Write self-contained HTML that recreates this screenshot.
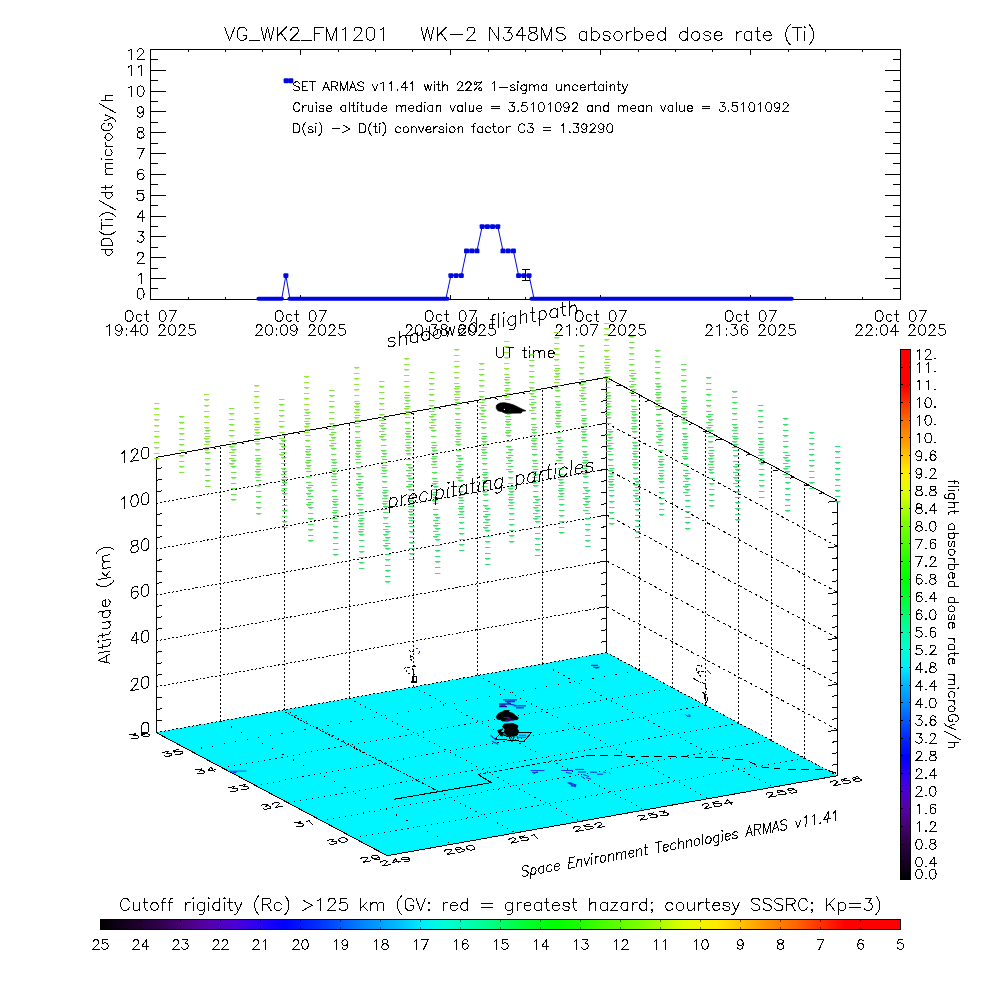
<!DOCTYPE html>
<html><head><meta charset="utf-8"><title>ARMAS absorbed dose rate</title>
<style>
html,body{margin:0;padding:0;background:#fff;}
body{width:1000px;height:1000px;overflow:hidden;font-family:"Liberation Sans",sans-serif;}
svg{display:block;}
</style></head><body>
<svg width="1000" height="1000" viewBox="0 0 1000 1000">
<rect x="0" y="0" width="1000" height="1000" fill="#fff"/>
<g id="topplot" shape-rendering="crispEdges">
<rect x="150.5" y="49.5" width="750.0" height="250.0" fill="none" stroke="#000" stroke-width="1"/>
<line x1="150.5" y1="299.5" x2="166.1" y2="299.5" stroke="#000" stroke-width="1"/>
<line x1="900.5" y1="299.5" x2="884.9" y2="299.5" stroke="#000" stroke-width="1"/>
<line x1="150.5" y1="288.5" x2="158.1" y2="288.5" stroke="#000" stroke-width="1"/>
<line x1="900.5" y1="288.5" x2="892.9" y2="288.5" stroke="#000" stroke-width="1"/>
<line x1="150.5" y1="278.5" x2="166.1" y2="278.5" stroke="#000" stroke-width="1"/>
<line x1="900.5" y1="278.5" x2="884.9" y2="278.5" stroke="#000" stroke-width="1"/>
<line x1="150.5" y1="268.5" x2="158.1" y2="268.5" stroke="#000" stroke-width="1"/>
<line x1="900.5" y1="268.5" x2="892.9" y2="268.5" stroke="#000" stroke-width="1"/>
<line x1="150.5" y1="257.5" x2="166.1" y2="257.5" stroke="#000" stroke-width="1"/>
<line x1="900.5" y1="257.5" x2="884.9" y2="257.5" stroke="#000" stroke-width="1"/>
<line x1="150.5" y1="247.5" x2="158.1" y2="247.5" stroke="#000" stroke-width="1"/>
<line x1="900.5" y1="247.5" x2="892.9" y2="247.5" stroke="#000" stroke-width="1"/>
<line x1="150.5" y1="236.5" x2="166.1" y2="236.5" stroke="#000" stroke-width="1"/>
<line x1="900.5" y1="236.5" x2="884.9" y2="236.5" stroke="#000" stroke-width="1"/>
<line x1="150.5" y1="226.5" x2="158.1" y2="226.5" stroke="#000" stroke-width="1"/>
<line x1="900.5" y1="226.5" x2="892.9" y2="226.5" stroke="#000" stroke-width="1"/>
<line x1="150.5" y1="216.5" x2="166.1" y2="216.5" stroke="#000" stroke-width="1"/>
<line x1="900.5" y1="216.5" x2="884.9" y2="216.5" stroke="#000" stroke-width="1"/>
<line x1="150.5" y1="205.5" x2="158.1" y2="205.5" stroke="#000" stroke-width="1"/>
<line x1="900.5" y1="205.5" x2="892.9" y2="205.5" stroke="#000" stroke-width="1"/>
<line x1="150.5" y1="195.5" x2="166.1" y2="195.5" stroke="#000" stroke-width="1"/>
<line x1="900.5" y1="195.5" x2="884.9" y2="195.5" stroke="#000" stroke-width="1"/>
<line x1="150.5" y1="184.5" x2="158.1" y2="184.5" stroke="#000" stroke-width="1"/>
<line x1="900.5" y1="184.5" x2="892.9" y2="184.5" stroke="#000" stroke-width="1"/>
<line x1="150.5" y1="174.5" x2="166.1" y2="174.5" stroke="#000" stroke-width="1"/>
<line x1="900.5" y1="174.5" x2="884.9" y2="174.5" stroke="#000" stroke-width="1"/>
<line x1="150.5" y1="163.5" x2="158.1" y2="163.5" stroke="#000" stroke-width="1"/>
<line x1="900.5" y1="163.5" x2="892.9" y2="163.5" stroke="#000" stroke-width="1"/>
<line x1="150.5" y1="153.5" x2="166.1" y2="153.5" stroke="#000" stroke-width="1"/>
<line x1="900.5" y1="153.5" x2="884.9" y2="153.5" stroke="#000" stroke-width="1"/>
<line x1="150.5" y1="143.5" x2="158.1" y2="143.5" stroke="#000" stroke-width="1"/>
<line x1="900.5" y1="143.5" x2="892.9" y2="143.5" stroke="#000" stroke-width="1"/>
<line x1="150.5" y1="132.5" x2="166.1" y2="132.5" stroke="#000" stroke-width="1"/>
<line x1="900.5" y1="132.5" x2="884.9" y2="132.5" stroke="#000" stroke-width="1"/>
<line x1="150.5" y1="122.5" x2="158.1" y2="122.5" stroke="#000" stroke-width="1"/>
<line x1="900.5" y1="122.5" x2="892.9" y2="122.5" stroke="#000" stroke-width="1"/>
<line x1="150.5" y1="111.5" x2="166.1" y2="111.5" stroke="#000" stroke-width="1"/>
<line x1="900.5" y1="111.5" x2="884.9" y2="111.5" stroke="#000" stroke-width="1"/>
<line x1="150.5" y1="101.5" x2="158.1" y2="101.5" stroke="#000" stroke-width="1"/>
<line x1="900.5" y1="101.5" x2="892.9" y2="101.5" stroke="#000" stroke-width="1"/>
<line x1="150.5" y1="91.5" x2="166.1" y2="91.5" stroke="#000" stroke-width="1"/>
<line x1="900.5" y1="91.5" x2="884.9" y2="91.5" stroke="#000" stroke-width="1"/>
<line x1="150.5" y1="80.5" x2="158.1" y2="80.5" stroke="#000" stroke-width="1"/>
<line x1="900.5" y1="80.5" x2="892.9" y2="80.5" stroke="#000" stroke-width="1"/>
<line x1="150.5" y1="70.5" x2="166.1" y2="70.5" stroke="#000" stroke-width="1"/>
<line x1="900.5" y1="70.5" x2="884.9" y2="70.5" stroke="#000" stroke-width="1"/>
<line x1="150.5" y1="59.5" x2="158.1" y2="59.5" stroke="#000" stroke-width="1"/>
<line x1="900.5" y1="59.5" x2="892.9" y2="59.5" stroke="#000" stroke-width="1"/>
<line x1="150.5" y1="49.5" x2="166.1" y2="49.5" stroke="#000" stroke-width="1"/>
<line x1="900.5" y1="49.5" x2="884.9" y2="49.5" stroke="#000" stroke-width="1"/>
<line x1="150.5" y1="299.5" x2="150.5" y2="294.5" stroke="#000" stroke-width="1"/>
<line x1="150.5" y1="49.5" x2="150.5" y2="54.5" stroke="#000" stroke-width="1"/>
<line x1="188.5" y1="299.5" x2="188.5" y2="297" stroke="#000" stroke-width="1"/>
<line x1="188.5" y1="49.5" x2="188.5" y2="52" stroke="#000" stroke-width="1"/>
<line x1="225.5" y1="299.5" x2="225.5" y2="297" stroke="#000" stroke-width="1"/>
<line x1="225.5" y1="49.5" x2="225.5" y2="52" stroke="#000" stroke-width="1"/>
<line x1="262.5" y1="299.5" x2="262.5" y2="297" stroke="#000" stroke-width="1"/>
<line x1="262.5" y1="49.5" x2="262.5" y2="52" stroke="#000" stroke-width="1"/>
<line x1="300.5" y1="299.5" x2="300.5" y2="294.5" stroke="#000" stroke-width="1"/>
<line x1="300.5" y1="49.5" x2="300.5" y2="54.5" stroke="#000" stroke-width="1"/>
<line x1="338.5" y1="299.5" x2="338.5" y2="297" stroke="#000" stroke-width="1"/>
<line x1="338.5" y1="49.5" x2="338.5" y2="52" stroke="#000" stroke-width="1"/>
<line x1="375.5" y1="299.5" x2="375.5" y2="297" stroke="#000" stroke-width="1"/>
<line x1="375.5" y1="49.5" x2="375.5" y2="52" stroke="#000" stroke-width="1"/>
<line x1="412.5" y1="299.5" x2="412.5" y2="297" stroke="#000" stroke-width="1"/>
<line x1="412.5" y1="49.5" x2="412.5" y2="52" stroke="#000" stroke-width="1"/>
<line x1="450.5" y1="299.5" x2="450.5" y2="294.5" stroke="#000" stroke-width="1"/>
<line x1="450.5" y1="49.5" x2="450.5" y2="54.5" stroke="#000" stroke-width="1"/>
<line x1="488.5" y1="299.5" x2="488.5" y2="297" stroke="#000" stroke-width="1"/>
<line x1="488.5" y1="49.5" x2="488.5" y2="52" stroke="#000" stroke-width="1"/>
<line x1="525.5" y1="299.5" x2="525.5" y2="297" stroke="#000" stroke-width="1"/>
<line x1="525.5" y1="49.5" x2="525.5" y2="52" stroke="#000" stroke-width="1"/>
<line x1="562.5" y1="299.5" x2="562.5" y2="297" stroke="#000" stroke-width="1"/>
<line x1="562.5" y1="49.5" x2="562.5" y2="52" stroke="#000" stroke-width="1"/>
<line x1="600.5" y1="299.5" x2="600.5" y2="294.5" stroke="#000" stroke-width="1"/>
<line x1="600.5" y1="49.5" x2="600.5" y2="54.5" stroke="#000" stroke-width="1"/>
<line x1="638.5" y1="299.5" x2="638.5" y2="297" stroke="#000" stroke-width="1"/>
<line x1="638.5" y1="49.5" x2="638.5" y2="52" stroke="#000" stroke-width="1"/>
<line x1="675.5" y1="299.5" x2="675.5" y2="297" stroke="#000" stroke-width="1"/>
<line x1="675.5" y1="49.5" x2="675.5" y2="52" stroke="#000" stroke-width="1"/>
<line x1="712.5" y1="299.5" x2="712.5" y2="297" stroke="#000" stroke-width="1"/>
<line x1="712.5" y1="49.5" x2="712.5" y2="52" stroke="#000" stroke-width="1"/>
<line x1="750.5" y1="299.5" x2="750.5" y2="294.5" stroke="#000" stroke-width="1"/>
<line x1="750.5" y1="49.5" x2="750.5" y2="54.5" stroke="#000" stroke-width="1"/>
<line x1="788.5" y1="299.5" x2="788.5" y2="297" stroke="#000" stroke-width="1"/>
<line x1="788.5" y1="49.5" x2="788.5" y2="52" stroke="#000" stroke-width="1"/>
<line x1="825.5" y1="299.5" x2="825.5" y2="297" stroke="#000" stroke-width="1"/>
<line x1="825.5" y1="49.5" x2="825.5" y2="52" stroke="#000" stroke-width="1"/>
<line x1="862.5" y1="299.5" x2="862.5" y2="297" stroke="#000" stroke-width="1"/>
<line x1="862.5" y1="49.5" x2="862.5" y2="52" stroke="#000" stroke-width="1"/>
<line x1="900.5" y1="299.5" x2="900.5" y2="294.5" stroke="#000" stroke-width="1"/>
<line x1="900.5" y1="49.5" x2="900.5" y2="54.5" stroke="#000" stroke-width="1"/>
</g>
<path d="M140 288.5L138.5 289L137.5 290.5L137 293L137 294.5L137.5 297L138.5 298.5L140 299L141 299L142.5 298.5L143.5 297L144 294.5L144 293L143.5 290.5L142.5 289L141 288.5L140 288.5" fill="none" stroke="#000" stroke-width="1.0" stroke-linecap="square" stroke-linejoin="round" shape-rendering="crispEdges"/>
<path d="M138.5 275.37L139.5 274.87L141 273.37L141 283.87" fill="none" stroke="#000" stroke-width="1.0" stroke-linecap="square" stroke-linejoin="round" shape-rendering="crispEdges"/>
<path d="M137.5 255.03L137.5 254.53L138 253.53L138.5 253.03L139.5 252.53L141.5 252.53L142.5 253.03L143 253.53L143.5 254.53L143.5 255.53L143 256.53L142 258.03L137 263.03L144 263.03" fill="none" stroke="#000" stroke-width="1.0" stroke-linecap="square" stroke-linejoin="round" shape-rendering="crispEdges"/>
<path d="M138 231.7L143.5 231.7L140.5 235.7L142 235.7L143 236.2L143.5 236.7L144 238.2L144 239.2L143.5 240.7L142.5 241.7L141 242.2L139.5 242.2L138 241.7L137.5 241.2L137 240.2" fill="none" stroke="#000" stroke-width="1.0" stroke-linecap="square" stroke-linejoin="round" shape-rendering="crispEdges"/>
<path d="M142 210.87L137 217.87L144.5 217.87M142 210.87L142 221.37" fill="none" stroke="#000" stroke-width="1.0" stroke-linecap="square" stroke-linejoin="round" shape-rendering="crispEdges"/>
<path d="M143 190.03L138 190.03L137.5 194.53L138 194.03L139.5 193.53L141 193.53L142.5 194.03L143.5 195.03L144 196.53L144 197.53L143.5 199.03L142.5 200.03L141 200.53L139.5 200.53L138 200.03L137.5 199.53L137 198.53" fill="none" stroke="#000" stroke-width="1.0" stroke-linecap="square" stroke-linejoin="round" shape-rendering="crispEdges"/>
<path d="M143.5 170.7L143 169.7L141.5 169.2L140.5 169.2L139 169.7L138 171.2L137.5 173.7L137.5 176.2L138 178.2L139 179.2L140.5 179.7L141 179.7L142.5 179.2L143.5 178.2L144 176.7L144 176.2L143.5 174.7L142.5 173.7L141 173.2L140.5 173.2L139 173.7L138 174.7L137.5 176.2" fill="none" stroke="#000" stroke-width="1.0" stroke-linecap="square" stroke-linejoin="round" shape-rendering="crispEdges"/>
<path d="M144 148.37L139 158.87M137 148.37L144 148.37" fill="none" stroke="#000" stroke-width="1.0" stroke-linecap="square" stroke-linejoin="round" shape-rendering="crispEdges"/>
<path d="M139.5 127.53L138 128.03L137.5 129.03L137.5 130.03L138 131.03L139 131.53L141 132.03L142.5 132.53L143.5 133.53L144 134.53L144 136.03L143.5 137.03L143 137.53L141.5 138.03L139.5 138.03L138 137.53L137.5 137.03L137 136.03L137 134.53L137.5 133.53L138.5 132.53L140 132.03L142 131.53L143 131.03L143.5 130.03L143.5 129.03L143 128.03L141.5 127.53L139.5 127.53" fill="none" stroke="#000" stroke-width="1.0" stroke-linecap="square" stroke-linejoin="round" shape-rendering="crispEdges"/>
<path d="M143.5 110.2L143 111.7L142 112.7L140.5 113.2L140 113.2L138.5 112.7L137.5 111.7L137 110.2L137 109.7L137.5 108.2L138.5 107.2L140 106.7L140.5 106.7L142 107.2L143 108.2L143.5 110.2L143.5 112.7L143 115.2L142 116.7L140.5 117.2L139.5 117.2L138 116.7L137.5 115.7" fill="none" stroke="#000" stroke-width="1.0" stroke-linecap="square" stroke-linejoin="round" shape-rendering="crispEdges"/>
<path d="M128.5 87.87L129.5 87.37L131 85.87L131 96.37M140 85.87L138.5 86.37L137.5 87.87L137 90.37L137 91.87L137.5 94.37L138.5 95.87L140 96.37L141 96.37L142.5 95.87L143.5 94.37L144 91.87L144 90.37L143.5 87.87L142.5 86.37L141 85.87L140 85.87" fill="none" stroke="#000" stroke-width="1.0" stroke-linecap="square" stroke-linejoin="round" shape-rendering="crispEdges"/>
<path d="M128.5 67.03L129.5 66.53L131 65.03L131 75.53M138.5 67.03L139.5 66.53L141 65.03L141 75.53" fill="none" stroke="#000" stroke-width="1.0" stroke-linecap="square" stroke-linejoin="round" shape-rendering="crispEdges"/>
<path d="M128.5 50.8L129.5 50.3L131 48.8L131 59.3M137.5 51.3L137.5 50.8L138 49.8L138.5 49.3L139.5 48.8L141.5 48.8L142.5 49.3L143 49.8L143.5 50.8L143.5 51.8L143 52.8L142 54.3L137 59.3L144 59.3" fill="none" stroke="#000" stroke-width="1.0" stroke-linecap="square" stroke-linejoin="round" shape-rendering="crispEdges"/>
<path d="M128 310.8L127 311.3L126 312.3L125.5 313.3L125 314.8L125 317.3L125.5 318.8L126 319.8L127 320.8L128 321.3L130 321.3L131 320.8L132 319.8L132.5 318.8L133 317.3L133 314.8L132.5 313.3L132 312.3L131 311.3L130 310.8L128 310.8M142 315.8L141 314.8L140 314.3L138.5 314.3L137.5 314.8L136.5 315.8L136 317.3L136 318.3L136.5 319.8L137.5 320.8L138.5 321.3L140 321.3L141 320.8L142 319.8M146 310.8L146 319.3L146.5 320.8L147.5 321.3L148.5 321.3M144.5 314.3L148 314.3M162 310.8L160.5 311.3L159.5 312.8L159 315.3L159 316.8L159.5 319.3L160.5 320.8L162 321.3L163 321.3L164.5 320.8L165.5 319.3L166 316.8L166 315.3L165.5 312.8L164.5 311.3L163 310.8L162 310.8M176 310.8L171 321.3M169 310.8L176 310.8" fill="none" stroke="#000" stroke-width="1.0" stroke-linecap="square" stroke-linejoin="round" shape-rendering="crispEdges"/>
<path d="M107 326.8L108 326.3L109.5 324.8L109.5 335.3M122 328.3L121.5 329.8L120.5 330.8L119 331.3L118.5 331.3L117 330.8L116 329.8L115.5 328.3L115.5 327.8L116 326.3L117 325.3L118.5 324.8L119 324.8L120.5 325.3L121.5 326.3L122 328.3L122 330.8L121.5 333.3L120.5 334.8L119 335.3L118 335.3L116.5 334.8L116 333.8M126.5 328.3L126 328.8L126.5 329.3L127 328.8L126.5 328.3M126.5 334.3L126 334.8L126.5 335.3L127 334.8L126.5 334.3M135.5 324.8L130.5 331.8L138 331.8M135.5 324.8L135.5 335.3M143.5 324.8L142 325.3L141 326.8L140.5 329.3L140.5 330.8L141 333.3L142 334.8L143.5 335.3L144.5 335.3L146 334.8L147 333.3L147.5 330.8L147.5 329.3L147 326.8L146 325.3L144.5 324.8L143.5 324.8M159 327.3L159 326.8L159.5 325.8L160 325.3L161 324.8L163 324.8L164 325.3L164.5 325.8L165 326.8L165 327.8L164.5 328.8L163.5 330.3L158.5 335.3L165.5 335.3M171.5 324.8L170 325.3L169 326.8L168.5 329.3L168.5 330.8L169 333.3L170 334.8L171.5 335.3L172.5 335.3L174 334.8L175 333.3L175.5 330.8L175.5 329.3L175 326.8L174 325.3L172.5 324.8L171.5 324.8M179 327.3L179 326.8L179.5 325.8L180 325.3L181 324.8L183 324.8L184 325.3L184.5 325.8L185 326.8L185 327.8L184.5 328.8L183.5 330.3L178.5 335.3L185.5 335.3M194.5 324.8L189.5 324.8L189 329.3L189.5 328.8L191 328.3L192.5 328.3L194 328.8L195 329.8L195.5 331.3L195.5 332.3L195 333.8L194 334.8L192.5 335.3L191 335.3L189.5 334.8L189 334.3L188.5 333.3" fill="none" stroke="#000" stroke-width="1.0" stroke-linecap="square" stroke-linejoin="round" shape-rendering="crispEdges"/>
<path d="M278 310.8L277 311.3L276 312.3L275.5 313.3L275 314.8L275 317.3L275.5 318.8L276 319.8L277 320.8L278 321.3L280 321.3L281 320.8L282 319.8L282.5 318.8L283 317.3L283 314.8L282.5 313.3L282 312.3L281 311.3L280 310.8L278 310.8M292 315.8L291 314.8L290 314.3L288.5 314.3L287.5 314.8L286.5 315.8L286 317.3L286 318.3L286.5 319.8L287.5 320.8L288.5 321.3L290 321.3L291 320.8L292 319.8M296 310.8L296 319.3L296.5 320.8L297.5 321.3L298.5 321.3M294.5 314.3L298 314.3M312 310.8L310.5 311.3L309.5 312.8L309 315.3L309 316.8L309.5 319.3L310.5 320.8L312 321.3L313 321.3L314.5 320.8L315.5 319.3L316 316.8L316 315.3L315.5 312.8L314.5 311.3L313 310.8L312 310.8M326 310.8L321 321.3M319 310.8L326 310.8" fill="none" stroke="#000" stroke-width="1.0" stroke-linecap="square" stroke-linejoin="round" shape-rendering="crispEdges"/>
<path d="M256 327.3L256 326.8L256.5 325.8L257 325.3L258 324.8L260 324.8L261 325.3L261.5 325.8L262 326.8L262 327.8L261.5 328.8L260.5 330.3L255.5 335.3L262.5 335.3M268.5 324.8L267 325.3L266 326.8L265.5 329.3L265.5 330.8L266 333.3L267 334.8L268.5 335.3L269.5 335.3L271 334.8L272 333.3L272.5 330.8L272.5 329.3L272 326.8L271 325.3L269.5 324.8L268.5 324.8M276.5 328.3L276 328.8L276.5 329.3L277 328.8L276.5 328.3M276.5 334.3L276 334.8L276.5 335.3L277 334.8L276.5 334.3M283.5 324.8L282 325.3L281 326.8L280.5 329.3L280.5 330.8L281 333.3L282 334.8L283.5 335.3L284.5 335.3L286 334.8L287 333.3L287.5 330.8L287.5 329.3L287 326.8L286 325.3L284.5 324.8L283.5 324.8M297 328.3L296.5 329.8L295.5 330.8L294 331.3L293.5 331.3L292 330.8L291 329.8L290.5 328.3L290.5 327.8L291 326.3L292 325.3L293.5 324.8L294 324.8L295.5 325.3L296.5 326.3L297 328.3L297 330.8L296.5 333.3L295.5 334.8L294 335.3L293 335.3L291.5 334.8L291 333.8M309 327.3L309 326.8L309.5 325.8L310 325.3L311 324.8L313 324.8L314 325.3L314.5 325.8L315 326.8L315 327.8L314.5 328.8L313.5 330.3L308.5 335.3L315.5 335.3M321.5 324.8L320 325.3L319 326.8L318.5 329.3L318.5 330.8L319 333.3L320 334.8L321.5 335.3L322.5 335.3L324 334.8L325 333.3L325.5 330.8L325.5 329.3L325 326.8L324 325.3L322.5 324.8L321.5 324.8M329 327.3L329 326.8L329.5 325.8L330 325.3L331 324.8L333 324.8L334 325.3L334.5 325.8L335 326.8L335 327.8L334.5 328.8L333.5 330.3L328.5 335.3L335.5 335.3M344.5 324.8L339.5 324.8L339 329.3L339.5 328.8L341 328.3L342.5 328.3L344 328.8L345 329.8L345.5 331.3L345.5 332.3L345 333.8L344 334.8L342.5 335.3L341 335.3L339.5 334.8L339 334.3L338.5 333.3" fill="none" stroke="#000" stroke-width="1.0" stroke-linecap="square" stroke-linejoin="round" shape-rendering="crispEdges"/>
<path d="M428 310.8L427 311.3L426 312.3L425.5 313.3L425 314.8L425 317.3L425.5 318.8L426 319.8L427 320.8L428 321.3L430 321.3L431 320.8L432 319.8L432.5 318.8L433 317.3L433 314.8L432.5 313.3L432 312.3L431 311.3L430 310.8L428 310.8M442 315.8L441 314.8L440 314.3L438.5 314.3L437.5 314.8L436.5 315.8L436 317.3L436 318.3L436.5 319.8L437.5 320.8L438.5 321.3L440 321.3L441 320.8L442 319.8M446 310.8L446 319.3L446.5 320.8L447.5 321.3L448.5 321.3M444.5 314.3L448 314.3M462 310.8L460.5 311.3L459.5 312.8L459 315.3L459 316.8L459.5 319.3L460.5 320.8L462 321.3L463 321.3L464.5 320.8L465.5 319.3L466 316.8L466 315.3L465.5 312.8L464.5 311.3L463 310.8L462 310.8M476 310.8L471 321.3M469 310.8L476 310.8" fill="none" stroke="#000" stroke-width="1.0" stroke-linecap="square" stroke-linejoin="round" shape-rendering="crispEdges"/>
<path d="M406 327.3L406 326.8L406.5 325.8L407 325.3L408 324.8L410 324.8L411 325.3L411.5 325.8L412 326.8L412 327.8L411.5 328.8L410.5 330.3L405.5 335.3L412.5 335.3M418.5 324.8L417 325.3L416 326.8L415.5 329.3L415.5 330.8L416 333.3L417 334.8L418.5 335.3L419.5 335.3L421 334.8L422 333.3L422.5 330.8L422.5 329.3L422 326.8L421 325.3L419.5 324.8L418.5 324.8M426.5 328.3L426 328.8L426.5 329.3L427 328.8L426.5 328.3M426.5 334.3L426 334.8L426.5 335.3L427 334.8L426.5 334.3M431.5 324.8L437 324.8L434 328.8L435.5 328.8L436.5 329.3L437 329.8L437.5 331.3L437.5 332.3L437 333.8L436 334.8L434.5 335.3L433 335.3L431.5 334.8L431 334.3L430.5 333.3M443 324.8L441.5 325.3L441 326.3L441 327.3L441.5 328.3L442.5 328.8L444.5 329.3L446 329.8L447 330.8L447.5 331.8L447.5 333.3L447 334.3L446.5 334.8L445 335.3L443 335.3L441.5 334.8L441 334.3L440.5 333.3L440.5 331.8L441 330.8L442 329.8L443.5 329.3L445.5 328.8L446.5 328.3L447 327.3L447 326.3L446.5 325.3L445 324.8L443 324.8M459 327.3L459 326.8L459.5 325.8L460 325.3L461 324.8L463 324.8L464 325.3L464.5 325.8L465 326.8L465 327.8L464.5 328.8L463.5 330.3L458.5 335.3L465.5 335.3M471.5 324.8L470 325.3L469 326.8L468.5 329.3L468.5 330.8L469 333.3L470 334.8L471.5 335.3L472.5 335.3L474 334.8L475 333.3L475.5 330.8L475.5 329.3L475 326.8L474 325.3L472.5 324.8L471.5 324.8M479 327.3L479 326.8L479.5 325.8L480 325.3L481 324.8L483 324.8L484 325.3L484.5 325.8L485 326.8L485 327.8L484.5 328.8L483.5 330.3L478.5 335.3L485.5 335.3M494.5 324.8L489.5 324.8L489 329.3L489.5 328.8L491 328.3L492.5 328.3L494 328.8L495 329.8L495.5 331.3L495.5 332.3L495 333.8L494 334.8L492.5 335.3L491 335.3L489.5 334.8L489 334.3L488.5 333.3" fill="none" stroke="#000" stroke-width="1.0" stroke-linecap="square" stroke-linejoin="round" shape-rendering="crispEdges"/>
<path d="M578 310.8L577 311.3L576 312.3L575.5 313.3L575 314.8L575 317.3L575.5 318.8L576 319.8L577 320.8L578 321.3L580 321.3L581 320.8L582 319.8L582.5 318.8L583 317.3L583 314.8L582.5 313.3L582 312.3L581 311.3L580 310.8L578 310.8M592 315.8L591 314.8L590 314.3L588.5 314.3L587.5 314.8L586.5 315.8L586 317.3L586 318.3L586.5 319.8L587.5 320.8L588.5 321.3L590 321.3L591 320.8L592 319.8M596 310.8L596 319.3L596.5 320.8L597.5 321.3L598.5 321.3M594.5 314.3L598 314.3M612 310.8L610.5 311.3L609.5 312.8L609 315.3L609 316.8L609.5 319.3L610.5 320.8L612 321.3L613 321.3L614.5 320.8L615.5 319.3L616 316.8L616 315.3L615.5 312.8L614.5 311.3L613 310.8L612 310.8M626 310.8L621 321.3M619 310.8L626 310.8" fill="none" stroke="#000" stroke-width="1.0" stroke-linecap="square" stroke-linejoin="round" shape-rendering="crispEdges"/>
<path d="M556 327.3L556 326.8L556.5 325.8L557 325.3L558 324.8L560 324.8L561 325.3L561.5 325.8L562 326.8L562 327.8L561.5 328.8L560.5 330.3L555.5 335.3L562.5 335.3M567 326.8L568 326.3L569.5 324.8L569.5 335.3M576.5 328.3L576 328.8L576.5 329.3L577 328.8L576.5 328.3M576.5 334.3L576 334.8L576.5 335.3L577 334.8L576.5 334.3M583.5 324.8L582 325.3L581 326.8L580.5 329.3L580.5 330.8L581 333.3L582 334.8L583.5 335.3L584.5 335.3L586 334.8L587 333.3L587.5 330.8L587.5 329.3L587 326.8L586 325.3L584.5 324.8L583.5 324.8M597.5 324.8L592.5 335.3M590.5 324.8L597.5 324.8M609 327.3L609 326.8L609.5 325.8L610 325.3L611 324.8L613 324.8L614 325.3L614.5 325.8L615 326.8L615 327.8L614.5 328.8L613.5 330.3L608.5 335.3L615.5 335.3M621.5 324.8L620 325.3L619 326.8L618.5 329.3L618.5 330.8L619 333.3L620 334.8L621.5 335.3L622.5 335.3L624 334.8L625 333.3L625.5 330.8L625.5 329.3L625 326.8L624 325.3L622.5 324.8L621.5 324.8M629 327.3L629 326.8L629.5 325.8L630 325.3L631 324.8L633 324.8L634 325.3L634.5 325.8L635 326.8L635 327.8L634.5 328.8L633.5 330.3L628.5 335.3L635.5 335.3M644.5 324.8L639.5 324.8L639 329.3L639.5 328.8L641 328.3L642.5 328.3L644 328.8L645 329.8L645.5 331.3L645.5 332.3L645 333.8L644 334.8L642.5 335.3L641 335.3L639.5 334.8L639 334.3L638.5 333.3" fill="none" stroke="#000" stroke-width="1.0" stroke-linecap="square" stroke-linejoin="round" shape-rendering="crispEdges"/>
<path d="M728 310.8L727 311.3L726 312.3L725.5 313.3L725 314.8L725 317.3L725.5 318.8L726 319.8L727 320.8L728 321.3L730 321.3L731 320.8L732 319.8L732.5 318.8L733 317.3L733 314.8L732.5 313.3L732 312.3L731 311.3L730 310.8L728 310.8M742 315.8L741 314.8L740 314.3L738.5 314.3L737.5 314.8L736.5 315.8L736 317.3L736 318.3L736.5 319.8L737.5 320.8L738.5 321.3L740 321.3L741 320.8L742 319.8M746 310.8L746 319.3L746.5 320.8L747.5 321.3L748.5 321.3M744.5 314.3L748 314.3M762 310.8L760.5 311.3L759.5 312.8L759 315.3L759 316.8L759.5 319.3L760.5 320.8L762 321.3L763 321.3L764.5 320.8L765.5 319.3L766 316.8L766 315.3L765.5 312.8L764.5 311.3L763 310.8L762 310.8M776 310.8L771 321.3M769 310.8L776 310.8" fill="none" stroke="#000" stroke-width="1.0" stroke-linecap="square" stroke-linejoin="round" shape-rendering="crispEdges"/>
<path d="M706 327.3L706 326.8L706.5 325.8L707 325.3L708 324.8L710 324.8L711 325.3L711.5 325.8L712 326.8L712 327.8L711.5 328.8L710.5 330.3L705.5 335.3L712.5 335.3M717 326.8L718 326.3L719.5 324.8L719.5 335.3M726.5 328.3L726 328.8L726.5 329.3L727 328.8L726.5 328.3M726.5 334.3L726 334.8L726.5 335.3L727 334.8L726.5 334.3M731.5 324.8L737 324.8L734 328.8L735.5 328.8L736.5 329.3L737 329.8L737.5 331.3L737.5 332.3L737 333.8L736 334.8L734.5 335.3L733 335.3L731.5 334.8L731 334.3L730.5 333.3M747 326.3L746.5 325.3L745 324.8L744 324.8L742.5 325.3L741.5 326.8L741 329.3L741 331.8L741.5 333.8L742.5 334.8L744 335.3L744.5 335.3L746 334.8L747 333.8L747.5 332.3L747.5 331.8L747 330.3L746 329.3L744.5 328.8L744 328.8L742.5 329.3L741.5 330.3L741 331.8M759 327.3L759 326.8L759.5 325.8L760 325.3L761 324.8L763 324.8L764 325.3L764.5 325.8L765 326.8L765 327.8L764.5 328.8L763.5 330.3L758.5 335.3L765.5 335.3M771.5 324.8L770 325.3L769 326.8L768.5 329.3L768.5 330.8L769 333.3L770 334.8L771.5 335.3L772.5 335.3L774 334.8L775 333.3L775.5 330.8L775.5 329.3L775 326.8L774 325.3L772.5 324.8L771.5 324.8M779 327.3L779 326.8L779.5 325.8L780 325.3L781 324.8L783 324.8L784 325.3L784.5 325.8L785 326.8L785 327.8L784.5 328.8L783.5 330.3L778.5 335.3L785.5 335.3M794.5 324.8L789.5 324.8L789 329.3L789.5 328.8L791 328.3L792.5 328.3L794 328.8L795 329.8L795.5 331.3L795.5 332.3L795 333.8L794 334.8L792.5 335.3L791 335.3L789.5 334.8L789 334.3L788.5 333.3" fill="none" stroke="#000" stroke-width="1.0" stroke-linecap="square" stroke-linejoin="round" shape-rendering="crispEdges"/>
<path d="M878 310.8L877 311.3L876 312.3L875.5 313.3L875 314.8L875 317.3L875.5 318.8L876 319.8L877 320.8L878 321.3L880 321.3L881 320.8L882 319.8L882.5 318.8L883 317.3L883 314.8L882.5 313.3L882 312.3L881 311.3L880 310.8L878 310.8M892 315.8L891 314.8L890 314.3L888.5 314.3L887.5 314.8L886.5 315.8L886 317.3L886 318.3L886.5 319.8L887.5 320.8L888.5 321.3L890 321.3L891 320.8L892 319.8M896 310.8L896 319.3L896.5 320.8L897.5 321.3L898.5 321.3M894.5 314.3L898 314.3M912 310.8L910.5 311.3L909.5 312.8L909 315.3L909 316.8L909.5 319.3L910.5 320.8L912 321.3L913 321.3L914.5 320.8L915.5 319.3L916 316.8L916 315.3L915.5 312.8L914.5 311.3L913 310.8L912 310.8M926 310.8L921 321.3M919 310.8L926 310.8" fill="none" stroke="#000" stroke-width="1.0" stroke-linecap="square" stroke-linejoin="round" shape-rendering="crispEdges"/>
<path d="M856 327.3L856 326.8L856.5 325.8L857 325.3L858 324.8L860 324.8L861 325.3L861.5 325.8L862 326.8L862 327.8L861.5 328.8L860.5 330.3L855.5 335.3L862.5 335.3M866 327.3L866 326.8L866.5 325.8L867 325.3L868 324.8L870 324.8L871 325.3L871.5 325.8L872 326.8L872 327.8L871.5 328.8L870.5 330.3L865.5 335.3L872.5 335.3M876.5 328.3L876 328.8L876.5 329.3L877 328.8L876.5 328.3M876.5 334.3L876 334.8L876.5 335.3L877 334.8L876.5 334.3M883.5 324.8L882 325.3L881 326.8L880.5 329.3L880.5 330.8L881 333.3L882 334.8L883.5 335.3L884.5 335.3L886 334.8L887 333.3L887.5 330.8L887.5 329.3L887 326.8L886 325.3L884.5 324.8L883.5 324.8M895.5 324.8L890.5 331.8L898 331.8M895.5 324.8L895.5 335.3M909 327.3L909 326.8L909.5 325.8L910 325.3L911 324.8L913 324.8L914 325.3L914.5 325.8L915 326.8L915 327.8L914.5 328.8L913.5 330.3L908.5 335.3L915.5 335.3M921.5 324.8L920 325.3L919 326.8L918.5 329.3L918.5 330.8L919 333.3L920 334.8L921.5 335.3L922.5 335.3L924 334.8L925 333.3L925.5 330.8L925.5 329.3L925 326.8L924 325.3L922.5 324.8L921.5 324.8M929 327.3L929 326.8L929.5 325.8L930 325.3L931 324.8L933 324.8L934 325.3L934.5 325.8L935 326.8L935 327.8L934.5 328.8L933.5 330.3L928.5 335.3L935.5 335.3M944.5 324.8L939.5 324.8L939 329.3L939.5 328.8L941 328.3L942.5 328.3L944 328.8L945 329.8L945.5 331.3L945.5 332.3L945 333.8L944 334.8L942.5 335.3L941 335.3L939.5 334.8L939 334.3L938.5 333.3" fill="none" stroke="#000" stroke-width="1.0" stroke-linecap="square" stroke-linejoin="round" shape-rendering="crispEdges"/>
<path d="M496.5 347L496.5 354.5L497 356L498 357L499.5 357.5L500.5 357.5L502 357L503 356L503.5 354.5L503.5 347M509.5 347L509.5 357.5M506 347L513 347M524 347L524 355.5L524.5 357L525.5 357.5L526.5 357.5M522.5 350.5L526 350.5M529 347L529.5 347.5L530 347L529.5 346.5L529 347M529.5 350.5L529.5 357.5M533.5 350.5L533.5 357.5M533.5 352.5L535 351L536 350.5L537.5 350.5L538.5 351L539 352.5L539 357.5M539 352.5L540.5 351L541.5 350.5L543 350.5L544 351L544.5 352.5L544.5 357.5M548 353.5L554 353.5L554 352.5L553.5 351.5L553 351L552 350.5L550.5 350.5L549.5 351L548.5 352L548 353.5L548 354.5L548.5 356L549.5 357L550.5 357.5L552 357.5L553 357L554 356" fill="none" stroke="#000" stroke-width="1.0" stroke-linecap="square" stroke-linejoin="round" shape-rendering="crispEdges"/>
<path d="M224.54 27.13L229.6 40.4M234.65 27.13L229.6 40.4M246.66 30.29L246.03 29.02L244.76 27.76L243.5 27.13L240.97 27.13L239.71 27.76L238.44 29.02L237.81 30.29L237.18 32.18L237.18 35.34L237.81 37.24L238.44 38.5L239.71 39.77L240.97 40.4L243.5 40.4L244.76 39.77L246.03 38.5L246.66 37.24L246.66 35.34M243.5 35.34L246.66 35.34M249.19 40.4L259.3 40.4M261.2 27.13L264.36 40.4M267.52 27.13L264.36 40.4M267.52 27.13L270.68 40.4M273.84 27.13L270.68 40.4M277.63 27.13L277.63 40.4M286.48 27.13L277.63 35.98M280.79 32.82L286.48 40.4M290.9 30.29L290.9 29.66L291.53 28.39L292.16 27.76L293.43 27.13L295.96 27.13L297.22 27.76L297.85 28.39L298.48 29.66L298.48 30.92L297.85 32.18L296.59 34.08L290.27 40.4L299.12 40.4M301.64 40.4L311.76 40.4M314.92 27.13L314.92 40.4M314.92 27.13L323.13 27.13M314.92 33.45L319.97 33.45M326.29 27.13L326.29 40.4M326.29 27.13L331.35 40.4M336.4 27.13L331.35 40.4M336.4 27.13L336.4 40.4M342.72 29.66L343.99 29.02L345.88 27.13L345.88 40.4M354.1 30.29L354.1 29.66L354.73 28.39L355.36 27.76L356.63 27.13L359.16 27.13L360.42 27.76L361.05 28.39L361.68 29.66L361.68 30.92L361.05 32.18L359.79 34.08L353.47 40.4L362.32 40.4M369.9 27.13L368 27.76L366.74 29.66L366.11 32.82L366.11 34.71L366.74 37.87L368 39.77L369.9 40.4L371.16 40.4L373.06 39.77L374.32 37.87L374.96 34.71L374.96 32.82L374.32 29.66L373.06 27.76L371.16 27.13L369.9 27.13M380.64 29.66L381.91 29.02L383.8 27.13L383.8 40.4M421.09 27.13L424.25 40.4M427.41 27.13L424.25 40.4M427.41 27.13L430.57 40.4M433.73 27.13L430.57 40.4M437.52 27.13L437.52 40.4M446.37 27.13L437.52 35.98M440.68 32.82L446.37 40.4M450.8 34.71L462.17 34.71M467.23 30.29L467.23 29.66L467.86 28.39L468.49 27.76L469.76 27.13L472.28 27.13L473.55 27.76L474.18 28.39L474.81 29.66L474.81 30.92L474.18 32.18L472.92 34.08L466.6 40.4L475.44 40.4M489.98 27.13L489.98 40.4M489.98 27.13L498.83 40.4M498.83 27.13L498.83 40.4M504.52 27.13L511.47 27.13L507.68 32.18L509.57 32.18L510.84 32.82L511.47 33.45L512.1 35.34L512.1 36.61L511.47 38.5L510.2 39.77L508.31 40.4L506.41 40.4L504.52 39.77L503.88 39.14L503.25 37.87M522.21 27.13L515.89 35.98L525.37 35.98M522.21 27.13L522.21 40.4M531.69 27.13L529.8 27.76L529.16 29.02L529.16 30.29L529.8 31.55L531.06 32.18L533.59 32.82L535.48 33.45L536.75 34.71L537.38 35.98L537.38 37.87L536.75 39.14L536.12 39.77L534.22 40.4L531.69 40.4L529.8 39.77L529.16 39.14L528.53 37.87L528.53 35.98L529.16 34.71L530.43 33.45L532.32 32.82L534.85 32.18L536.12 31.55L536.75 30.29L536.75 29.02L536.12 27.76L534.22 27.13L531.69 27.13M541.8 27.13L541.8 40.4M541.8 27.13L546.86 40.4M551.92 27.13L546.86 40.4M551.92 27.13L551.92 40.4M565.19 29.02L563.92 27.76L562.03 27.13L559.5 27.13L557.6 27.76L556.34 29.02L556.34 30.29L556.97 31.55L557.6 32.18L558.87 32.82L562.66 34.08L563.92 34.71L564.56 35.34L565.19 36.61L565.19 38.5L563.92 39.77L562.03 40.4L559.5 40.4L557.6 39.77L556.34 38.5M586.68 31.55L586.68 40.4M586.68 33.45L585.41 32.18L584.15 31.55L582.25 31.55L580.99 32.18L579.72 33.45L579.09 35.34L579.09 36.61L579.72 38.5L580.99 39.77L582.25 40.4L584.15 40.4L585.41 39.77L586.68 38.5M591.73 27.13L591.73 40.4M591.73 33.45L593 32.18L594.26 31.55L596.16 31.55L597.42 32.18L598.68 33.45L599.32 35.34L599.32 36.61L598.68 38.5L597.42 39.77L596.16 40.4L594.26 40.4L593 39.77L591.73 38.5M610.06 33.45L609.43 32.18L607.53 31.55L605.64 31.55L603.74 32.18L603.11 33.45L603.74 34.71L605 35.34L608.16 35.98L609.43 36.61L610.06 37.87L610.06 38.5L609.43 39.77L607.53 40.4L605.64 40.4L603.74 39.77L603.11 38.5M617.01 31.55L615.75 32.18L614.48 33.45L613.85 35.34L613.85 36.61L614.48 38.5L615.75 39.77L617.01 40.4L618.91 40.4L620.17 39.77L621.44 38.5L622.07 36.61L622.07 35.34L621.44 33.45L620.17 32.18L618.91 31.55L617.01 31.55M626.49 31.55L626.49 40.4M626.49 35.34L627.12 33.45L628.39 32.18L629.65 31.55L631.55 31.55M634.71 27.13L634.71 40.4M634.71 33.45L635.97 32.18L637.24 31.55L639.13 31.55L640.4 32.18L641.66 33.45L642.29 35.34L642.29 36.61L641.66 38.5L640.4 39.77L639.13 40.4L637.24 40.4L635.97 39.77L634.71 38.5M646.08 35.34L653.67 35.34L653.67 34.08L653.04 32.82L652.4 32.18L651.14 31.55L649.24 31.55L647.98 32.18L646.72 33.45L646.08 35.34L646.08 36.61L646.72 38.5L647.98 39.77L649.24 40.4L651.14 40.4L652.4 39.77L653.67 38.5M665.04 27.13L665.04 40.4M665.04 33.45L663.78 32.18L662.52 31.55L660.62 31.55L659.36 32.18L658.09 33.45L657.46 35.34L657.46 36.61L658.09 38.5L659.36 39.77L660.62 40.4L662.52 40.4L663.78 39.77L665.04 38.5M687.16 27.13L687.16 40.4M687.16 33.45L685.9 32.18L684.64 31.55L682.74 31.55L681.48 32.18L680.21 33.45L679.58 35.34L679.58 36.61L680.21 38.5L681.48 39.77L682.74 40.4L684.64 40.4L685.9 39.77L687.16 38.5M694.75 31.55L693.48 32.18L692.22 33.45L691.59 35.34L691.59 36.61L692.22 38.5L693.48 39.77L694.75 40.4L696.64 40.4L697.91 39.77L699.17 38.5L699.8 36.61L699.8 35.34L699.17 33.45L697.91 32.18L696.64 31.55L694.75 31.55M710.55 33.45L709.92 32.18L708.02 31.55L706.12 31.55L704.23 32.18L703.6 33.45L704.23 34.71L705.49 35.34L708.65 35.98L709.92 36.61L710.55 37.87L710.55 38.5L709.92 39.77L708.02 40.4L706.12 40.4L704.23 39.77L703.6 38.5M714.34 35.34L721.92 35.34L721.92 34.08L721.29 32.82L720.66 32.18L719.4 31.55L717.5 31.55L716.24 32.18L714.97 33.45L714.34 35.34L714.34 36.61L714.97 38.5L716.24 39.77L717.5 40.4L719.4 40.4L720.66 39.77L721.92 38.5M736.46 31.55L736.46 40.4M736.46 35.34L737.09 33.45L738.36 32.18L739.62 31.55L741.52 31.55M751.63 31.55L751.63 40.4M751.63 33.45L750.36 32.18L749.1 31.55L747.2 31.55L745.94 32.18L744.68 33.45L744.04 35.34L744.04 36.61L744.68 38.5L745.94 39.77L747.2 40.4L749.1 40.4L750.36 39.77L751.63 38.5M757.32 27.13L757.32 37.87L757.95 39.77L759.21 40.4L760.48 40.4M755.42 31.55L759.84 31.55M763.64 35.34L771.22 35.34L771.22 34.08L770.59 32.82L769.96 32.18L768.69 31.55L766.8 31.55L765.53 32.18L764.27 33.45L763.64 35.34L763.64 36.61L764.27 38.5L765.53 39.77L766.8 40.4L768.69 40.4L769.96 39.77L771.22 38.5M790.18 24.6L788.92 25.86L787.65 27.76L786.39 30.29L785.76 33.45L785.76 35.98L786.39 39.14L787.65 41.66L788.92 43.56L790.18 44.82M797.13 27.13L797.13 40.4M792.71 27.13L801.56 27.13M804.08 27.13L804.72 27.76L805.35 27.13L804.72 26.5L804.08 27.13M804.72 31.55L804.72 40.4M809.14 24.6L810.4 25.86L811.67 27.76L812.93 30.29L813.56 33.45L813.56 35.98L812.93 39.14L811.67 41.66L810.4 43.56L809.14 44.82" fill="none" stroke="#000" stroke-width="1.0" stroke-linecap="square" stroke-linejoin="round" shape-rendering="crispEdges"/>
<path d="M101.5 249.25L112 249.25M106.5 249.25L105.5 250.25L105 251.25L105 252.75L105.5 253.75L106.5 254.75L108 255.25L109 255.25L110.5 254.75L111.5 253.75L112 252.75L112 251.25L111.5 250.25L110.5 249.25M101.5 245.25L112 245.25M101.5 245.25L101.5 241.75L102 240.25L103 239.25L104 238.75L105.5 238.25L108 238.25L109.5 238.75L110.5 239.25L111.5 240.25L112 241.75L112 245.25M99.5 231.25L100.5 232.25L102 233.25L104 234.25L106.5 234.75L108.5 234.75L111 234.25L113 233.25L114.5 232.25L115.5 231.25M101.5 225.75L112 225.75M101.5 229.25L101.5 222.25M101.5 220.25L102 219.75L101.5 219.25L101 219.75L101.5 220.25M105 219.75L112 219.75M99.5 216.25L100.5 215.25L102 214.25L104 213.25L106.5 212.75L108.5 212.75L111 213.25L113 214.25L114.5 215.25L115.5 216.25M99.5 200.75L115.5 209.75M101.5 192.25L112 192.25M106.5 192.25L105.5 193.25L105 194.25L105 195.75L105.5 196.75L106.5 197.75L108 198.25L109 198.25L110.5 197.75L111.5 196.75L112 195.75L112 194.25L111.5 193.25L110.5 192.25M101.5 187.75L110 187.75L111.5 187.25L112 186.25L112 185.25M105 189.25L105 185.75M105 174.25L112 174.25M107 174.25L105.5 172.75L105 171.75L105 170.25L105.5 169.25L107 168.75L112 168.75M107 168.75L105.5 167.25L105 166.25L105 164.75L105.5 163.75L107 163.25L112 163.25M101.5 159.75L102 159.25L101.5 158.75L101 159.25L101.5 159.75M105 159.25L112 159.25M106.5 149.75L105.5 150.75L105 151.75L105 153.25L105.5 154.25L106.5 155.25L108 155.75L109 155.75L110.5 155.25L111.5 154.25L112 153.25L112 151.75L111.5 150.75L110.5 149.75M105 146.25L112 146.25M108 146.25L106.5 145.75L105.5 144.75L105 143.75L105 142.25M105 137.75L105.5 138.75L106.5 139.75L108 140.25L109 140.25L110.5 139.75L111.5 138.75L112 137.75L112 136.25L111.5 135.25L110.5 134.25L109 133.75L108 133.75L106.5 134.25L105.5 135.25L105 136.25L105 137.75M104 123.25L103 123.75L102 124.75L101.5 125.75L101.5 127.75L102 128.75L103 129.75L104 130.25L105.5 130.75L108 130.75L109.5 130.25L110.5 129.75L111.5 128.75L112 127.75L112 125.75L111.5 124.75L110.5 123.75L109.5 123.25L108 123.25M108 125.75L108 123.25M105 120.75L112 117.75M105 114.75L112 117.75L114 118.75L115 119.75L115.5 120.75L115.5 121.25M99.5 103.75L115.5 112.75M101.5 100.75L112 100.75M107 100.75L105.5 99.25L105 98.25L105 96.75L105.5 95.75L107 95.25L112 95.25" fill="none" stroke="#000" stroke-width="1.0" stroke-linecap="square" stroke-linejoin="round" shape-rendering="crispEdges"/>
<path d="M299.48 83.19L298.64 82.35L297.37 81.93L295.68 81.93L294.41 82.35L293.57 83.19L293.57 84.04L293.99 84.88L294.41 85.31L295.26 85.73L297.79 86.57L298.64 87L299.06 87.42L299.48 88.26L299.48 89.53L298.64 90.38L297.37 90.8L295.68 90.8L294.41 90.38L293.57 89.53M302.44 81.93L302.44 90.8M302.44 81.93L307.94 81.93M302.44 86.15L305.82 86.15M302.44 90.8L307.94 90.8M312.16 81.93L312.16 90.8M309.2 81.93L315.12 81.93M326.11 81.93L322.73 90.8M326.11 81.93L329.49 90.8M324 87.84L328.22 87.84M331.6 81.93L331.6 90.8M331.6 81.93L335.41 81.93L336.67 82.35L337.1 82.77L337.52 83.62L337.52 84.46L337.1 85.31L336.67 85.73L335.41 86.15L331.6 86.15M334.56 86.15L337.52 90.8M340.48 81.93L340.48 90.8M340.48 81.93L343.86 90.8M347.24 81.93L343.86 90.8M347.24 81.93L347.24 90.8M352.73 81.93L349.35 90.8M352.73 81.93L356.11 90.8M350.62 87.84L354.84 87.84M363.72 83.19L362.87 82.35L361.61 81.93L359.92 81.93L358.65 82.35L357.8 83.19L357.8 84.04L358.23 84.88L358.65 85.31L359.49 85.73L362.03 86.57L362.87 87L363.3 87.42L363.72 88.26L363.72 89.53L362.87 90.38L361.61 90.8L359.92 90.8L358.65 90.38L357.8 89.53M372.59 84.88L375.13 90.8M377.67 84.88L375.13 90.8M381.05 83.62L381.89 83.19L383.16 81.93L383.16 90.8M389.5 83.62L390.34 83.19L391.61 81.93L391.61 90.8M397.53 89.95L397.1 90.38L397.53 90.8L397.95 90.38L397.53 89.95M405.13 81.93L400.91 87.84L407.25 87.84M405.13 81.93L405.13 90.8M410.63 83.62L411.47 83.19L412.74 81.93L412.74 90.8M424.57 84.88L426.26 90.8M427.95 84.88L426.26 90.8M427.95 84.88L429.64 90.8M431.34 84.88L429.64 90.8M433.87 81.93L434.29 82.35L434.72 81.93L434.29 81.5L433.87 81.93M434.29 84.88L434.29 90.8M438.1 81.93L438.1 89.11L438.52 90.38L439.36 90.8L440.21 90.8M436.83 84.88L439.79 84.88M442.75 81.93L442.75 90.8M442.75 86.57L444.01 85.31L444.86 84.88L446.13 84.88L446.97 85.31L447.39 86.57L447.39 90.8M457.54 84.04L457.54 83.62L457.96 82.77L458.38 82.35L459.23 81.93L460.92 81.93L461.76 82.35L462.19 82.77L462.61 83.62L462.61 84.46L462.19 85.31L461.34 86.57L457.11 90.8L463.03 90.8M465.99 84.04L465.99 83.62L466.41 82.77L466.83 82.35L467.68 81.93L469.37 81.93L470.21 82.35L470.64 82.77L471.06 83.62L471.06 84.46L470.64 85.31L469.79 86.57L465.57 90.8L471.48 90.8M481.62 81.93L480.78 82.35L479.51 82.77L478.24 82.77L476.98 82.35L476.13 81.93L475.29 81.93L474.44 82.35L474.02 83.19L474.02 84.04L474.86 84.88L475.71 84.88L476.55 84.46L476.98 83.62L476.98 82.77L476.13 81.93M481.62 81.93L474.02 90.8M480.78 87.84L479.93 87.84L479.09 88.26L478.67 89.11L478.67 89.95L479.51 90.8L480.36 90.8L481.2 90.38L481.62 89.53L481.62 88.69L480.78 87.84M492.19 83.62L493.03 83.19L494.3 81.93L494.3 90.8M499.8 87L507.4 87M515.01 86.15L514.59 85.31L513.32 84.88L512.05 84.88L510.78 85.31L510.36 86.15L510.78 87L511.63 87.42L513.74 87.84L514.59 88.26L515.01 89.11L515.01 89.53L514.59 90.38L513.32 90.8L512.05 90.8L510.78 90.38L510.36 89.53M517.55 81.93L517.97 82.35L518.39 81.93L517.97 81.5L517.55 81.93M517.97 84.88L517.97 90.8M526 84.88L526 91.65L525.58 92.91L525.15 93.34L524.31 93.76L523.04 93.76L522.19 93.34M526 86.15L525.15 85.31L524.31 84.88L523.04 84.88L522.19 85.31L521.35 86.15L520.93 87.42L520.93 88.26L521.35 89.53L522.19 90.38L523.04 90.8L524.31 90.8L525.15 90.38L526 89.53M529.38 84.88L529.38 90.8M529.38 86.57L530.65 85.31L531.49 84.88L532.76 84.88L533.6 85.31L534.03 86.57L534.03 90.8M534.03 86.57L535.29 85.31L536.14 84.88L537.41 84.88L538.25 85.31L538.68 86.57L538.68 90.8M546.71 84.88L546.71 90.8M546.71 86.15L545.86 85.31L545.01 84.88L543.75 84.88L542.9 85.31L542.06 86.15L541.63 87.42L541.63 88.26L542.06 89.53L542.9 90.38L543.75 90.8L545.01 90.8L545.86 90.38L546.71 89.53M556.85 84.88L556.85 89.11L557.27 90.38L558.12 90.8L559.38 90.8L560.23 90.38L561.5 89.11M561.5 84.88L561.5 90.8M564.88 84.88L564.88 90.8M564.88 86.57L566.14 85.31L566.99 84.88L568.26 84.88L569.1 85.31L569.53 86.57L569.53 90.8M577.56 86.15L576.71 85.31L575.86 84.88L574.6 84.88L573.75 85.31L572.91 86.15L572.48 87.42L572.48 88.26L572.91 89.53L573.75 90.38L574.6 90.8L575.86 90.8L576.71 90.38L577.56 89.53M580.09 87.42L585.16 87.42L585.16 86.57L584.74 85.73L584.32 85.31L583.47 84.88L582.2 84.88L581.36 85.31L580.51 86.15L580.09 87.42L580.09 88.26L580.51 89.53L581.36 90.38L582.2 90.8L583.47 90.8L584.32 90.38L585.16 89.53M588.12 84.88L588.12 90.8M588.12 87.42L588.54 86.15L589.39 85.31L590.23 84.88L591.5 84.88M594.04 81.93L594.04 89.11L594.46 90.38L595.3 90.8L596.15 90.8M592.77 84.88L595.73 84.88M603.33 84.88L603.33 90.8M603.33 86.15L602.49 85.31L601.64 84.88L600.38 84.88L599.53 85.31L598.68 86.15L598.26 87.42L598.26 88.26L598.68 89.53L599.53 90.38L600.38 90.8L601.64 90.8L602.49 90.38L603.33 89.53M606.29 81.93L606.71 82.35L607.14 81.93L606.71 81.5L606.29 81.93M606.71 84.88L606.71 90.8M610.1 84.88L610.1 90.8M610.1 86.57L611.36 85.31L612.21 84.88L613.48 84.88L614.32 85.31L614.74 86.57L614.74 90.8M618.55 81.93L618.55 89.11L618.97 90.38L619.82 90.8L620.66 90.8M617.28 84.88L620.24 84.88M622.35 84.88L624.89 90.8M627.42 84.88L624.89 90.8L624.04 92.49L623.2 93.34L622.35 93.76L621.93 93.76" fill="none" stroke="#000" stroke-width="1.0" stroke-linecap="square" stroke-linejoin="round" shape-rendering="crispEdges"/>
<path d="M299.9 104.75L299.47 103.9L298.63 103.06L297.79 102.64L296.1 102.64L295.25 103.06L294.41 103.9L293.99 104.75L293.57 106.01L293.57 108.12L293.99 109.39L294.41 110.23L295.25 111.08L296.1 111.5L297.79 111.5L298.63 111.08L299.47 110.23L299.9 109.39M302.85 105.59L302.85 111.5M302.85 108.12L303.27 106.86L304.12 106.01L304.96 105.59L306.23 105.59M308.34 105.59L308.34 109.81L308.76 111.08L309.6 111.5L310.87 111.5L311.71 111.08L312.98 109.81M312.98 105.59L312.98 111.5M315.93 102.64L316.35 103.06L316.78 102.64L316.35 102.22L315.93 102.64M316.35 105.59L316.35 111.5M323.95 106.86L323.53 106.01L322.26 105.59L321 105.59L319.73 106.01L319.31 106.86L319.73 107.7L320.57 108.12L322.68 108.55L323.53 108.97L323.95 109.81L323.95 110.23L323.53 111.08L322.26 111.5L321 111.5L319.73 111.08L319.31 110.23M326.48 108.12L331.55 108.12L331.55 107.28L331.12 106.44L330.7 106.01L329.86 105.59L328.59 105.59L327.75 106.01L326.9 106.86L326.48 108.12L326.48 108.97L326.9 110.23L327.75 111.08L328.59 111.5L329.86 111.5L330.7 111.08L331.55 110.23M345.89 105.59L345.89 111.5M345.89 106.86L345.05 106.01L344.21 105.59L342.94 105.59L342.1 106.01L341.25 106.86L340.83 108.12L340.83 108.97L341.25 110.23L342.1 111.08L342.94 111.5L344.21 111.5L345.05 111.08L345.89 110.23M349.27 102.64L349.27 111.5M353.07 102.64L353.07 109.81L353.49 111.08L354.33 111.5L355.18 111.5M351.8 105.59L354.76 105.59M357.29 102.64L357.71 103.06L358.13 102.64L357.71 102.22L357.29 102.64M357.71 105.59L357.71 111.5M361.51 102.64L361.51 109.81L361.93 111.08L362.77 111.5L363.62 111.5M360.24 105.59L363.2 105.59M366.15 105.59L366.15 109.81L366.57 111.08L367.42 111.5L368.68 111.5L369.53 111.08L370.79 109.81M370.79 105.59L370.79 111.5M378.81 102.64L378.81 111.5M378.81 106.86L377.97 106.01L377.12 105.59L375.86 105.59L375.01 106.01L374.17 106.86L373.75 108.12L373.75 108.97L374.17 110.23L375.01 111.08L375.86 111.5L377.12 111.5L377.97 111.08L378.81 110.23M381.76 108.12L386.83 108.12L386.83 107.28L386.41 106.44L385.98 106.01L385.14 105.59L383.87 105.59L383.03 106.01L382.19 106.86L381.76 108.12L381.76 108.97L382.19 110.23L383.03 111.08L383.87 111.5L385.14 111.5L385.98 111.08L386.83 110.23M396.53 105.59L396.53 111.5M396.53 107.28L397.8 106.01L398.64 105.59L399.91 105.59L400.75 106.01L401.18 107.28L401.18 111.5M401.18 107.28L402.44 106.01L403.29 105.59L404.55 105.59L405.4 106.01L405.82 107.28L405.82 111.5M408.77 108.12L413.84 108.12L413.84 107.28L413.41 106.44L412.99 106.01L412.15 105.59L410.88 105.59L410.04 106.01L409.19 106.86L408.77 108.12L408.77 108.97L409.19 110.23L410.04 111.08L410.88 111.5L412.15 111.5L412.99 111.08L413.84 110.23M421.43 102.64L421.43 111.5M421.43 106.86L420.59 106.01L419.74 105.59L418.48 105.59L417.63 106.01L416.79 106.86L416.37 108.12L416.37 108.97L416.79 110.23L417.63 111.08L418.48 111.5L419.74 111.5L420.59 111.08L421.43 110.23M424.39 102.64L424.81 103.06L425.23 102.64L424.81 102.22L424.39 102.64M424.81 105.59L424.81 111.5M432.83 105.59L432.83 111.5M432.83 106.86L431.98 106.01L431.14 105.59L429.87 105.59L429.03 106.01L428.18 106.86L427.76 108.12L427.76 108.97L428.18 110.23L429.03 111.08L429.87 111.5L431.14 111.5L431.98 111.08L432.83 110.23M436.2 105.59L436.2 111.5M436.2 107.28L437.47 106.01L438.31 105.59L439.58 105.59L440.42 106.01L440.84 107.28L440.84 111.5M450.13 105.59L452.66 111.5M455.19 105.59L452.66 111.5M462.37 105.59L462.37 111.5M462.37 106.86L461.52 106.01L460.68 105.59L459.41 105.59L458.57 106.01L457.72 106.86L457.3 108.12L457.3 108.97L457.72 110.23L458.57 111.08L459.41 111.5L460.68 111.5L461.52 111.08L462.37 110.23M465.74 102.64L465.74 111.5M469.12 105.59L469.12 109.81L469.54 111.08L470.38 111.5L471.65 111.5L472.49 111.08L473.76 109.81M473.76 105.59L473.76 111.5M476.71 108.12L481.78 108.12L481.78 107.28L481.36 106.44L480.93 106.01L480.09 105.59L478.82 105.59L477.98 106.01L477.14 106.86L476.71 108.12L476.71 108.97L477.14 110.23L477.98 111.08L478.82 111.5L480.09 111.5L480.93 111.08L481.78 110.23M491.48 106.44L499.08 106.44M491.48 108.97L499.08 108.97M509.63 102.64L514.27 102.64L511.74 106.01L513.01 106.01L513.85 106.44L514.27 106.86L514.69 108.12L514.69 108.97L514.27 110.23L513.43 111.08L512.16 111.5L510.9 111.5L509.63 111.08L509.21 110.66L508.79 109.81M518.07 110.66L517.65 111.08L518.07 111.5L518.49 111.08L518.07 110.66M526.51 102.64L522.29 102.64L521.87 106.44L522.29 106.01L523.56 105.59L524.82 105.59L526.09 106.01L526.93 106.86L527.35 108.12L527.35 108.97L526.93 110.23L526.09 111.08L524.82 111.5L523.56 111.5L522.29 111.08L521.87 110.66L521.45 109.81M531.15 104.33L532 103.9L533.26 102.64L533.26 111.5M540.86 102.64L539.59 103.06L538.75 104.33L538.33 106.44L538.33 107.7L538.75 109.81L539.59 111.08L540.86 111.5L541.7 111.5L542.97 111.08L543.81 109.81L544.23 107.7L544.23 106.44L543.81 104.33L542.97 103.06L541.7 102.64L540.86 102.64M548.03 104.33L548.88 103.9L550.14 102.64L550.14 111.5M557.74 102.64L556.47 103.06L555.63 104.33L555.21 106.44L555.21 107.7L555.63 109.81L556.47 111.08L557.74 111.5L558.58 111.5L559.85 111.08L560.69 109.81L561.11 107.7L561.11 106.44L560.69 104.33L559.85 103.06L558.58 102.64L557.74 102.64M569.13 105.59L568.71 106.86L567.87 107.7L566.6 108.12L566.18 108.12L564.91 107.7L564.07 106.86L563.65 105.59L563.65 105.17L564.07 103.9L564.91 103.06L566.18 102.64L566.6 102.64L567.87 103.06L568.71 103.9L569.13 105.59L569.13 107.7L568.71 109.81L567.87 111.08L566.6 111.5L565.76 111.5L564.49 111.08L564.07 110.23M572.51 104.75L572.51 104.33L572.93 103.48L573.35 103.06L574.2 102.64L575.88 102.64L576.73 103.06L577.15 103.48L577.57 104.33L577.57 105.17L577.15 106.01L576.31 107.28L572.09 111.5L577.99 111.5M592.34 105.59L592.34 111.5M592.34 106.86L591.5 106.01L590.65 105.59L589.39 105.59L588.54 106.01L587.7 106.86L587.28 108.12L587.28 108.97L587.7 110.23L588.54 111.08L589.39 111.5L590.65 111.5L591.5 111.08L592.34 110.23M595.72 105.59L595.72 111.5M595.72 107.28L596.98 106.01L597.83 105.59L599.09 105.59L599.94 106.01L600.36 107.28L600.36 111.5M608.38 102.64L608.38 111.5M608.38 106.86L607.53 106.01L606.69 105.59L605.42 105.59L604.58 106.01L603.74 106.86L603.31 108.12L603.31 108.97L603.74 110.23L604.58 111.08L605.42 111.5L606.69 111.5L607.53 111.08L608.38 110.23M618.51 105.59L618.51 111.5M618.51 107.28L619.77 106.01L620.62 105.59L621.88 105.59L622.73 106.01L623.15 107.28L623.15 111.5M623.15 107.28L624.41 106.01L625.26 105.59L626.52 105.59L627.37 106.01L627.79 107.28L627.79 111.5M630.74 108.12L635.81 108.12L635.81 107.28L635.39 106.44L634.96 106.01L634.12 105.59L632.85 105.59L632.01 106.01L631.17 106.86L630.74 108.12L630.74 108.97L631.17 110.23L632.01 111.08L632.85 111.5L634.12 111.5L634.96 111.08L635.81 110.23M643.4 105.59L643.4 111.5M643.4 106.86L642.56 106.01L641.72 105.59L640.45 105.59L639.61 106.01L638.76 106.86L638.34 108.12L638.34 108.97L638.76 110.23L639.61 111.08L640.45 111.5L641.72 111.5L642.56 111.08L643.4 110.23M646.78 105.59L646.78 111.5M646.78 107.28L648.05 106.01L648.89 105.59L650.16 105.59L651 106.01L651.42 107.28L651.42 111.5M660.71 105.59L663.24 111.5M665.77 105.59L663.24 111.5M672.94 105.59L672.94 111.5M672.94 106.86L672.1 106.01L671.26 105.59L669.99 105.59L669.15 106.01L668.3 106.86L667.88 108.12L667.88 108.97L668.3 110.23L669.15 111.08L669.99 111.5L671.26 111.5L672.1 111.08L672.94 110.23M676.32 102.64L676.32 111.5M679.7 105.59L679.7 109.81L680.12 111.08L680.96 111.5L682.23 111.5L683.07 111.08L684.34 109.81M684.34 105.59L684.34 111.5M687.29 108.12L692.36 108.12L692.36 107.28L691.93 106.44L691.51 106.01L690.67 105.59L689.4 105.59L688.56 106.01L687.71 106.86L687.29 108.12L687.29 108.97L687.71 110.23L688.56 111.08L689.4 111.5L690.67 111.5L691.51 111.08L692.36 110.23M702.06 106.44L709.66 106.44M702.06 108.97L709.66 108.97M720.21 102.64L724.85 102.64L722.32 106.01L723.58 106.01L724.43 106.44L724.85 106.86L725.27 108.12L725.27 108.97L724.85 110.23L724.01 111.08L722.74 111.5L721.47 111.5L720.21 111.08L719.79 110.66L719.36 109.81M728.65 110.66L728.23 111.08L728.65 111.5L729.07 111.08L728.65 110.66M737.09 102.64L732.87 102.64L732.45 106.44L732.87 106.01L734.13 105.59L735.4 105.59L736.67 106.01L737.51 106.86L737.93 108.12L737.93 108.97L737.51 110.23L736.67 111.08L735.4 111.5L734.13 111.5L732.87 111.08L732.45 110.66L732.02 109.81M741.73 104.33L742.57 103.9L743.84 102.64L743.84 111.5M751.44 102.64L750.17 103.06L749.33 104.33L748.9 106.44L748.9 107.7L749.33 109.81L750.17 111.08L751.44 111.5L752.28 111.5L753.55 111.08L754.39 109.81L754.81 107.7L754.81 106.44L754.39 104.33L753.55 103.06L752.28 102.64L751.44 102.64M758.61 104.33L759.45 103.9L760.72 102.64L760.72 111.5M768.32 102.64L767.05 103.06L766.21 104.33L765.78 106.44L765.78 107.7L766.21 109.81L767.05 111.08L768.32 111.5L769.16 111.5L770.43 111.08L771.27 109.81L771.69 107.7L771.69 106.44L771.27 104.33L770.43 103.06L769.16 102.64L768.32 102.64M779.71 105.59L779.29 106.86L778.44 107.7L777.18 108.12L776.76 108.12L775.49 107.7L774.65 106.86L774.22 105.59L774.22 105.17L774.65 103.9L775.49 103.06L776.76 102.64L777.18 102.64L778.44 103.06L779.29 103.9L779.71 105.59L779.71 107.7L779.29 109.81L778.44 111.08L777.18 111.5L776.33 111.5L775.07 111.08L774.65 110.23M783.09 104.75L783.09 104.33L783.51 103.48L783.93 103.06L784.77 102.64L786.46 102.64L787.31 103.06L787.73 103.48L788.15 104.33L788.15 105.17L787.73 106.01L786.88 107.28L782.66 111.5L788.57 111.5" fill="none" stroke="#000" stroke-width="1.0" stroke-linecap="square" stroke-linejoin="round" shape-rendering="crispEdges"/>
<path d="M293.99 123.82L293.99 132.7M293.99 123.82L296.95 123.82L298.22 124.24L299.06 125.09L299.49 125.94L299.91 127.2L299.91 129.32L299.49 130.59L299.06 131.43L298.22 132.28L296.95 132.7L293.99 132.7M305.83 122.13L304.98 122.98L304.14 124.24L303.29 125.94L302.87 128.05L302.87 129.74L303.29 131.85L304.14 133.55L304.98 134.81L305.83 135.66M313.02 128.05L312.59 127.2L311.33 126.78L310.06 126.78L308.79 127.2L308.37 128.05L308.79 128.89L309.63 129.32L311.75 129.74L312.59 130.16L313.02 131.01L313.02 131.43L312.59 132.28L311.33 132.7L310.06 132.7L308.79 132.28L308.37 131.43M315.55 123.82L315.98 124.24L316.4 123.82L315.98 123.4L315.55 123.82M315.98 126.78L315.98 132.7M318.94 122.13L319.78 122.98L320.63 124.24L321.47 125.94L321.9 128.05L321.9 129.74L321.47 131.85L320.63 133.55L319.78 134.81L318.94 135.66M332.04 128.89L339.65 128.89M343.04 125.09L349.8 128.89L343.04 132.7M359.95 123.82L359.95 132.7M359.95 123.82L362.91 123.82L364.18 124.24L365.02 125.09L365.44 125.94L365.87 127.2L365.87 129.32L365.44 130.59L365.02 131.43L364.18 132.28L362.91 132.7L359.95 132.7M371.79 122.13L370.94 122.98L370.1 124.24L369.25 125.94L368.83 128.05L368.83 129.74L369.25 131.85L370.1 133.55L370.94 134.81L371.79 135.66M375.17 123.82L375.17 131.01L375.59 132.28L376.44 132.7L377.28 132.7M373.9 126.78L376.86 126.78M379.4 123.82L379.82 124.24L380.24 123.82L379.82 123.4L379.4 123.82M379.82 126.78L379.82 132.7M382.78 122.13L383.62 122.98L384.47 124.24L385.32 125.94L385.74 128.05L385.74 129.74L385.32 131.85L384.47 133.55L383.62 134.81L382.78 135.66M400.54 128.05L399.69 127.2L398.85 126.78L397.58 126.78L396.73 127.2L395.89 128.05L395.46 129.32L395.46 130.16L395.89 131.43L396.73 132.28L397.58 132.7L398.85 132.7L399.69 132.28L400.54 131.43M405.19 126.78L404.34 127.2L403.5 128.05L403.07 129.32L403.07 130.16L403.5 131.43L404.34 132.28L405.19 132.7L406.46 132.7L407.3 132.28L408.15 131.43L408.57 130.16L408.57 129.32L408.15 128.05L407.3 127.2L406.46 126.78L405.19 126.78M411.53 126.78L411.53 132.7M411.53 128.47L412.8 127.2L413.64 126.78L414.91 126.78L415.76 127.2L416.18 128.47L416.18 132.7M418.72 126.78L421.25 132.7M423.79 126.78L421.25 132.7M425.9 129.32L430.98 129.32L430.98 128.47L430.56 127.63L430.13 127.2L429.29 126.78L428.02 126.78L427.17 127.2L426.33 128.05L425.9 129.32L425.9 130.16L426.33 131.43L427.17 132.28L428.02 132.7L429.29 132.7L430.13 132.28L430.98 131.43M433.94 126.78L433.94 132.7M433.94 129.32L434.36 128.05L435.21 127.2L436.05 126.78L437.32 126.78M443.66 128.05L443.24 127.2L441.97 126.78L440.7 126.78L439.43 127.2L439.01 128.05L439.43 128.89L440.28 129.32L442.39 129.74L443.24 130.16L443.66 131.01L443.66 131.43L443.24 132.28L441.97 132.7L440.7 132.7L439.43 132.28L439.01 131.43M446.2 123.82L446.62 124.24L447.04 123.82L446.62 123.4L446.2 123.82M446.62 126.78L446.62 132.7M451.7 126.78L450.85 127.2L450 128.05L449.58 129.32L449.58 130.16L450 131.43L450.85 132.28L451.7 132.7L452.96 132.7L453.81 132.28L454.66 131.43L455.08 130.16L455.08 129.32L454.66 128.05L453.81 127.2L452.96 126.78L451.7 126.78M458.04 126.78L458.04 132.7M458.04 128.47L459.31 127.2L460.15 126.78L461.42 126.78L462.27 127.2L462.69 128.47L462.69 132.7M475.37 123.82L474.53 123.82L473.68 124.24L473.26 125.51L473.26 132.7M471.99 126.78L474.95 126.78M482.56 126.78L482.56 132.7M482.56 128.05L481.71 127.2L480.87 126.78L479.6 126.78L478.75 127.2L477.91 128.05L477.49 129.32L477.49 130.16L477.91 131.43L478.75 132.28L479.6 132.7L480.87 132.7L481.71 132.28L482.56 131.43M490.59 128.05L489.75 127.2L488.9 126.78L487.63 126.78L486.79 127.2L485.94 128.05L485.52 129.32L485.52 130.16L485.94 131.43L486.79 132.28L487.63 132.7L488.9 132.7L489.75 132.28L490.59 131.43M493.98 123.82L493.98 131.01L494.4 132.28L495.24 132.7L496.09 132.7M492.71 126.78L495.67 126.78M500.32 126.78L499.47 127.2L498.63 128.05L498.2 129.32L498.2 130.16L498.63 131.43L499.47 132.28L500.32 132.7L501.59 132.7L502.43 132.28L503.28 131.43L503.7 130.16L503.7 129.32L503.28 128.05L502.43 127.2L501.59 126.78L500.32 126.78M506.66 126.78L506.66 132.7M506.66 129.32L507.08 128.05L507.93 127.2L508.77 126.78L510.04 126.78M524.84 125.94L524.42 125.09L523.57 124.24L522.73 123.82L521.03 123.82L520.19 124.24L519.34 125.09L518.92 125.94L518.5 127.2L518.5 129.32L518.92 130.59L519.34 131.43L520.19 132.28L521.03 132.7L522.73 132.7L523.57 132.28L524.42 131.43L524.84 130.59M528.22 123.82L532.87 123.82L530.34 127.2L531.6 127.2L532.45 127.63L532.87 128.05L533.3 129.32L533.3 130.16L532.87 131.43L532.03 132.28L530.76 132.7L529.49 132.7L528.22 132.28L527.8 131.85L527.38 131.01M543.02 127.63L550.63 127.63M543.02 130.16L550.63 130.16M561.62 125.51L562.47 125.09L563.74 123.82L563.74 132.7M569.66 131.85L569.23 132.28L569.66 132.7L570.08 132.28L569.66 131.85M573.88 123.82L578.54 123.82L576 127.2L577.27 127.2L578.11 127.63L578.54 128.05L578.96 129.32L578.96 130.16L578.54 131.43L577.69 132.28L576.42 132.7L575.15 132.7L573.88 132.28L573.46 131.85L573.04 131.01M586.99 126.78L586.57 128.05L585.72 128.89L584.45 129.32L584.03 129.32L582.76 128.89L581.92 128.05L581.5 126.78L581.5 126.36L581.92 125.09L582.76 124.24L584.03 123.82L584.45 123.82L585.72 124.24L586.57 125.09L586.99 126.78L586.99 128.89L586.57 131.01L585.72 132.28L584.45 132.7L583.61 132.7L582.34 132.28L581.92 131.43M590.37 125.94L590.37 125.51L590.8 124.67L591.22 124.24L592.07 123.82L593.76 123.82L594.6 124.24L595.02 124.67L595.45 125.51L595.45 126.36L595.02 127.2L594.18 128.47L589.95 132.7L595.87 132.7M603.9 126.78L603.48 128.05L602.64 128.89L601.37 129.32L600.94 129.32L599.68 128.89L598.83 128.05L598.41 126.78L598.41 126.36L598.83 125.09L599.68 124.24L600.94 123.82L601.37 123.82L602.64 124.24L603.48 125.09L603.9 126.78L603.9 128.89L603.48 131.01L602.64 132.28L601.37 132.7L600.52 132.7L599.25 132.28L598.83 131.43M609.4 123.82L608.13 124.24L607.29 125.51L606.86 127.63L606.86 128.89L607.29 131.01L608.13 132.28L609.4 132.7L610.25 132.7L611.51 132.28L612.36 131.01L612.78 128.89L612.78 127.63L612.36 125.51L611.51 124.24L610.25 123.82L609.4 123.82" fill="none" stroke="#000" stroke-width="1.0" stroke-linecap="square" stroke-linejoin="round" shape-rendering="crispEdges"/>
<path d="M258.2 299.6L263.41 299.6L268.62 299.6L273.82 299.6L281.6 299.6L285.9 275.43L290 299.6L294.66 299.6L299.87 299.6L305.07 299.6L310.28 299.6L315.49 299.6L320.7 299.6L325.91 299.6L331.12 299.6L336.32 299.6L341.53 299.6L346.74 299.6L351.95 299.6L357.16 299.6L362.37 299.6L367.57 299.6L372.78 299.6L377.99 299.6L383.2 299.6L388.41 299.6L393.62 299.6L398.82 299.6L404.03 299.6L409.24 299.6L414.45 299.6L419.66 299.6L424.87 299.6L430.07 299.6L435.28 299.6L440.49 299.6L445.7 299.6L450.91 275.43L456.12 275.43L461.32 275.43L466.53 250.85L471.74 250.85L476.95 250.85L482.16 226.47L487.37 226.47L492.57 226.47L497.78 226.47L502.99 250.85L508.2 250.85L513.41 250.85L518.62 275.43L523.82 275.43L529.03 275.43L534.24 299.6L539.45 299.6L544.66 299.6L549.86 299.6L555.07 299.6L560.28 299.6L565.49 299.6L570.7 299.6L575.91 299.6L581.11 299.6L586.32 299.6L591.53 299.6L596.74 299.6L601.95 299.6L607.16 299.6L612.36 299.6L617.57 299.6L622.78 299.6L627.99 299.6L633.2 299.6L638.41 299.6L643.61 299.6L648.82 299.6L654.03 299.6L659.24 299.6L664.45 299.6L669.66 299.6L674.86 299.6L680.07 299.6L685.28 299.6L690.49 299.6L695.7 299.6L700.91 299.6L706.11 299.6L711.32 299.6L716.53 299.6L721.74 299.6L726.95 299.6L732.16 299.6L737.36 299.6L742.57 299.6L747.78 299.6L752.99 299.6L758.2 299.6L763.41 299.6L768.61 299.6L773.82 299.6L779.03 299.6L784.24 299.6L789.45 299.6" fill="none" stroke="#0008e0" stroke-width="1"/>
<g fill="#0008e0">
<rect x="283.4" y="273.13" width="5" height="4.8" rx="1.2"/>
<rect x="448.41" y="273.13" width="5" height="4.8" rx="1.2"/>
<rect x="453.62" y="273.13" width="5" height="4.8" rx="1.2"/>
<rect x="458.82" y="273.13" width="5" height="4.8" rx="1.2"/>
<rect x="464.03" y="248.55" width="5" height="4.8" rx="1.2"/>
<rect x="469.24" y="248.55" width="5" height="4.8" rx="1.2"/>
<rect x="474.45" y="248.55" width="5" height="4.8" rx="1.2"/>
<rect x="479.66" y="224.17" width="5" height="4.8" rx="1.2"/>
<rect x="484.87" y="224.17" width="5" height="4.8" rx="1.2"/>
<rect x="490.07" y="224.17" width="5" height="4.8" rx="1.2"/>
<rect x="495.28" y="224.17" width="5" height="4.8" rx="1.2"/>
<rect x="500.49" y="248.55" width="5" height="4.8" rx="1.2"/>
<rect x="505.7" y="248.55" width="5" height="4.8" rx="1.2"/>
<rect x="510.91" y="248.55" width="5" height="4.8" rx="1.2"/>
<rect x="516.12" y="273.13" width="5" height="4.8" rx="1.2"/>
<rect x="521.32" y="273.13" width="5" height="4.8" rx="1.2"/>
<rect x="526.53" y="273.13" width="5" height="4.8" rx="1.2"/>
<rect x="283.6" y="78.2" width="5.2" height="5" rx="1.3"/><rect x="288.2" y="78.2" width="5.2" height="5" rx="1.3"/>
</g>
<path d="M258.4 298.8H282M289.4 298.8H447.6M531.4 298.8H791.8" stroke="#0008e0" stroke-width="4" stroke-linecap="round" fill="none"/>
<path d="M525.5 269.5V280.5M521.5 269.5H529.5M521.5 280.5H529.5" stroke="#000" stroke-width="1" fill="none" shape-rendering="crispEdges"/>
<polygon points="156.2,732.6 606.5,652.6 837.5,775.7 387.2,855.7" fill="#00f6ff"/>
<g fill="none" stroke="#000" stroke-width="1" shape-rendering="crispEdges">
<line x1="220.53" y1="721.17" x2="220.53" y2="445.97" stroke="#000" stroke-width="1" stroke-dasharray="2 2"/>
<line x1="639.5" y1="670.19" x2="639.5" y2="394.99" stroke="#000" stroke-width="1" stroke-dasharray="2 2"/>
<line x1="284.86" y1="709.74" x2="284.86" y2="434.54" stroke="#000" stroke-width="1" stroke-dasharray="2 2"/>
<line x1="672.5" y1="687.77" x2="672.5" y2="412.57" stroke="#000" stroke-width="1" stroke-dasharray="2 2"/>
<line x1="349.19" y1="698.31" x2="349.19" y2="423.11" stroke="#000" stroke-width="1" stroke-dasharray="2 2"/>
<line x1="705.5" y1="705.36" x2="705.5" y2="430.16" stroke="#000" stroke-width="1" stroke-dasharray="2 2"/>
<line x1="413.51" y1="686.89" x2="413.51" y2="411.69" stroke="#000" stroke-width="1" stroke-dasharray="2 2"/>
<line x1="738.5" y1="722.94" x2="738.5" y2="447.74" stroke="#000" stroke-width="1" stroke-dasharray="2 2"/>
<line x1="477.84" y1="675.46" x2="477.84" y2="400.26" stroke="#000" stroke-width="1" stroke-dasharray="2 2"/>
<line x1="771.5" y1="740.53" x2="771.5" y2="465.33" stroke="#000" stroke-width="1" stroke-dasharray="2 2"/>
<line x1="542.17" y1="664.03" x2="542.17" y2="388.83" stroke="#000" stroke-width="1" stroke-dasharray="2 2"/>
<line x1="804.5" y1="758.11" x2="804.5" y2="482.91" stroke="#000" stroke-width="1" stroke-dasharray="2 2"/>
<line x1="156.2" y1="686.73" x2="606.5" y2="606.73" stroke="#000" stroke-width="1" stroke-dasharray="2 2"/>
<line x1="606.5" y1="606.73" x2="837.5" y2="729.83" stroke="#000" stroke-width="1" stroke-dasharray="3 3"/>
<line x1="156.2" y1="640.87" x2="606.5" y2="560.87" stroke="#000" stroke-width="1" stroke-dasharray="2 2"/>
<line x1="606.5" y1="560.87" x2="837.5" y2="683.97" stroke="#000" stroke-width="1" stroke-dasharray="3 3"/>
<line x1="156.2" y1="595" x2="606.5" y2="515" stroke="#000" stroke-width="1" stroke-dasharray="2 2"/>
<line x1="606.5" y1="515" x2="837.5" y2="638.1" stroke="#000" stroke-width="1" stroke-dasharray="3 3"/>
<line x1="156.2" y1="549.13" x2="606.5" y2="469.13" stroke="#000" stroke-width="1" stroke-dasharray="2 2"/>
<line x1="606.5" y1="469.13" x2="837.5" y2="592.23" stroke="#000" stroke-width="1" stroke-dasharray="3 3"/>
<line x1="156.2" y1="503.27" x2="606.5" y2="423.27" stroke="#000" stroke-width="1" stroke-dasharray="2 2"/>
<line x1="606.5" y1="423.27" x2="837.5" y2="546.37" stroke="#000" stroke-width="1" stroke-dasharray="3 3"/>
<line x1="156.2" y1="732.6" x2="606.5" y2="652.6" stroke="#000" stroke-width="1" stroke-dasharray="2 2"/>
<line x1="606.5" y1="652.6" x2="837.5" y2="775.7" stroke="#000" stroke-width="1" stroke-dasharray="2 2"/>
<line x1="220.53" y1="721.17" x2="451.53" y2="844.27" stroke="#000" stroke-width="1" stroke-dasharray="1.2 10.5"/>
<line x1="189.2" y1="750.19" x2="639.5" y2="670.19" stroke="#000" stroke-width="1" stroke-dasharray="1.2 10.5"/>
<line x1="284.86" y1="709.74" x2="515.86" y2="832.84" stroke="#000" stroke-width="1" stroke-dasharray="1.2 4.8"/>
<line x1="222.2" y1="767.77" x2="672.5" y2="687.77" stroke="#000" stroke-width="1" stroke-dasharray="1.2 4.8"/>
<line x1="349.19" y1="698.31" x2="580.19" y2="821.41" stroke="#000" stroke-width="1" stroke-dasharray="1.2 4.8"/>
<line x1="255.2" y1="785.36" x2="705.5" y2="705.36" stroke="#000" stroke-width="1" stroke-dasharray="1.2 4.8"/>
<line x1="413.51" y1="686.89" x2="644.51" y2="809.99" stroke="#000" stroke-width="1" stroke-dasharray="1.2 4.8"/>
<line x1="288.2" y1="802.94" x2="738.5" y2="722.94" stroke="#000" stroke-width="1" stroke-dasharray="1.2 4.8"/>
<line x1="477.84" y1="675.46" x2="708.84" y2="798.56" stroke="#000" stroke-width="1" stroke-dasharray="1.2 4.8"/>
<line x1="321.2" y1="820.53" x2="771.5" y2="740.53" stroke="#000" stroke-width="1" stroke-dasharray="1.2 4.8"/>
<line x1="542.17" y1="664.03" x2="773.17" y2="787.13" stroke="#000" stroke-width="1" stroke-dasharray="1.2 4.8"/>
<line x1="354.2" y1="838.11" x2="804.5" y2="758.11" stroke="#000" stroke-width="1" stroke-dasharray="1.2 4.8"/>
<line x1="156.2" y1="732.6" x2="156.2" y2="457.4" stroke="#000" stroke-width="1"/>
<line x1="156.2" y1="457.4" x2="606.5" y2="377.4" stroke="#000" stroke-width="1"/>
<line x1="606.5" y1="377.4" x2="837.5" y2="500.5" stroke="#000" stroke-width="1"/>
<line x1="837.5" y1="500.5" x2="837.5" y2="775.7" stroke="#000" stroke-width="1"/>
<line x1="606.5" y1="377.4" x2="606.5" y2="652.6" stroke="#000" stroke-width="1"/>
<line x1="156.2" y1="732.6" x2="387.2" y2="855.7" stroke="#000" stroke-width="1"/>
<line x1="387.2" y1="855.7" x2="837.5" y2="775.7" stroke="#000" stroke-width="1"/>
<line x1="156.2" y1="721.13" x2="162.2" y2="720.07" stroke="#000" stroke-width="1"/>
<line x1="606.5" y1="641.13" x2="601.1" y2="642.09" stroke="#000" stroke-width="1"/>
<line x1="837.5" y1="764.23" x2="832.1" y2="765.19" stroke="#000" stroke-width="1"/>
<line x1="156.2" y1="709.67" x2="162.2" y2="708.6" stroke="#000" stroke-width="1"/>
<line x1="606.5" y1="629.67" x2="601.1" y2="630.63" stroke="#000" stroke-width="1"/>
<line x1="837.5" y1="752.77" x2="832.1" y2="753.73" stroke="#000" stroke-width="1"/>
<line x1="156.2" y1="698.2" x2="162.2" y2="697.13" stroke="#000" stroke-width="1"/>
<line x1="606.5" y1="618.2" x2="601.1" y2="619.16" stroke="#000" stroke-width="1"/>
<line x1="837.5" y1="741.3" x2="832.1" y2="742.26" stroke="#000" stroke-width="1"/>
<line x1="606.5" y1="606.73" x2="597.1" y2="608.4" stroke="#000" stroke-width="1"/>
<line x1="837.5" y1="729.83" x2="828.1" y2="731.5" stroke="#000" stroke-width="1"/>
<line x1="156.2" y1="675.27" x2="162.2" y2="674.2" stroke="#000" stroke-width="1"/>
<line x1="606.5" y1="595.27" x2="601.1" y2="596.23" stroke="#000" stroke-width="1"/>
<line x1="837.5" y1="718.37" x2="832.1" y2="719.33" stroke="#000" stroke-width="1"/>
<line x1="156.2" y1="663.8" x2="162.2" y2="662.73" stroke="#000" stroke-width="1"/>
<line x1="606.5" y1="583.8" x2="601.1" y2="584.76" stroke="#000" stroke-width="1"/>
<line x1="837.5" y1="706.9" x2="832.1" y2="707.86" stroke="#000" stroke-width="1"/>
<line x1="156.2" y1="652.33" x2="162.2" y2="651.27" stroke="#000" stroke-width="1"/>
<line x1="606.5" y1="572.33" x2="601.1" y2="573.29" stroke="#000" stroke-width="1"/>
<line x1="837.5" y1="695.43" x2="832.1" y2="696.39" stroke="#000" stroke-width="1"/>
<line x1="606.5" y1="560.87" x2="597.1" y2="562.54" stroke="#000" stroke-width="1"/>
<line x1="837.5" y1="683.97" x2="828.1" y2="685.64" stroke="#000" stroke-width="1"/>
<line x1="156.2" y1="629.4" x2="162.2" y2="628.33" stroke="#000" stroke-width="1"/>
<line x1="606.5" y1="549.4" x2="601.1" y2="550.36" stroke="#000" stroke-width="1"/>
<line x1="837.5" y1="672.5" x2="832.1" y2="673.46" stroke="#000" stroke-width="1"/>
<line x1="156.2" y1="617.93" x2="162.2" y2="616.87" stroke="#000" stroke-width="1"/>
<line x1="606.5" y1="537.93" x2="601.1" y2="538.89" stroke="#000" stroke-width="1"/>
<line x1="837.5" y1="661.03" x2="832.1" y2="661.99" stroke="#000" stroke-width="1"/>
<line x1="156.2" y1="606.47" x2="162.2" y2="605.4" stroke="#000" stroke-width="1"/>
<line x1="606.5" y1="526.47" x2="601.1" y2="527.43" stroke="#000" stroke-width="1"/>
<line x1="837.5" y1="649.57" x2="832.1" y2="650.53" stroke="#000" stroke-width="1"/>
<line x1="606.5" y1="515" x2="597.1" y2="516.67" stroke="#000" stroke-width="1"/>
<line x1="837.5" y1="638.1" x2="828.1" y2="639.77" stroke="#000" stroke-width="1"/>
<line x1="156.2" y1="583.53" x2="162.2" y2="582.47" stroke="#000" stroke-width="1"/>
<line x1="606.5" y1="503.53" x2="601.1" y2="504.49" stroke="#000" stroke-width="1"/>
<line x1="837.5" y1="626.63" x2="832.1" y2="627.59" stroke="#000" stroke-width="1"/>
<line x1="156.2" y1="572.07" x2="162.2" y2="571" stroke="#000" stroke-width="1"/>
<line x1="606.5" y1="492.07" x2="601.1" y2="493.03" stroke="#000" stroke-width="1"/>
<line x1="837.5" y1="615.17" x2="832.1" y2="616.13" stroke="#000" stroke-width="1"/>
<line x1="156.2" y1="560.6" x2="162.2" y2="559.53" stroke="#000" stroke-width="1"/>
<line x1="606.5" y1="480.6" x2="601.1" y2="481.56" stroke="#000" stroke-width="1"/>
<line x1="837.5" y1="603.7" x2="832.1" y2="604.66" stroke="#000" stroke-width="1"/>
<line x1="606.5" y1="469.13" x2="597.1" y2="470.8" stroke="#000" stroke-width="1"/>
<line x1="837.5" y1="592.23" x2="828.1" y2="593.9" stroke="#000" stroke-width="1"/>
<line x1="156.2" y1="537.67" x2="162.2" y2="536.6" stroke="#000" stroke-width="1"/>
<line x1="606.5" y1="457.67" x2="601.1" y2="458.63" stroke="#000" stroke-width="1"/>
<line x1="837.5" y1="580.77" x2="832.1" y2="581.73" stroke="#000" stroke-width="1"/>
<line x1="156.2" y1="526.2" x2="162.2" y2="525.13" stroke="#000" stroke-width="1"/>
<line x1="606.5" y1="446.2" x2="601.1" y2="447.16" stroke="#000" stroke-width="1"/>
<line x1="837.5" y1="569.3" x2="832.1" y2="570.26" stroke="#000" stroke-width="1"/>
<line x1="156.2" y1="514.73" x2="162.2" y2="513.67" stroke="#000" stroke-width="1"/>
<line x1="606.5" y1="434.73" x2="601.1" y2="435.69" stroke="#000" stroke-width="1"/>
<line x1="837.5" y1="557.83" x2="832.1" y2="558.79" stroke="#000" stroke-width="1"/>
<line x1="606.5" y1="423.27" x2="597.1" y2="424.94" stroke="#000" stroke-width="1"/>
<line x1="837.5" y1="546.37" x2="828.1" y2="548.04" stroke="#000" stroke-width="1"/>
<line x1="156.2" y1="491.8" x2="162.2" y2="490.73" stroke="#000" stroke-width="1"/>
<line x1="606.5" y1="411.8" x2="601.1" y2="412.76" stroke="#000" stroke-width="1"/>
<line x1="837.5" y1="534.9" x2="832.1" y2="535.86" stroke="#000" stroke-width="1"/>
<line x1="156.2" y1="480.33" x2="162.2" y2="479.27" stroke="#000" stroke-width="1"/>
<line x1="606.5" y1="400.33" x2="601.1" y2="401.29" stroke="#000" stroke-width="1"/>
<line x1="837.5" y1="523.43" x2="832.1" y2="524.39" stroke="#000" stroke-width="1"/>
<line x1="156.2" y1="468.87" x2="162.2" y2="467.8" stroke="#000" stroke-width="1"/>
<line x1="606.5" y1="388.87" x2="601.1" y2="389.83" stroke="#000" stroke-width="1"/>
<line x1="837.5" y1="511.97" x2="832.1" y2="512.93" stroke="#000" stroke-width="1"/>
<line x1="837.5" y1="500.5" x2="828.1" y2="502.17" stroke="#000" stroke-width="1"/>
<line x1="184.34" y1="452.4" x2="187.43" y2="454.05" stroke="#000" stroke-width="1"/>
<line x1="620.94" y1="385.09" x2="616.44" y2="385.89" stroke="#000" stroke-width="1"/>
<line x1="212.49" y1="447.4" x2="215.58" y2="449.05" stroke="#000" stroke-width="1"/>
<line x1="635.38" y1="392.79" x2="630.88" y2="393.59" stroke="#000" stroke-width="1"/>
<line x1="240.63" y1="442.4" x2="243.72" y2="444.05" stroke="#000" stroke-width="1"/>
<line x1="649.81" y1="400.48" x2="645.31" y2="401.28" stroke="#000" stroke-width="1"/>
<line x1="268.77" y1="437.4" x2="273.19" y2="439.75" stroke="#000" stroke-width="1"/>
<line x1="664.25" y1="408.18" x2="657.25" y2="409.42" stroke="#000" stroke-width="1"/>
<line x1="296.92" y1="432.4" x2="300.01" y2="434.05" stroke="#000" stroke-width="1"/>
<line x1="678.69" y1="415.87" x2="674.19" y2="416.67" stroke="#000" stroke-width="1"/>
<line x1="325.06" y1="427.4" x2="328.15" y2="429.05" stroke="#000" stroke-width="1"/>
<line x1="693.12" y1="423.56" x2="688.62" y2="424.36" stroke="#000" stroke-width="1"/>
<line x1="353.21" y1="422.4" x2="356.3" y2="424.05" stroke="#000" stroke-width="1"/>
<line x1="707.56" y1="431.26" x2="703.06" y2="432.06" stroke="#000" stroke-width="1"/>
<line x1="381.35" y1="417.4" x2="385.76" y2="419.75" stroke="#000" stroke-width="1"/>
<line x1="722" y1="438.95" x2="715" y2="440.19" stroke="#000" stroke-width="1"/>
<line x1="409.49" y1="412.4" x2="412.58" y2="414.05" stroke="#000" stroke-width="1"/>
<line x1="736.44" y1="446.64" x2="731.94" y2="447.44" stroke="#000" stroke-width="1"/>
<line x1="437.64" y1="407.4" x2="440.73" y2="409.05" stroke="#000" stroke-width="1"/>
<line x1="750.88" y1="454.34" x2="746.38" y2="455.14" stroke="#000" stroke-width="1"/>
<line x1="465.78" y1="402.4" x2="468.87" y2="404.05" stroke="#000" stroke-width="1"/>
<line x1="765.31" y1="462.03" x2="760.81" y2="462.83" stroke="#000" stroke-width="1"/>
<line x1="493.93" y1="397.4" x2="498.34" y2="399.75" stroke="#000" stroke-width="1"/>
<line x1="779.75" y1="469.73" x2="772.75" y2="470.97" stroke="#000" stroke-width="1"/>
<line x1="522.07" y1="392.4" x2="525.16" y2="394.05" stroke="#000" stroke-width="1"/>
<line x1="794.19" y1="477.42" x2="789.69" y2="478.22" stroke="#000" stroke-width="1"/>
<line x1="550.21" y1="387.4" x2="553.3" y2="389.05" stroke="#000" stroke-width="1"/>
<line x1="808.62" y1="485.11" x2="804.12" y2="485.91" stroke="#000" stroke-width="1"/>
<line x1="578.36" y1="382.4" x2="581.45" y2="384.05" stroke="#000" stroke-width="1"/>
<line x1="823.06" y1="492.81" x2="818.56" y2="493.61" stroke="#000" stroke-width="1"/>
</g>
<path d="M154 403h5.4v1h-5.4zM154 408h5.4v1h-5.4zM154 414h5.4v1h-5.4zM154 419h5.4v1h-5.4zM154 425h5.4v1h-5.4zM154 431h5.4v1h-5.4zM154 436h5.4v1h-5.4zM154 442h5.4v1h-5.4zM154 447h5.4v1h-5.4zM154 453h5.4v1h-5.4zM154 458h5.4v1h-5.4z" fill="rgb(138,227,28)" fill-opacity="0.88"/>
<path d="M155 409h3.4v1h-3.4zM155 420h3.4v1h-3.4zM155 426h3.4v1h-3.4zM155 437h3.4v1h-3.4zM155 448h3.4v1h-3.4zM155 459h3.4v1h-3.4z" fill="rgb(138,227,28)" fill-opacity="0.6"/>
<path d="M179 416h5.4v1h-5.4zM179 422h5.4v1h-5.4zM179 428h5.4v1h-5.4zM179 433h5.4v1h-5.4zM179 439h5.4v1h-5.4zM179 444h5.4v1h-5.4zM179 450h5.4v1h-5.4zM179 455h5.4v1h-5.4zM179 461h5.4v1h-5.4zM179 466h5.4v1h-5.4zM179 472h5.4v1h-5.4z" fill="rgb(112,225,36)" fill-opacity="0.88"/>
<path d="M180 417h3.4v1h-3.4zM180 423h3.4v1h-3.4zM180 434h3.4v1h-3.4zM180 445h3.4v1h-3.4zM180 456h3.4v1h-3.4zM180 467h3.4v1h-3.4z" fill="rgb(112,225,36)" fill-opacity="0.6"/>
<path d="M205 430h5.4v1h-5.4zM205 436h5.4v1h-5.4zM205 441h5.4v1h-5.4zM205 447h5.4v1h-5.4zM205 452h5.4v1h-5.4zM205 458h5.4v1h-5.4zM205 463h5.4v1h-5.4zM205 469h5.4v1h-5.4zM205 475h5.4v1h-5.4zM205 480h5.4v1h-5.4zM205 486h5.4v1h-5.4z" fill="rgb(94,224,44)" fill-opacity="0.88"/>
<path d="M206 431h3.4v1h-3.4zM206 442h3.4v1h-3.4zM206 453h3.4v1h-3.4zM206 464h3.4v1h-3.4zM206 470h3.4v1h-3.4zM206 481h3.4v1h-3.4z" fill="rgb(94,224,44)" fill-opacity="0.6"/>
<path d="M231 444h5.4v1h-5.4zM231 449h5.4v1h-5.4zM231 455h5.4v1h-5.4zM231 460h5.4v1h-5.4zM231 466h5.4v1h-5.4zM231 472h5.4v1h-5.4zM231 477h5.4v1h-5.4zM231 483h5.4v1h-5.4zM231 488h5.4v1h-5.4zM231 494h5.4v1h-5.4zM231 499h5.4v1h-5.4z" fill="rgb(80,223,52)" fill-opacity="0.88"/>
<path d="M232 450h3.4v1h-3.4zM232 461h3.4v1h-3.4zM232 467h3.4v1h-3.4zM232 478h3.4v1h-3.4zM232 489h3.4v1h-3.4zM232 500h3.4v1h-3.4z" fill="rgb(80,223,52)" fill-opacity="0.6"/>
<path d="M256 458h5.4v1h-5.4zM256 463h5.4v1h-5.4zM256 469h5.4v1h-5.4zM256 474h5.4v1h-5.4zM256 480h5.4v1h-5.4zM256 485h5.4v1h-5.4zM256 491h5.4v1h-5.4zM256 496h5.4v1h-5.4zM256 502h5.4v1h-5.4zM256 507h5.4v1h-5.4zM256 513h5.4v1h-5.4z" fill="rgb(68,221,60)" fill-opacity="0.88"/>
<path d="M257 464h3.4v1h-3.4zM257 475h3.4v1h-3.4zM257 486h3.4v1h-3.4zM257 497h3.4v1h-3.4zM257 508h3.4v1h-3.4zM257 514h3.4v1h-3.4z" fill="rgb(68,221,60)" fill-opacity="0.6"/>
<path d="M282 471h5.4v1h-5.4zM282 477h5.4v1h-5.4zM282 482h5.4v1h-5.4zM282 488h5.4v1h-5.4zM282 493h5.4v1h-5.4zM282 499h5.4v1h-5.4zM282 505h5.4v1h-5.4zM282 510h5.4v1h-5.4zM282 516h5.4v1h-5.4zM282 521h5.4v1h-5.4zM282 527h5.4v1h-5.4z" fill="rgb(58,220,68)" fill-opacity="0.88"/>
<path d="M283 472h3.4v1h-3.4zM283 483h3.4v1h-3.4zM283 494h3.4v1h-3.4zM283 511h3.4v1h-3.4zM283 522h3.4v1h-3.4z" fill="rgb(58,220,68)" fill-opacity="0.6"/>
<path d="M308 485h5.4v1h-5.4zM308 490h5.4v1h-5.4zM308 496h5.4v1h-5.4zM308 502h5.4v1h-5.4zM308 507h5.4v1h-5.4zM308 513h5.4v1h-5.4zM308 518h5.4v1h-5.4zM308 524h5.4v1h-5.4zM308 529h5.4v1h-5.4zM308 535h5.4v1h-5.4zM308 540h5.4v1h-5.4z" fill="rgb(50,219,76)" fill-opacity="0.88"/>
<path d="M309 491h3.4v1h-3.4zM309 508h3.4v1h-3.4zM309 519h3.4v1h-3.4zM309 530h3.4v1h-3.4zM309 541h3.4v1h-3.4z" fill="rgb(50,219,76)" fill-opacity="0.6"/>
<path d="M333 499h5.4v1h-5.4zM333 504h5.4v1h-5.4zM333 510h5.4v1h-5.4zM333 515h5.4v1h-5.4zM333 521h5.4v1h-5.4zM333 526h5.4v1h-5.4zM333 532h5.4v1h-5.4zM333 537h5.4v1h-5.4zM333 543h5.4v1h-5.4zM333 549h5.4v1h-5.4zM333 554h5.4v1h-5.4z" fill="rgb(43,217,84)" fill-opacity="0.88"/>
<path d="M334 505h3.4v1h-3.4zM334 516h3.4v1h-3.4zM334 527h3.4v1h-3.4zM334 538h3.4v1h-3.4zM334 555h3.4v1h-3.4z" fill="rgb(43,217,84)" fill-opacity="0.6"/>
<path d="M359 512h5.4v1h-5.4zM359 518h5.4v1h-5.4zM359 523h5.4v1h-5.4zM359 529h5.4v1h-5.4zM359 534h5.4v1h-5.4zM359 540h5.4v1h-5.4zM359 546h5.4v1h-5.4zM359 551h5.4v1h-5.4zM359 557h5.4v1h-5.4zM359 562h5.4v1h-5.4zM359 568h5.4v1h-5.4z" fill="rgb(37,216,92)" fill-opacity="0.88"/>
<path d="M360 513h3.4v1h-3.4zM360 524h3.4v1h-3.4zM360 535h3.4v1h-3.4zM360 552h3.4v1h-3.4zM360 563h3.4v1h-3.4z" fill="rgb(37,216,92)" fill-opacity="0.6"/>
<path d="M385 526h5.4v1h-5.4zM385 531h5.4v1h-5.4zM385 537h5.4v1h-5.4zM385 543h5.4v1h-5.4zM385 548h5.4v1h-5.4zM385 554h5.4v1h-5.4zM385 559h5.4v1h-5.4zM385 565h5.4v1h-5.4zM385 570h5.4v1h-5.4zM385 576h5.4v1h-5.4zM385 581h5.4v1h-5.4z" fill="rgb(30,215,102)" fill-opacity="0.88"/>
<path d="M386 532h3.4v1h-3.4zM386 538h3.4v1h-3.4zM386 549h3.4v1h-3.4zM386 560h3.4v1h-3.4zM386 571h3.4v1h-3.4zM386 582h3.4v1h-3.4z" fill="rgb(30,215,102)" fill-opacity="0.6"/>
<path d="M204 394h5.4v1h-5.4zM204 399h5.4v1h-5.4zM204 405h5.4v1h-5.4zM204 411h5.4v1h-5.4zM204 416h5.4v1h-5.4zM204 422h5.4v1h-5.4zM204 427h5.4v1h-5.4zM204 433h5.4v1h-5.4zM204 438h5.4v1h-5.4zM204 444h5.4v1h-5.4zM204 449h5.4v1h-5.4z" fill="rgb(137,227,28)" fill-opacity="0.88"/>
<path d="M205 400h3.4v1h-3.4zM205 406h3.4v1h-3.4zM205 417h3.4v1h-3.4zM205 428h3.4v1h-3.4zM205 439h3.4v1h-3.4zM205 450h3.4v1h-3.4z" fill="rgb(137,227,28)" fill-opacity="0.6"/>
<path d="M229 408h5.4v1h-5.4zM229 413h5.4v1h-5.4zM229 419h5.4v1h-5.4zM229 424h5.4v1h-5.4zM229 430h5.4v1h-5.4zM229 435h5.4v1h-5.4zM229 441h5.4v1h-5.4zM229 446h5.4v1h-5.4zM229 452h5.4v1h-5.4zM229 458h5.4v1h-5.4zM229 463h5.4v1h-5.4z" fill="rgb(111,225,36)" fill-opacity="0.88"/>
<path d="M230 414h3.4v1h-3.4zM230 425h3.4v1h-3.4zM230 436h3.4v1h-3.4zM230 447h3.4v1h-3.4zM230 464h3.4v1h-3.4z" fill="rgb(111,225,36)" fill-opacity="0.6"/>
<path d="M255 421h5.4v1h-5.4zM255 427h5.4v1h-5.4zM255 432h5.4v1h-5.4zM255 438h5.4v1h-5.4zM255 443h5.4v1h-5.4zM255 449h5.4v1h-5.4zM255 455h5.4v1h-5.4zM255 460h5.4v1h-5.4zM255 466h5.4v1h-5.4zM255 471h5.4v1h-5.4zM255 477h5.4v1h-5.4z" fill="rgb(93,224,44)" fill-opacity="0.88"/>
<path d="M256 422h3.4v1h-3.4zM256 433h3.4v1h-3.4zM256 444h3.4v1h-3.4zM256 450h3.4v1h-3.4zM256 461h3.4v1h-3.4zM256 472h3.4v1h-3.4z" fill="rgb(93,224,44)" fill-opacity="0.6"/>
<path d="M281 435h5.4v1h-5.4zM281 440h5.4v1h-5.4zM281 446h5.4v1h-5.4zM281 452h5.4v1h-5.4zM281 457h5.4v1h-5.4zM281 463h5.4v1h-5.4zM281 468h5.4v1h-5.4zM281 474h5.4v1h-5.4zM281 479h5.4v1h-5.4zM281 485h5.4v1h-5.4zM281 490h5.4v1h-5.4z" fill="rgb(79,223,52)" fill-opacity="0.88"/>
<path d="M282 441h3.4v1h-3.4zM282 447h3.4v1h-3.4zM282 458h3.4v1h-3.4zM282 469h3.4v1h-3.4zM282 480h3.4v1h-3.4zM282 491h3.4v1h-3.4z" fill="rgb(79,223,52)" fill-opacity="0.6"/>
<path d="M306 449h5.4v1h-5.4zM306 454h5.4v1h-5.4zM306 460h5.4v1h-5.4zM306 465h5.4v1h-5.4zM306 471h5.4v1h-5.4zM306 476h5.4v1h-5.4zM306 482h5.4v1h-5.4zM306 487h5.4v1h-5.4zM306 493h5.4v1h-5.4zM306 499h5.4v1h-5.4zM306 504h5.4v1h-5.4z" fill="rgb(67,221,60)" fill-opacity="0.88"/>
<path d="M307 455h3.4v1h-3.4zM307 466h3.4v1h-3.4zM307 477h3.4v1h-3.4zM307 488h3.4v1h-3.4zM307 494h3.4v1h-3.4zM307 505h3.4v1h-3.4z" fill="rgb(67,221,60)" fill-opacity="0.6"/>
<path d="M332 462h5.4v1h-5.4zM332 468h5.4v1h-5.4zM332 473h5.4v1h-5.4zM332 479h5.4v1h-5.4zM332 485h5.4v1h-5.4zM332 490h5.4v1h-5.4zM332 496h5.4v1h-5.4zM332 501h5.4v1h-5.4zM332 507h5.4v1h-5.4zM332 512h5.4v1h-5.4zM332 518h5.4v1h-5.4z" fill="rgb(57,220,68)" fill-opacity="0.88"/>
<path d="M333 463h3.4v1h-3.4zM333 474h3.4v1h-3.4zM333 491h3.4v1h-3.4zM333 502h3.4v1h-3.4zM333 513h3.4v1h-3.4z" fill="rgb(57,220,68)" fill-opacity="0.6"/>
<path d="M358 476h5.4v1h-5.4zM358 482h5.4v1h-5.4zM358 487h5.4v1h-5.4zM358 493h5.4v1h-5.4zM358 498h5.4v1h-5.4zM358 504h5.4v1h-5.4zM358 509h5.4v1h-5.4zM358 515h5.4v1h-5.4zM358 520h5.4v1h-5.4zM358 526h5.4v1h-5.4zM358 531h5.4v1h-5.4z" fill="rgb(49,219,76)" fill-opacity="0.88"/>
<path d="M359 488h3.4v1h-3.4zM359 499h3.4v1h-3.4zM359 510h3.4v1h-3.4zM359 521h3.4v1h-3.4zM359 532h3.4v1h-3.4z" fill="rgb(49,219,76)" fill-opacity="0.6"/>
<path d="M383 490h5.4v1h-5.4zM383 495h5.4v1h-5.4zM383 501h5.4v1h-5.4zM383 506h5.4v1h-5.4zM383 512h5.4v1h-5.4zM383 517h5.4v1h-5.4zM383 523h5.4v1h-5.4zM383 529h5.4v1h-5.4zM383 534h5.4v1h-5.4zM383 540h5.4v1h-5.4zM383 545h5.4v1h-5.4z" fill="rgb(42,217,84)" fill-opacity="0.88"/>
<path d="M384 496h3.4v1h-3.4zM384 507h3.4v1h-3.4zM384 518h3.4v1h-3.4zM384 535h3.4v1h-3.4zM384 546h3.4v1h-3.4z" fill="rgb(42,217,84)" fill-opacity="0.6"/>
<path d="M409 503h5.4v1h-5.4zM409 509h5.4v1h-5.4zM409 514h5.4v1h-5.4zM409 520h5.4v1h-5.4zM409 526h5.4v1h-5.4zM409 531h5.4v1h-5.4zM409 537h5.4v1h-5.4zM409 542h5.4v1h-5.4zM409 548h5.4v1h-5.4zM409 553h5.4v1h-5.4zM409 559h5.4v1h-5.4z" fill="rgb(36,216,92)" fill-opacity="0.88"/>
<path d="M410 504h3.4v1h-3.4zM410 515h3.4v1h-3.4zM410 532h3.4v1h-3.4zM410 543h3.4v1h-3.4zM410 554h3.4v1h-3.4z" fill="rgb(36,216,92)" fill-opacity="0.6"/>
<path d="M435 517h5.4v1h-5.4zM435 523h5.4v1h-5.4zM435 528h5.4v1h-5.4zM435 534h5.4v1h-5.4zM435 539h5.4v1h-5.4zM435 545h5.4v1h-5.4zM435 550h5.4v1h-5.4zM435 556h5.4v1h-5.4zM435 561h5.4v1h-5.4zM435 567h5.4v1h-5.4zM435 573h5.4v1h-5.4z" fill="rgb(29,215,102)" fill-opacity="0.88"/>
<path d="M436 518h3.4v1h-3.4zM436 529h3.4v1h-3.4zM436 540h3.4v1h-3.4zM436 551h3.4v1h-3.4zM436 562h3.4v1h-3.4z" fill="rgb(29,215,102)" fill-opacity="0.6"/>
<path d="M254 385h5.4v1h-5.4zM254 391h5.4v1h-5.4zM254 396h5.4v1h-5.4zM254 402h5.4v1h-5.4zM254 407h5.4v1h-5.4zM254 413h5.4v1h-5.4zM254 418h5.4v1h-5.4zM254 424h5.4v1h-5.4zM254 429h5.4v1h-5.4zM254 435h5.4v1h-5.4zM254 441h5.4v1h-5.4z" fill="rgb(136,227,29)" fill-opacity="0.88"/>
<path d="M255 386h3.4v1h-3.4zM255 397h3.4v1h-3.4zM255 408h3.4v1h-3.4zM255 419h3.4v1h-3.4zM255 430h3.4v1h-3.4z" fill="rgb(136,227,29)" fill-opacity="0.6"/>
<path d="M279 399h5.4v1h-5.4zM279 404h5.4v1h-5.4zM279 410h5.4v1h-5.4zM279 415h5.4v1h-5.4zM279 421h5.4v1h-5.4zM279 426h5.4v1h-5.4zM279 432h5.4v1h-5.4zM279 438h5.4v1h-5.4zM279 443h5.4v1h-5.4zM279 449h5.4v1h-5.4zM279 454h5.4v1h-5.4z" fill="rgb(110,225,37)" fill-opacity="0.88"/>
<path d="M280 405h3.4v1h-3.4zM280 416h3.4v1h-3.4zM280 427h3.4v1h-3.4zM280 444h3.4v1h-3.4zM280 455h3.4v1h-3.4z" fill="rgb(110,225,37)" fill-opacity="0.6"/>
<path d="M305 412h5.4v1h-5.4zM305 418h5.4v1h-5.4zM305 423h5.4v1h-5.4zM305 429h5.4v1h-5.4zM305 435h5.4v1h-5.4zM305 440h5.4v1h-5.4zM305 446h5.4v1h-5.4zM305 451h5.4v1h-5.4zM305 457h5.4v1h-5.4zM305 462h5.4v1h-5.4zM305 468h5.4v1h-5.4z" fill="rgb(92,224,45)" fill-opacity="0.88"/>
<path d="M306 413h3.4v1h-3.4zM306 424h3.4v1h-3.4zM306 430h3.4v1h-3.4zM306 441h3.4v1h-3.4zM306 452h3.4v1h-3.4zM306 463h3.4v1h-3.4z" fill="rgb(92,224,45)" fill-opacity="0.6"/>
<path d="M331 426h5.4v1h-5.4zM331 432h5.4v1h-5.4zM331 437h5.4v1h-5.4zM331 443h5.4v1h-5.4zM331 448h5.4v1h-5.4zM331 454h5.4v1h-5.4zM331 459h5.4v1h-5.4zM331 465h5.4v1h-5.4zM331 470h5.4v1h-5.4zM331 476h5.4v1h-5.4zM331 482h5.4v1h-5.4z" fill="rgb(78,223,53)" fill-opacity="0.88"/>
<path d="M332 427h3.4v1h-3.4zM332 438h3.4v1h-3.4zM332 449h3.4v1h-3.4zM332 460h3.4v1h-3.4zM332 471h3.4v1h-3.4z" fill="rgb(78,223,53)" fill-opacity="0.6"/>
<path d="M356 440h5.4v1h-5.4zM356 445h5.4v1h-5.4zM356 451h5.4v1h-5.4zM356 456h5.4v1h-5.4zM356 462h5.4v1h-5.4zM356 467h5.4v1h-5.4zM356 473h5.4v1h-5.4zM356 479h5.4v1h-5.4zM356 484h5.4v1h-5.4zM356 490h5.4v1h-5.4zM356 495h5.4v1h-5.4z" fill="rgb(66,221,61)" fill-opacity="0.88"/>
<path d="M357 446h3.4v1h-3.4zM357 457h3.4v1h-3.4zM357 468h3.4v1h-3.4zM357 474h3.4v1h-3.4zM357 485h3.4v1h-3.4zM357 496h3.4v1h-3.4z" fill="rgb(66,221,61)" fill-opacity="0.6"/>
<path d="M382 453h5.4v1h-5.4zM382 459h5.4v1h-5.4zM382 465h5.4v1h-5.4zM382 470h5.4v1h-5.4zM382 476h5.4v1h-5.4zM382 481h5.4v1h-5.4zM382 487h5.4v1h-5.4zM382 492h5.4v1h-5.4zM382 498h5.4v1h-5.4zM382 503h5.4v1h-5.4zM382 509h5.4v1h-5.4z" fill="rgb(56,220,69)" fill-opacity="0.88"/>
<path d="M383 454h3.4v1h-3.4zM383 471h3.4v1h-3.4zM383 482h3.4v1h-3.4zM383 493h3.4v1h-3.4zM383 504h3.4v1h-3.4z" fill="rgb(56,220,69)" fill-opacity="0.6"/>
<path d="M408 467h5.4v1h-5.4zM408 473h5.4v1h-5.4zM408 478h5.4v1h-5.4zM408 484h5.4v1h-5.4zM408 489h5.4v1h-5.4zM408 495h5.4v1h-5.4zM408 500h5.4v1h-5.4zM408 506h5.4v1h-5.4zM408 511h5.4v1h-5.4zM408 517h5.4v1h-5.4zM408 523h5.4v1h-5.4z" fill="rgb(48,219,77)" fill-opacity="0.88"/>
<path d="M409 468h3.4v1h-3.4zM409 479h3.4v1h-3.4zM409 490h3.4v1h-3.4zM409 501h3.4v1h-3.4zM409 512h3.4v1h-3.4zM409 518h3.4v1h-3.4z" fill="rgb(48,219,77)" fill-opacity="0.6"/>
<path d="M433 481h5.4v1h-5.4zM433 486h5.4v1h-5.4zM433 492h5.4v1h-5.4zM433 497h5.4v1h-5.4zM433 503h5.4v1h-5.4zM433 509h5.4v1h-5.4zM433 514h5.4v1h-5.4zM433 520h5.4v1h-5.4zM433 525h5.4v1h-5.4zM433 531h5.4v1h-5.4zM433 536h5.4v1h-5.4z" fill="rgb(41,217,85)" fill-opacity="0.88"/>
<path d="M434 487h3.4v1h-3.4zM434 498h3.4v1h-3.4zM434 515h3.4v1h-3.4zM434 526h3.4v1h-3.4zM434 537h3.4v1h-3.4z" fill="rgb(41,217,85)" fill-opacity="0.6"/>
<path d="M459 494h5.4v1h-5.4zM459 500h5.4v1h-5.4zM459 506h5.4v1h-5.4zM459 511h5.4v1h-5.4zM459 517h5.4v1h-5.4zM459 522h5.4v1h-5.4zM459 528h5.4v1h-5.4zM459 533h5.4v1h-5.4zM459 539h5.4v1h-5.4zM459 544h5.4v1h-5.4zM459 550h5.4v1h-5.4z" fill="rgb(35,216,93)" fill-opacity="0.88"/>
<path d="M460 495h3.4v1h-3.4zM460 512h3.4v1h-3.4zM460 523h3.4v1h-3.4zM460 534h3.4v1h-3.4zM460 545h3.4v1h-3.4z" fill="rgb(35,216,93)" fill-opacity="0.6"/>
<path d="M485 508h5.4v1h-5.4zM485 514h5.4v1h-5.4zM485 519h5.4v1h-5.4zM485 525h5.4v1h-5.4zM485 530h5.4v1h-5.4zM485 536h5.4v1h-5.4zM485 541h5.4v1h-5.4zM485 547h5.4v1h-5.4zM485 553h5.4v1h-5.4zM485 558h5.4v1h-5.4zM485 564h5.4v1h-5.4z" fill="rgb(28,215,103)" fill-opacity="0.88"/>
<path d="M486 509h3.4v1h-3.4zM486 520h3.4v1h-3.4zM486 531h3.4v1h-3.4zM486 542h3.4v1h-3.4zM486 559h3.4v1h-3.4z" fill="rgb(28,215,103)" fill-opacity="0.6"/>
<path d="M304 376h5.4v1h-5.4zM304 382h5.4v1h-5.4zM304 387h5.4v1h-5.4zM304 393h5.4v1h-5.4zM304 398h5.4v1h-5.4zM304 404h5.4v1h-5.4zM304 409h5.4v1h-5.4zM304 415h5.4v1h-5.4zM304 421h5.4v1h-5.4zM304 426h5.4v1h-5.4zM304 432h5.4v1h-5.4z" fill="rgb(135,227,30)" fill-opacity="0.88"/>
<path d="M305 377h3.4v1h-3.4zM305 388h3.4v1h-3.4zM305 399h3.4v1h-3.4zM305 410h3.4v1h-3.4zM305 427h3.4v1h-3.4z" fill="rgb(135,227,30)" fill-opacity="0.6"/>
<path d="M329 390h5.4v1h-5.4zM329 395h5.4v1h-5.4zM329 401h5.4v1h-5.4zM329 406h5.4v1h-5.4zM329 412h5.4v1h-5.4zM329 418h5.4v1h-5.4zM329 423h5.4v1h-5.4zM329 429h5.4v1h-5.4zM329 434h5.4v1h-5.4zM329 440h5.4v1h-5.4zM329 445h5.4v1h-5.4z" fill="rgb(109,225,38)" fill-opacity="0.88"/>
<path d="M330 396h3.4v1h-3.4zM330 407h3.4v1h-3.4zM330 424h3.4v1h-3.4zM330 435h3.4v1h-3.4zM330 446h3.4v1h-3.4z" fill="rgb(109,225,38)" fill-opacity="0.6"/>
<path d="M355 403h5.4v1h-5.4zM355 409h5.4v1h-5.4zM355 415h5.4v1h-5.4zM355 420h5.4v1h-5.4zM355 426h5.4v1h-5.4zM355 431h5.4v1h-5.4zM355 437h5.4v1h-5.4zM355 442h5.4v1h-5.4zM355 448h5.4v1h-5.4zM355 453h5.4v1h-5.4zM355 459h5.4v1h-5.4z" fill="rgb(91,224,46)" fill-opacity="0.88"/>
<path d="M356 404h3.4v1h-3.4zM356 410h3.4v1h-3.4zM356 421h3.4v1h-3.4zM356 432h3.4v1h-3.4zM356 443h3.4v1h-3.4zM356 454h3.4v1h-3.4z" fill="rgb(91,224,46)" fill-opacity="0.6"/>
<path d="M381 417h5.4v1h-5.4zM381 423h5.4v1h-5.4zM381 428h5.4v1h-5.4zM381 434h5.4v1h-5.4zM381 439h5.4v1h-5.4zM381 445h5.4v1h-5.4zM381 450h5.4v1h-5.4zM381 456h5.4v1h-5.4zM381 462h5.4v1h-5.4zM381 467h5.4v1h-5.4zM381 473h5.4v1h-5.4z" fill="rgb(77,223,54)" fill-opacity="0.88"/>
<path d="M382 418h3.4v1h-3.4zM382 429h3.4v1h-3.4zM382 440h3.4v1h-3.4zM382 451h3.4v1h-3.4zM382 468h3.4v1h-3.4z" fill="rgb(77,223,54)" fill-opacity="0.6"/>
<path d="M406 431h5.4v1h-5.4zM406 436h5.4v1h-5.4zM406 442h5.4v1h-5.4zM406 447h5.4v1h-5.4zM406 453h5.4v1h-5.4zM406 459h5.4v1h-5.4zM406 464h5.4v1h-5.4zM406 470h5.4v1h-5.4zM406 475h5.4v1h-5.4zM406 481h5.4v1h-5.4zM406 486h5.4v1h-5.4z" fill="rgb(65,221,62)" fill-opacity="0.88"/>
<path d="M407 437h3.4v1h-3.4zM407 448h3.4v1h-3.4zM407 454h3.4v1h-3.4zM407 465h3.4v1h-3.4zM407 476h3.4v1h-3.4zM407 487h3.4v1h-3.4z" fill="rgb(65,221,62)" fill-opacity="0.6"/>
<path d="M432 445h5.4v1h-5.4zM432 450h5.4v1h-5.4zM432 456h5.4v1h-5.4zM432 461h5.4v1h-5.4zM432 467h5.4v1h-5.4zM432 472h5.4v1h-5.4zM432 478h5.4v1h-5.4zM432 483h5.4v1h-5.4zM432 489h5.4v1h-5.4zM432 494h5.4v1h-5.4zM432 500h5.4v1h-5.4z" fill="rgb(55,220,70)" fill-opacity="0.88"/>
<path d="M433 451h3.4v1h-3.4zM433 462h3.4v1h-3.4zM433 473h3.4v1h-3.4zM433 484h3.4v1h-3.4zM433 495h3.4v1h-3.4zM433 501h3.4v1h-3.4z" fill="rgb(55,220,70)" fill-opacity="0.6"/>
<path d="M458 458h5.4v1h-5.4zM458 464h5.4v1h-5.4zM458 469h5.4v1h-5.4zM458 475h5.4v1h-5.4zM458 480h5.4v1h-5.4zM458 486h5.4v1h-5.4zM458 491h5.4v1h-5.4zM458 497h5.4v1h-5.4zM458 503h5.4v1h-5.4zM458 508h5.4v1h-5.4zM458 514h5.4v1h-5.4z" fill="rgb(47,219,78)" fill-opacity="0.88"/>
<path d="M459 459h3.4v1h-3.4zM459 470h3.4v1h-3.4zM459 481h3.4v1h-3.4zM459 492h3.4v1h-3.4zM459 498h3.4v1h-3.4zM459 509h3.4v1h-3.4z" fill="rgb(47,219,78)" fill-opacity="0.6"/>
<path d="M483 472h5.4v1h-5.4zM483 477h5.4v1h-5.4zM483 483h5.4v1h-5.4zM483 489h5.4v1h-5.4zM483 494h5.4v1h-5.4zM483 500h5.4v1h-5.4zM483 505h5.4v1h-5.4zM483 511h5.4v1h-5.4zM483 516h5.4v1h-5.4zM483 522h5.4v1h-5.4zM483 527h5.4v1h-5.4z" fill="rgb(40,217,86)" fill-opacity="0.88"/>
<path d="M484 478h3.4v1h-3.4zM484 495h3.4v1h-3.4zM484 506h3.4v1h-3.4zM484 517h3.4v1h-3.4zM484 528h3.4v1h-3.4z" fill="rgb(40,217,86)" fill-opacity="0.6"/>
<path d="M509 486h5.4v1h-5.4zM509 491h5.4v1h-5.4zM509 497h5.4v1h-5.4zM509 502h5.4v1h-5.4zM509 508h5.4v1h-5.4zM509 513h5.4v1h-5.4zM509 519h5.4v1h-5.4zM509 524h5.4v1h-5.4zM509 530h5.4v1h-5.4zM509 535h5.4v1h-5.4zM509 541h5.4v1h-5.4z" fill="rgb(34,216,94)" fill-opacity="0.88"/>
<path d="M510 492h3.4v1h-3.4zM510 503h3.4v1h-3.4zM510 514h3.4v1h-3.4zM510 525h3.4v1h-3.4zM510 536h3.4v1h-3.4zM510 542h3.4v1h-3.4z" fill="rgb(34,216,94)" fill-opacity="0.6"/>
<path d="M535 499h5.4v1h-5.4zM535 505h5.4v1h-5.4zM535 510h5.4v1h-5.4zM535 516h5.4v1h-5.4zM535 521h5.4v1h-5.4zM535 527h5.4v1h-5.4zM535 533h5.4v1h-5.4zM535 538h5.4v1h-5.4zM535 544h5.4v1h-5.4zM535 549h5.4v1h-5.4zM535 555h5.4v1h-5.4z" fill="rgb(27,215,104)" fill-opacity="0.88"/>
<path d="M536 500h3.4v1h-3.4zM536 511h3.4v1h-3.4zM536 522h3.4v1h-3.4zM536 539h3.4v1h-3.4zM536 550h3.4v1h-3.4z" fill="rgb(27,215,104)" fill-opacity="0.6"/>
<path d="M354 367h5.4v1h-5.4zM354 373h5.4v1h-5.4zM354 378h5.4v1h-5.4zM354 384h5.4v1h-5.4zM354 389h5.4v1h-5.4zM354 395h5.4v1h-5.4zM354 401h5.4v1h-5.4zM354 406h5.4v1h-5.4zM354 412h5.4v1h-5.4zM354 417h5.4v1h-5.4zM354 423h5.4v1h-5.4z" fill="rgb(134,227,31)" fill-opacity="0.88"/>
<path d="M355 368h3.4v1h-3.4zM355 379h3.4v1h-3.4zM355 390h3.4v1h-3.4zM355 407h3.4v1h-3.4zM355 418h3.4v1h-3.4z" fill="rgb(134,227,31)" fill-opacity="0.6"/>
<path d="M379 381h5.4v1h-5.4zM379 386h5.4v1h-5.4zM379 392h5.4v1h-5.4zM379 398h5.4v1h-5.4zM379 403h5.4v1h-5.4zM379 409h5.4v1h-5.4zM379 414h5.4v1h-5.4zM379 420h5.4v1h-5.4zM379 425h5.4v1h-5.4zM379 431h5.4v1h-5.4zM379 436h5.4v1h-5.4z" fill="rgb(108,225,39)" fill-opacity="0.88"/>
<path d="M380 387h3.4v1h-3.4zM380 404h3.4v1h-3.4zM380 415h3.4v1h-3.4zM380 426h3.4v1h-3.4zM380 437h3.4v1h-3.4z" fill="rgb(108,225,39)" fill-opacity="0.6"/>
<path d="M405 395h5.4v1h-5.4zM405 400h5.4v1h-5.4zM405 406h5.4v1h-5.4zM405 411h5.4v1h-5.4zM405 417h5.4v1h-5.4zM405 422h5.4v1h-5.4zM405 428h5.4v1h-5.4zM405 433h5.4v1h-5.4zM405 439h5.4v1h-5.4zM405 445h5.4v1h-5.4zM405 450h5.4v1h-5.4z" fill="rgb(90,224,47)" fill-opacity="0.88"/>
<path d="M406 401h3.4v1h-3.4zM406 412h3.4v1h-3.4zM406 423h3.4v1h-3.4zM406 434h3.4v1h-3.4zM406 451h3.4v1h-3.4z" fill="rgb(90,224,47)" fill-opacity="0.6"/>
<path d="M431 408h5.4v1h-5.4zM431 414h5.4v1h-5.4zM431 419h5.4v1h-5.4zM431 425h5.4v1h-5.4zM431 430h5.4v1h-5.4zM431 436h5.4v1h-5.4zM431 442h5.4v1h-5.4zM431 447h5.4v1h-5.4zM431 453h5.4v1h-5.4zM431 458h5.4v1h-5.4zM431 464h5.4v1h-5.4z" fill="rgb(76,223,55)" fill-opacity="0.88"/>
<path d="M432 409h3.4v1h-3.4zM432 420h3.4v1h-3.4zM432 431h3.4v1h-3.4zM432 448h3.4v1h-3.4zM432 459h3.4v1h-3.4z" fill="rgb(76,223,55)" fill-opacity="0.6"/>
<path d="M456 422h5.4v1h-5.4zM456 427h5.4v1h-5.4zM456 433h5.4v1h-5.4zM456 439h5.4v1h-5.4zM456 444h5.4v1h-5.4zM456 450h5.4v1h-5.4zM456 455h5.4v1h-5.4zM456 461h5.4v1h-5.4zM456 466h5.4v1h-5.4zM456 472h5.4v1h-5.4zM456 477h5.4v1h-5.4z" fill="rgb(64,221,63)" fill-opacity="0.88"/>
<path d="M457 428h3.4v1h-3.4zM457 434h3.4v1h-3.4zM457 445h3.4v1h-3.4zM457 456h3.4v1h-3.4zM457 467h3.4v1h-3.4zM457 478h3.4v1h-3.4z" fill="rgb(64,221,63)" fill-opacity="0.6"/>
<path d="M482 436h5.4v1h-5.4zM482 441h5.4v1h-5.4zM482 447h5.4v1h-5.4zM482 452h5.4v1h-5.4zM482 458h5.4v1h-5.4zM482 463h5.4v1h-5.4zM482 469h5.4v1h-5.4zM482 474h5.4v1h-5.4zM482 480h5.4v1h-5.4zM482 486h5.4v1h-5.4zM482 491h5.4v1h-5.4z" fill="rgb(54,220,71)" fill-opacity="0.88"/>
<path d="M483 442h3.4v1h-3.4zM483 453h3.4v1h-3.4zM483 464h3.4v1h-3.4zM483 475h3.4v1h-3.4zM483 481h3.4v1h-3.4zM483 492h3.4v1h-3.4z" fill="rgb(54,220,71)" fill-opacity="0.6"/>
<path d="M508 449h5.4v1h-5.4zM508 455h5.4v1h-5.4zM508 460h5.4v1h-5.4zM508 466h5.4v1h-5.4zM508 471h5.4v1h-5.4zM508 477h5.4v1h-5.4zM508 483h5.4v1h-5.4zM508 488h5.4v1h-5.4zM508 494h5.4v1h-5.4zM508 499h5.4v1h-5.4zM508 505h5.4v1h-5.4z" fill="rgb(46,219,79)" fill-opacity="0.88"/>
<path d="M509 450h3.4v1h-3.4zM509 461h3.4v1h-3.4zM509 472h3.4v1h-3.4zM509 478h3.4v1h-3.4zM509 489h3.4v1h-3.4zM509 500h3.4v1h-3.4z" fill="rgb(46,219,79)" fill-opacity="0.6"/>
<path d="M533 463h5.4v1h-5.4zM533 469h5.4v1h-5.4zM533 474h5.4v1h-5.4zM533 480h5.4v1h-5.4zM533 485h5.4v1h-5.4zM533 491h5.4v1h-5.4zM533 496h5.4v1h-5.4zM533 502h5.4v1h-5.4zM533 507h5.4v1h-5.4zM533 513h5.4v1h-5.4zM533 518h5.4v1h-5.4z" fill="rgb(39,217,87)" fill-opacity="0.88"/>
<path d="M534 475h3.4v1h-3.4zM534 486h3.4v1h-3.4zM534 497h3.4v1h-3.4zM534 508h3.4v1h-3.4zM534 519h3.4v1h-3.4z" fill="rgb(39,217,87)" fill-opacity="0.6"/>
<path d="M559 477h5.4v1h-5.4zM559 482h5.4v1h-5.4zM559 488h5.4v1h-5.4zM559 493h5.4v1h-5.4zM559 499h5.4v1h-5.4zM559 504h5.4v1h-5.4zM559 510h5.4v1h-5.4zM559 515h5.4v1h-5.4zM559 521h5.4v1h-5.4zM559 527h5.4v1h-5.4zM559 532h5.4v1h-5.4z" fill="rgb(33,216,95)" fill-opacity="0.88"/>
<path d="M560 483h3.4v1h-3.4zM560 494h3.4v1h-3.4zM560 505h3.4v1h-3.4zM560 516h3.4v1h-3.4zM560 522h3.4v1h-3.4zM560 533h3.4v1h-3.4z" fill="rgb(33,216,95)" fill-opacity="0.6"/>
<path d="M585 490h5.4v1h-5.4zM585 496h5.4v1h-5.4zM585 501h5.4v1h-5.4zM585 507h5.4v1h-5.4zM585 513h5.4v1h-5.4zM585 518h5.4v1h-5.4zM585 524h5.4v1h-5.4zM585 529h5.4v1h-5.4zM585 535h5.4v1h-5.4zM585 540h5.4v1h-5.4zM585 546h5.4v1h-5.4z" fill="rgb(26,215,105)" fill-opacity="0.88"/>
<path d="M586 491h3.4v1h-3.4zM586 502h3.4v1h-3.4zM586 519h3.4v1h-3.4zM586 530h3.4v1h-3.4zM586 541h3.4v1h-3.4z" fill="rgb(26,215,105)" fill-opacity="0.6"/>
<path d="M404 358h5.4v1h-5.4zM404 364h5.4v1h-5.4zM404 369h5.4v1h-5.4zM404 375h5.4v1h-5.4zM404 381h5.4v1h-5.4zM404 386h5.4v1h-5.4zM404 392h5.4v1h-5.4zM404 397h5.4v1h-5.4zM404 403h5.4v1h-5.4zM404 408h5.4v1h-5.4zM404 414h5.4v1h-5.4z" fill="rgb(133,227,32)" fill-opacity="0.88"/>
<path d="M405 359h3.4v1h-3.4zM405 370h3.4v1h-3.4zM405 387h3.4v1h-3.4zM405 398h3.4v1h-3.4zM405 409h3.4v1h-3.4z" fill="rgb(133,227,32)" fill-opacity="0.6"/>
<path d="M429 372h5.4v1h-5.4zM429 378h5.4v1h-5.4zM429 383h5.4v1h-5.4zM429 389h5.4v1h-5.4zM429 394h5.4v1h-5.4zM429 400h5.4v1h-5.4zM429 405h5.4v1h-5.4zM429 411h5.4v1h-5.4zM429 416h5.4v1h-5.4zM429 422h5.4v1h-5.4zM429 427h5.4v1h-5.4z" fill="rgb(107,225,40)" fill-opacity="0.88"/>
<path d="M430 384h3.4v1h-3.4zM430 395h3.4v1h-3.4zM430 406h3.4v1h-3.4zM430 417h3.4v1h-3.4zM430 428h3.4v1h-3.4z" fill="rgb(107,225,40)" fill-opacity="0.6"/>
<path d="M455 386h5.4v1h-5.4zM455 391h5.4v1h-5.4zM455 397h5.4v1h-5.4zM455 402h5.4v1h-5.4zM455 408h5.4v1h-5.4zM455 413h5.4v1h-5.4zM455 419h5.4v1h-5.4zM455 425h5.4v1h-5.4zM455 430h5.4v1h-5.4zM455 436h5.4v1h-5.4zM455 441h5.4v1h-5.4z" fill="rgb(89,224,48)" fill-opacity="0.88"/>
<path d="M456 392h3.4v1h-3.4zM456 403h3.4v1h-3.4zM456 414h3.4v1h-3.4zM456 431h3.4v1h-3.4zM456 442h3.4v1h-3.4z" fill="rgb(89,224,48)" fill-opacity="0.6"/>
<path d="M481 399h5.4v1h-5.4zM481 405h5.4v1h-5.4zM481 410h5.4v1h-5.4zM481 416h5.4v1h-5.4zM481 422h5.4v1h-5.4zM481 427h5.4v1h-5.4zM481 433h5.4v1h-5.4zM481 438h5.4v1h-5.4zM481 444h5.4v1h-5.4zM481 449h5.4v1h-5.4zM481 455h5.4v1h-5.4z" fill="rgb(75,223,56)" fill-opacity="0.88"/>
<path d="M482 400h3.4v1h-3.4zM482 411h3.4v1h-3.4zM482 428h3.4v1h-3.4zM482 439h3.4v1h-3.4zM482 450h3.4v1h-3.4z" fill="rgb(75,223,56)" fill-opacity="0.6"/>
<path d="M506 413h5.4v1h-5.4zM506 419h5.4v1h-5.4zM506 424h5.4v1h-5.4zM506 430h5.4v1h-5.4zM506 435h5.4v1h-5.4zM506 441h5.4v1h-5.4zM506 446h5.4v1h-5.4zM506 452h5.4v1h-5.4zM506 457h5.4v1h-5.4zM506 463h5.4v1h-5.4zM506 469h5.4v1h-5.4z" fill="rgb(63,221,64)" fill-opacity="0.88"/>
<path d="M507 414h3.4v1h-3.4zM507 425h3.4v1h-3.4zM507 436h3.4v1h-3.4zM507 447h3.4v1h-3.4zM507 458h3.4v1h-3.4z" fill="rgb(63,221,64)" fill-opacity="0.6"/>
<path d="M532 427h5.4v1h-5.4zM532 432h5.4v1h-5.4zM532 438h5.4v1h-5.4zM532 443h5.4v1h-5.4zM532 449h5.4v1h-5.4zM532 454h5.4v1h-5.4zM532 460h5.4v1h-5.4zM532 466h5.4v1h-5.4zM532 471h5.4v1h-5.4zM532 477h5.4v1h-5.4zM532 482h5.4v1h-5.4z" fill="rgb(53,220,72)" fill-opacity="0.88"/>
<path d="M533 433h3.4v1h-3.4zM533 444h3.4v1h-3.4zM533 455h3.4v1h-3.4zM533 461h3.4v1h-3.4zM533 472h3.4v1h-3.4zM533 483h3.4v1h-3.4z" fill="rgb(53,220,72)" fill-opacity="0.6"/>
<path d="M558 440h5.4v1h-5.4zM558 446h5.4v1h-5.4zM558 451h5.4v1h-5.4zM558 457h5.4v1h-5.4zM558 463h5.4v1h-5.4zM558 468h5.4v1h-5.4zM558 474h5.4v1h-5.4zM558 479h5.4v1h-5.4zM558 485h5.4v1h-5.4zM558 490h5.4v1h-5.4zM558 496h5.4v1h-5.4z" fill="rgb(45,219,80)" fill-opacity="0.88"/>
<path d="M559 441h3.4v1h-3.4zM559 452h3.4v1h-3.4zM559 458h3.4v1h-3.4zM559 469h3.4v1h-3.4zM559 480h3.4v1h-3.4zM559 491h3.4v1h-3.4z" fill="rgb(45,219,80)" fill-opacity="0.6"/>
<path d="M583 454h5.4v1h-5.4zM583 460h5.4v1h-5.4zM583 465h5.4v1h-5.4zM583 471h5.4v1h-5.4zM583 476h5.4v1h-5.4zM583 482h5.4v1h-5.4zM583 487h5.4v1h-5.4zM583 493h5.4v1h-5.4zM583 498h5.4v1h-5.4zM583 504h5.4v1h-5.4zM583 510h5.4v1h-5.4z" fill="rgb(38,217,88)" fill-opacity="0.88"/>
<path d="M584 455h3.4v1h-3.4zM584 466h3.4v1h-3.4zM584 477h3.4v1h-3.4zM584 488h3.4v1h-3.4zM584 499h3.4v1h-3.4zM584 505h3.4v1h-3.4z" fill="rgb(38,217,88)" fill-opacity="0.6"/>
<path d="M609 468h5.4v1h-5.4zM609 473h5.4v1h-5.4zM609 479h5.4v1h-5.4zM609 484h5.4v1h-5.4zM609 490h5.4v1h-5.4zM609 495h5.4v1h-5.4zM609 501h5.4v1h-5.4zM609 507h5.4v1h-5.4zM609 512h5.4v1h-5.4zM609 518h5.4v1h-5.4zM609 523h5.4v1h-5.4z" fill="rgb(32,216,96)" fill-opacity="0.88"/>
<path d="M610 474h3.4v1h-3.4zM610 485h3.4v1h-3.4zM610 496h3.4v1h-3.4zM610 502h3.4v1h-3.4zM610 513h3.4v1h-3.4zM610 524h3.4v1h-3.4z" fill="rgb(32,216,96)" fill-opacity="0.6"/>
<path d="M635 481h5.4v1h-5.4zM635 487h5.4v1h-5.4zM635 493h5.4v1h-5.4zM635 498h5.4v1h-5.4zM635 504h5.4v1h-5.4zM635 509h5.4v1h-5.4zM635 515h5.4v1h-5.4zM635 520h5.4v1h-5.4zM635 526h5.4v1h-5.4zM635 531h5.4v1h-5.4zM635 537h5.4v1h-5.4z" fill="rgb(25,215,106)" fill-opacity="0.88"/>
<path d="M636 482h3.4v1h-3.4zM636 499h3.4v1h-3.4zM636 510h3.4v1h-3.4zM636 521h3.4v1h-3.4zM636 532h3.4v1h-3.4z" fill="rgb(25,215,106)" fill-opacity="0.6"/>
<path d="M454 349h5.4v1h-5.4zM454 355h5.4v1h-5.4zM454 361h5.4v1h-5.4zM454 366h5.4v1h-5.4zM454 372h5.4v1h-5.4zM454 377h5.4v1h-5.4zM454 383h5.4v1h-5.4zM454 388h5.4v1h-5.4zM454 394h5.4v1h-5.4zM454 399h5.4v1h-5.4zM454 405h5.4v1h-5.4z" fill="rgb(132,227,32)" fill-opacity="0.88"/>
<path d="M455 350h3.4v1h-3.4zM455 367h3.4v1h-3.4zM455 378h3.4v1h-3.4zM455 389h3.4v1h-3.4zM455 400h3.4v1h-3.4z" fill="rgb(132,227,32)" fill-opacity="0.6"/>
<path d="M479 363h5.4v1h-5.4zM479 369h5.4v1h-5.4zM479 374h5.4v1h-5.4zM479 380h5.4v1h-5.4zM479 385h5.4v1h-5.4zM479 391h5.4v1h-5.4zM479 396h5.4v1h-5.4zM479 402h5.4v1h-5.4zM479 407h5.4v1h-5.4zM479 413h5.4v1h-5.4zM479 419h5.4v1h-5.4z" fill="rgb(106,225,40)" fill-opacity="0.88"/>
<path d="M480 364h3.4v1h-3.4zM480 375h3.4v1h-3.4zM480 386h3.4v1h-3.4zM480 397h3.4v1h-3.4zM480 408h3.4v1h-3.4zM480 414h3.4v1h-3.4z" fill="rgb(106,225,40)" fill-opacity="0.6"/>
<path d="M505 377h5.4v1h-5.4zM505 382h5.4v1h-5.4zM505 388h5.4v1h-5.4zM505 393h5.4v1h-5.4zM505 399h5.4v1h-5.4zM505 405h5.4v1h-5.4zM505 410h5.4v1h-5.4zM505 416h5.4v1h-5.4zM505 421h5.4v1h-5.4zM505 427h5.4v1h-5.4zM505 432h5.4v1h-5.4z" fill="rgb(88,224,48)" fill-opacity="0.88"/>
<path d="M506 383h3.4v1h-3.4zM506 394h3.4v1h-3.4zM506 411h3.4v1h-3.4zM506 422h3.4v1h-3.4zM506 433h3.4v1h-3.4z" fill="rgb(88,224,48)" fill-opacity="0.6"/>
<path d="M531 390h5.4v1h-5.4zM531 396h5.4v1h-5.4zM531 402h5.4v1h-5.4zM531 407h5.4v1h-5.4zM531 413h5.4v1h-5.4zM531 418h5.4v1h-5.4zM531 424h5.4v1h-5.4zM531 429h5.4v1h-5.4zM531 435h5.4v1h-5.4zM531 440h5.4v1h-5.4zM531 446h5.4v1h-5.4z" fill="rgb(74,223,56)" fill-opacity="0.88"/>
<path d="M532 391h3.4v1h-3.4zM532 408h3.4v1h-3.4zM532 419h3.4v1h-3.4zM532 430h3.4v1h-3.4zM532 441h3.4v1h-3.4z" fill="rgb(74,223,56)" fill-opacity="0.6"/>
<path d="M556 404h5.4v1h-5.4zM556 410h5.4v1h-5.4zM556 415h5.4v1h-5.4zM556 421h5.4v1h-5.4zM556 426h5.4v1h-5.4zM556 432h5.4v1h-5.4zM556 437h5.4v1h-5.4zM556 443h5.4v1h-5.4zM556 449h5.4v1h-5.4zM556 454h5.4v1h-5.4zM556 460h5.4v1h-5.4z" fill="rgb(62,221,64)" fill-opacity="0.88"/>
<path d="M557 405h3.4v1h-3.4zM557 416h3.4v1h-3.4zM557 427h3.4v1h-3.4zM557 438h3.4v1h-3.4zM557 455h3.4v1h-3.4z" fill="rgb(62,221,64)" fill-opacity="0.6"/>
<path d="M582 418h5.4v1h-5.4zM582 423h5.4v1h-5.4zM582 429h5.4v1h-5.4zM582 434h5.4v1h-5.4zM582 440h5.4v1h-5.4zM582 446h5.4v1h-5.4zM582 451h5.4v1h-5.4zM582 457h5.4v1h-5.4zM582 462h5.4v1h-5.4zM582 468h5.4v1h-5.4zM582 473h5.4v1h-5.4z" fill="rgb(52,220,72)" fill-opacity="0.88"/>
<path d="M583 424h3.4v1h-3.4zM583 435h3.4v1h-3.4zM583 452h3.4v1h-3.4zM583 463h3.4v1h-3.4zM583 474h3.4v1h-3.4z" fill="rgb(52,220,72)" fill-opacity="0.6"/>
<path d="M608 431h5.4v1h-5.4zM608 437h5.4v1h-5.4zM608 443h5.4v1h-5.4zM608 448h5.4v1h-5.4zM608 454h5.4v1h-5.4zM608 459h5.4v1h-5.4zM608 465h5.4v1h-5.4zM608 470h5.4v1h-5.4zM608 476h5.4v1h-5.4zM608 481h5.4v1h-5.4zM608 487h5.4v1h-5.4z" fill="rgb(44,219,80)" fill-opacity="0.88"/>
<path d="M609 432h3.4v1h-3.4zM609 438h3.4v1h-3.4zM609 449h3.4v1h-3.4zM609 460h3.4v1h-3.4zM609 471h3.4v1h-3.4zM609 482h3.4v1h-3.4z" fill="rgb(44,219,80)" fill-opacity="0.6"/>
<path d="M633 445h5.4v1h-5.4zM633 451h5.4v1h-5.4zM633 456h5.4v1h-5.4zM633 462h5.4v1h-5.4zM633 467h5.4v1h-5.4zM633 473h5.4v1h-5.4zM633 478h5.4v1h-5.4zM633 484h5.4v1h-5.4zM633 490h5.4v1h-5.4zM633 495h5.4v1h-5.4zM633 501h5.4v1h-5.4z" fill="rgb(37,217,88)" fill-opacity="0.88"/>
<path d="M634 446h3.4v1h-3.4zM634 457h3.4v1h-3.4zM634 468h3.4v1h-3.4zM634 479h3.4v1h-3.4zM634 485h3.4v1h-3.4zM634 496h3.4v1h-3.4z" fill="rgb(37,217,88)" fill-opacity="0.6"/>
<path d="M659 459h5.4v1h-5.4zM659 464h5.4v1h-5.4zM659 470h5.4v1h-5.4zM659 475h5.4v1h-5.4zM659 481h5.4v1h-5.4zM659 487h5.4v1h-5.4zM659 492h5.4v1h-5.4zM659 498h5.4v1h-5.4zM659 503h5.4v1h-5.4zM659 509h5.4v1h-5.4zM659 514h5.4v1h-5.4z" fill="rgb(31,216,96)" fill-opacity="0.88"/>
<path d="M660 465h3.4v1h-3.4zM660 476h3.4v1h-3.4zM660 482h3.4v1h-3.4zM660 493h3.4v1h-3.4zM660 504h3.4v1h-3.4zM660 515h3.4v1h-3.4z" fill="rgb(31,216,96)" fill-opacity="0.6"/>
<path d="M685 473h5.4v1h-5.4zM685 478h5.4v1h-5.4zM685 484h5.4v1h-5.4zM685 489h5.4v1h-5.4zM685 495h5.4v1h-5.4zM685 500h5.4v1h-5.4zM685 506h5.4v1h-5.4zM685 511h5.4v1h-5.4zM685 517h5.4v1h-5.4zM685 522h5.4v1h-5.4zM685 528h5.4v1h-5.4z" fill="rgb(24,215,106)" fill-opacity="0.88"/>
<path d="M686 479h3.4v1h-3.4zM686 490h3.4v1h-3.4zM686 501h3.4v1h-3.4zM686 512h3.4v1h-3.4zM686 523h3.4v1h-3.4zM686 529h3.4v1h-3.4z" fill="rgb(24,215,106)" fill-opacity="0.6"/>
<path d="M504 341h5.4v1h-5.4zM504 346h5.4v1h-5.4zM504 352h5.4v1h-5.4zM504 357h5.4v1h-5.4zM504 363h5.4v1h-5.4zM504 368h5.4v1h-5.4zM504 374h5.4v1h-5.4zM504 379h5.4v1h-5.4zM504 385h5.4v1h-5.4zM504 390h5.4v1h-5.4zM504 396h5.4v1h-5.4z" fill="rgb(131,227,33)" fill-opacity="0.88"/>
<path d="M505 347h3.4v1h-3.4zM505 358h3.4v1h-3.4zM505 369h3.4v1h-3.4zM505 380h3.4v1h-3.4zM505 391h3.4v1h-3.4zM505 397h3.4v1h-3.4z" fill="rgb(131,227,33)" fill-opacity="0.6"/>
<path d="M529 354h5.4v1h-5.4zM529 360h5.4v1h-5.4zM529 365h5.4v1h-5.4zM529 371h5.4v1h-5.4zM529 376h5.4v1h-5.4zM529 382h5.4v1h-5.4zM529 387h5.4v1h-5.4zM529 393h5.4v1h-5.4zM529 399h5.4v1h-5.4zM529 404h5.4v1h-5.4zM529 410h5.4v1h-5.4z" fill="rgb(105,225,41)" fill-opacity="0.88"/>
<path d="M530 355h3.4v1h-3.4zM530 366h3.4v1h-3.4zM530 377h3.4v1h-3.4zM530 388h3.4v1h-3.4zM530 394h3.4v1h-3.4zM530 405h3.4v1h-3.4z" fill="rgb(105,225,41)" fill-opacity="0.6"/>
<path d="M555 368h5.4v1h-5.4zM555 373h5.4v1h-5.4zM555 379h5.4v1h-5.4zM555 385h5.4v1h-5.4zM555 390h5.4v1h-5.4zM555 396h5.4v1h-5.4zM555 401h5.4v1h-5.4zM555 407h5.4v1h-5.4zM555 412h5.4v1h-5.4zM555 418h5.4v1h-5.4zM555 423h5.4v1h-5.4z" fill="rgb(87,224,49)" fill-opacity="0.88"/>
<path d="M556 374h3.4v1h-3.4zM556 391h3.4v1h-3.4zM556 402h3.4v1h-3.4zM556 413h3.4v1h-3.4zM556 424h3.4v1h-3.4z" fill="rgb(87,224,49)" fill-opacity="0.6"/>
<path d="M581 382h5.4v1h-5.4zM581 387h5.4v1h-5.4zM581 393h5.4v1h-5.4zM581 398h5.4v1h-5.4zM581 404h5.4v1h-5.4zM581 409h5.4v1h-5.4zM581 415h5.4v1h-5.4zM581 420h5.4v1h-5.4zM581 426h5.4v1h-5.4zM581 431h5.4v1h-5.4zM581 437h5.4v1h-5.4z" fill="rgb(73,223,57)" fill-opacity="0.88"/>
<path d="M582 388h3.4v1h-3.4zM582 399h3.4v1h-3.4zM582 410h3.4v1h-3.4zM582 421h3.4v1h-3.4zM582 432h3.4v1h-3.4zM582 438h3.4v1h-3.4z" fill="rgb(73,223,57)" fill-opacity="0.6"/>
<path d="M606 395h5.4v1h-5.4zM606 401h5.4v1h-5.4zM606 406h5.4v1h-5.4zM606 412h5.4v1h-5.4zM606 417h5.4v1h-5.4zM606 423h5.4v1h-5.4zM606 429h5.4v1h-5.4zM606 434h5.4v1h-5.4zM606 440h5.4v1h-5.4zM606 445h5.4v1h-5.4zM606 451h5.4v1h-5.4z" fill="rgb(61,221,65)" fill-opacity="0.88"/>
<path d="M607 396h3.4v1h-3.4zM607 407h3.4v1h-3.4zM607 418h3.4v1h-3.4zM607 435h3.4v1h-3.4zM607 446h3.4v1h-3.4z" fill="rgb(61,221,65)" fill-opacity="0.6"/>
<path d="M632 409h5.4v1h-5.4zM632 414h5.4v1h-5.4zM632 420h5.4v1h-5.4zM632 426h5.4v1h-5.4zM632 431h5.4v1h-5.4zM632 437h5.4v1h-5.4zM632 442h5.4v1h-5.4zM632 448h5.4v1h-5.4zM632 453h5.4v1h-5.4zM632 459h5.4v1h-5.4zM632 464h5.4v1h-5.4z" fill="rgb(51,220,73)" fill-opacity="0.88"/>
<path d="M633 415h3.4v1h-3.4zM633 421h3.4v1h-3.4zM633 432h3.4v1h-3.4zM633 443h3.4v1h-3.4zM633 454h3.4v1h-3.4zM633 465h3.4v1h-3.4z" fill="rgb(51,220,73)" fill-opacity="0.6"/>
<path d="M658 423h5.4v1h-5.4zM658 428h5.4v1h-5.4zM658 434h5.4v1h-5.4zM658 439h5.4v1h-5.4zM658 445h5.4v1h-5.4zM658 450h5.4v1h-5.4zM658 456h5.4v1h-5.4zM658 461h5.4v1h-5.4zM658 467h5.4v1h-5.4zM658 473h5.4v1h-5.4zM658 478h5.4v1h-5.4z" fill="rgb(43,219,81)" fill-opacity="0.88"/>
<path d="M659 429h3.4v1h-3.4zM659 440h3.4v1h-3.4zM659 451h3.4v1h-3.4zM659 462h3.4v1h-3.4zM659 479h3.4v1h-3.4z" fill="rgb(43,219,81)" fill-opacity="0.6"/>
<path d="M683 436h5.4v1h-5.4zM683 442h5.4v1h-5.4zM683 447h5.4v1h-5.4zM683 453h5.4v1h-5.4zM683 458h5.4v1h-5.4zM683 464h5.4v1h-5.4zM683 470h5.4v1h-5.4zM683 475h5.4v1h-5.4zM683 481h5.4v1h-5.4zM683 486h5.4v1h-5.4zM683 492h5.4v1h-5.4z" fill="rgb(36,217,89)" fill-opacity="0.88"/>
<path d="M684 437h3.4v1h-3.4zM684 448h3.4v1h-3.4zM684 459h3.4v1h-3.4zM684 465h3.4v1h-3.4zM684 476h3.4v1h-3.4zM684 487h3.4v1h-3.4z" fill="rgb(36,217,89)" fill-opacity="0.6"/>
<path d="M709 450h5.4v1h-5.4zM709 455h5.4v1h-5.4zM709 461h5.4v1h-5.4zM709 467h5.4v1h-5.4zM709 472h5.4v1h-5.4zM709 478h5.4v1h-5.4zM709 483h5.4v1h-5.4zM709 489h5.4v1h-5.4zM709 494h5.4v1h-5.4zM709 500h5.4v1h-5.4zM709 505h5.4v1h-5.4z" fill="rgb(30,216,97)" fill-opacity="0.88"/>
<path d="M710 456h3.4v1h-3.4zM710 462h3.4v1h-3.4zM710 473h3.4v1h-3.4zM710 484h3.4v1h-3.4zM710 495h3.4v1h-3.4zM710 506h3.4v1h-3.4z" fill="rgb(30,216,97)" fill-opacity="0.6"/>
<path d="M735 464h5.4v1h-5.4zM735 469h5.4v1h-5.4zM735 475h5.4v1h-5.4zM735 480h5.4v1h-5.4zM735 486h5.4v1h-5.4zM735 491h5.4v1h-5.4zM735 497h5.4v1h-5.4zM735 502h5.4v1h-5.4zM735 508h5.4v1h-5.4zM735 514h5.4v1h-5.4zM735 519h5.4v1h-5.4z" fill="rgb(23,215,107)" fill-opacity="0.88"/>
<path d="M736 470h3.4v1h-3.4zM736 481h3.4v1h-3.4zM736 492h3.4v1h-3.4zM736 503h3.4v1h-3.4zM736 509h3.4v1h-3.4zM736 520h3.4v1h-3.4z" fill="rgb(23,215,107)" fill-opacity="0.6"/>
<path d="M554 332h5.4v1h-5.4zM554 337h5.4v1h-5.4zM554 343h5.4v1h-5.4zM554 348h5.4v1h-5.4zM554 354h5.4v1h-5.4zM554 359h5.4v1h-5.4zM554 365h5.4v1h-5.4zM554 370h5.4v1h-5.4zM554 376h5.4v1h-5.4zM554 382h5.4v1h-5.4zM554 387h5.4v1h-5.4z" fill="rgb(130,227,34)" fill-opacity="0.88"/>
<path d="M555 338h3.4v1h-3.4zM555 349h3.4v1h-3.4zM555 360h3.4v1h-3.4zM555 371h3.4v1h-3.4zM555 377h3.4v1h-3.4zM555 388h3.4v1h-3.4z" fill="rgb(130,227,34)" fill-opacity="0.6"/>
<path d="M579 345h5.4v1h-5.4zM579 351h5.4v1h-5.4zM579 356h5.4v1h-5.4zM579 362h5.4v1h-5.4zM579 367h5.4v1h-5.4zM579 373h5.4v1h-5.4zM579 379h5.4v1h-5.4zM579 384h5.4v1h-5.4zM579 390h5.4v1h-5.4zM579 395h5.4v1h-5.4zM579 401h5.4v1h-5.4z" fill="rgb(104,225,42)" fill-opacity="0.88"/>
<path d="M580 346h3.4v1h-3.4zM580 357h3.4v1h-3.4zM580 368h3.4v1h-3.4zM580 374h3.4v1h-3.4zM580 385h3.4v1h-3.4zM580 396h3.4v1h-3.4z" fill="rgb(104,225,42)" fill-opacity="0.6"/>
<path d="M605 359h5.4v1h-5.4zM605 365h5.4v1h-5.4zM605 370h5.4v1h-5.4zM605 376h5.4v1h-5.4zM605 381h5.4v1h-5.4zM605 387h5.4v1h-5.4zM605 392h5.4v1h-5.4zM605 398h5.4v1h-5.4zM605 403h5.4v1h-5.4zM605 409h5.4v1h-5.4zM605 414h5.4v1h-5.4z" fill="rgb(86,224,50)" fill-opacity="0.88"/>
<path d="M606 371h3.4v1h-3.4zM606 382h3.4v1h-3.4zM606 393h3.4v1h-3.4zM606 404h3.4v1h-3.4zM606 415h3.4v1h-3.4z" fill="rgb(86,224,50)" fill-opacity="0.6"/>
<path d="M631 373h5.4v1h-5.4zM631 378h5.4v1h-5.4zM631 384h5.4v1h-5.4zM631 389h5.4v1h-5.4zM631 395h5.4v1h-5.4zM631 400h5.4v1h-5.4zM631 406h5.4v1h-5.4zM631 411h5.4v1h-5.4zM631 417h5.4v1h-5.4zM631 423h5.4v1h-5.4zM631 428h5.4v1h-5.4z" fill="rgb(72,223,58)" fill-opacity="0.88"/>
<path d="M632 379h3.4v1h-3.4zM632 390h3.4v1h-3.4zM632 401h3.4v1h-3.4zM632 412h3.4v1h-3.4zM632 418h3.4v1h-3.4zM632 429h3.4v1h-3.4z" fill="rgb(72,223,58)" fill-opacity="0.6"/>
<path d="M656 386h5.4v1h-5.4zM656 392h5.4v1h-5.4zM656 397h5.4v1h-5.4zM656 403h5.4v1h-5.4zM656 409h5.4v1h-5.4zM656 414h5.4v1h-5.4zM656 420h5.4v1h-5.4zM656 425h5.4v1h-5.4zM656 431h5.4v1h-5.4zM656 436h5.4v1h-5.4zM656 442h5.4v1h-5.4z" fill="rgb(60,221,66)" fill-opacity="0.88"/>
<path d="M657 387h3.4v1h-3.4zM657 398h3.4v1h-3.4zM657 415h3.4v1h-3.4zM657 426h3.4v1h-3.4zM657 437h3.4v1h-3.4z" fill="rgb(60,221,66)" fill-opacity="0.6"/>
<path d="M682 400h5.4v1h-5.4zM682 406h5.4v1h-5.4zM682 411h5.4v1h-5.4zM682 417h5.4v1h-5.4zM682 422h5.4v1h-5.4zM682 428h5.4v1h-5.4zM682 433h5.4v1h-5.4zM682 439h5.4v1h-5.4zM682 444h5.4v1h-5.4zM682 450h5.4v1h-5.4zM682 456h5.4v1h-5.4z" fill="rgb(50,220,74)" fill-opacity="0.88"/>
<path d="M683 401h3.4v1h-3.4zM683 412h3.4v1h-3.4zM683 423h3.4v1h-3.4zM683 434h3.4v1h-3.4zM683 445h3.4v1h-3.4z" fill="rgb(50,220,74)" fill-opacity="0.6"/>
<path d="M708 414h5.4v1h-5.4zM708 419h5.4v1h-5.4zM708 425h5.4v1h-5.4zM708 430h5.4v1h-5.4zM708 436h5.4v1h-5.4zM708 441h5.4v1h-5.4zM708 447h5.4v1h-5.4zM708 453h5.4v1h-5.4zM708 458h5.4v1h-5.4zM708 464h5.4v1h-5.4zM708 469h5.4v1h-5.4z" fill="rgb(42,219,82)" fill-opacity="0.88"/>
<path d="M709 420h3.4v1h-3.4zM709 431h3.4v1h-3.4zM709 442h3.4v1h-3.4zM709 459h3.4v1h-3.4zM709 470h3.4v1h-3.4z" fill="rgb(42,219,82)" fill-opacity="0.6"/>
<path d="M733 427h5.4v1h-5.4zM733 433h5.4v1h-5.4zM733 438h5.4v1h-5.4zM733 444h5.4v1h-5.4zM733 450h5.4v1h-5.4zM733 455h5.4v1h-5.4zM733 461h5.4v1h-5.4zM733 466h5.4v1h-5.4zM733 472h5.4v1h-5.4zM733 477h5.4v1h-5.4zM733 483h5.4v1h-5.4z" fill="rgb(35,217,90)" fill-opacity="0.88"/>
<path d="M734 428h3.4v1h-3.4zM734 439h3.4v1h-3.4zM734 445h3.4v1h-3.4zM734 456h3.4v1h-3.4zM734 467h3.4v1h-3.4zM734 478h3.4v1h-3.4z" fill="rgb(35,217,90)" fill-opacity="0.6"/>
<path d="M759 441h5.4v1h-5.4zM759 447h5.4v1h-5.4zM759 452h5.4v1h-5.4zM759 458h5.4v1h-5.4zM759 463h5.4v1h-5.4zM759 469h5.4v1h-5.4zM759 474h5.4v1h-5.4zM759 480h5.4v1h-5.4zM759 485h5.4v1h-5.4zM759 491h5.4v1h-5.4zM759 497h5.4v1h-5.4z" fill="rgb(29,216,98)" fill-opacity="0.88"/>
<path d="M760 442h3.4v1h-3.4zM760 453h3.4v1h-3.4zM760 464h3.4v1h-3.4zM760 475h3.4v1h-3.4zM760 486h3.4v1h-3.4z" fill="rgb(29,216,98)" fill-opacity="0.6"/>
<path d="M785 455h5.4v1h-5.4zM785 460h5.4v1h-5.4zM785 466h5.4v1h-5.4zM785 471h5.4v1h-5.4zM785 477h5.4v1h-5.4zM785 482h5.4v1h-5.4zM785 488h5.4v1h-5.4zM785 494h5.4v1h-5.4zM785 499h5.4v1h-5.4zM785 505h5.4v1h-5.4zM785 510h5.4v1h-5.4z" fill="rgb(22,215,108)" fill-opacity="0.88"/>
<path d="M786 461h3.4v1h-3.4zM786 472h3.4v1h-3.4zM786 483h3.4v1h-3.4zM786 489h3.4v1h-3.4zM786 500h3.4v1h-3.4zM786 511h3.4v1h-3.4z" fill="rgb(22,215,108)" fill-opacity="0.6"/>
<path d="M604 323h5.4v1h-5.4zM604 328h5.4v1h-5.4zM604 334h5.4v1h-5.4zM604 339h5.4v1h-5.4zM604 345h5.4v1h-5.4zM604 350h5.4v1h-5.4zM604 356h5.4v1h-5.4zM604 362h5.4v1h-5.4zM604 367h5.4v1h-5.4zM604 373h5.4v1h-5.4zM604 378h5.4v1h-5.4z" fill="rgb(129,227,35)" fill-opacity="0.88"/>
<path d="M605 329h3.4v1h-3.4zM605 340h3.4v1h-3.4zM605 351h3.4v1h-3.4zM605 357h3.4v1h-3.4zM605 368h3.4v1h-3.4zM605 379h3.4v1h-3.4z" fill="rgb(129,227,35)" fill-opacity="0.6"/>
<path d="M629 336h5.4v1h-5.4zM629 342h5.4v1h-5.4zM629 347h5.4v1h-5.4zM629 353h5.4v1h-5.4zM629 359h5.4v1h-5.4zM629 364h5.4v1h-5.4zM629 370h5.4v1h-5.4zM629 375h5.4v1h-5.4zM629 381h5.4v1h-5.4zM629 386h5.4v1h-5.4zM629 392h5.4v1h-5.4z" fill="rgb(103,225,43)" fill-opacity="0.88"/>
<path d="M630 337h3.4v1h-3.4zM630 348h3.4v1h-3.4zM630 354h3.4v1h-3.4zM630 365h3.4v1h-3.4zM630 376h3.4v1h-3.4zM630 387h3.4v1h-3.4z" fill="rgb(103,225,43)" fill-opacity="0.6"/>
<path d="M655 350h5.4v1h-5.4zM655 356h5.4v1h-5.4zM655 361h5.4v1h-5.4zM655 367h5.4v1h-5.4zM655 372h5.4v1h-5.4zM655 378h5.4v1h-5.4zM655 383h5.4v1h-5.4zM655 389h5.4v1h-5.4zM655 394h5.4v1h-5.4zM655 400h5.4v1h-5.4zM655 406h5.4v1h-5.4z" fill="rgb(85,224,51)" fill-opacity="0.88"/>
<path d="M656 351h3.4v1h-3.4zM656 362h3.4v1h-3.4zM656 373h3.4v1h-3.4zM656 384h3.4v1h-3.4zM656 395h3.4v1h-3.4zM656 401h3.4v1h-3.4z" fill="rgb(85,224,51)" fill-opacity="0.6"/>
<path d="M681 364h5.4v1h-5.4zM681 369h5.4v1h-5.4zM681 375h5.4v1h-5.4zM681 380h5.4v1h-5.4zM681 386h5.4v1h-5.4zM681 391h5.4v1h-5.4zM681 397h5.4v1h-5.4zM681 403h5.4v1h-5.4zM681 408h5.4v1h-5.4zM681 414h5.4v1h-5.4zM681 419h5.4v1h-5.4z" fill="rgb(71,223,59)" fill-opacity="0.88"/>
<path d="M682 370h3.4v1h-3.4zM682 381h3.4v1h-3.4zM682 392h3.4v1h-3.4zM682 398h3.4v1h-3.4zM682 409h3.4v1h-3.4zM682 420h3.4v1h-3.4z" fill="rgb(71,223,59)" fill-opacity="0.6"/>
<path d="M706 377h5.4v1h-5.4zM706 383h5.4v1h-5.4zM706 389h5.4v1h-5.4zM706 394h5.4v1h-5.4zM706 400h5.4v1h-5.4zM706 405h5.4v1h-5.4zM706 411h5.4v1h-5.4zM706 416h5.4v1h-5.4zM706 422h5.4v1h-5.4zM706 427h5.4v1h-5.4zM706 433h5.4v1h-5.4z" fill="rgb(59,221,67)" fill-opacity="0.88"/>
<path d="M707 378h3.4v1h-3.4zM707 395h3.4v1h-3.4zM707 406h3.4v1h-3.4zM707 417h3.4v1h-3.4zM707 428h3.4v1h-3.4z" fill="rgb(59,221,67)" fill-opacity="0.6"/>
<path d="M732 391h5.4v1h-5.4zM732 397h5.4v1h-5.4zM732 402h5.4v1h-5.4zM732 408h5.4v1h-5.4zM732 413h5.4v1h-5.4zM732 419h5.4v1h-5.4zM732 424h5.4v1h-5.4zM732 430h5.4v1h-5.4zM732 436h5.4v1h-5.4zM732 441h5.4v1h-5.4zM732 447h5.4v1h-5.4z" fill="rgb(49,220,75)" fill-opacity="0.88"/>
<path d="M733 392h3.4v1h-3.4zM733 403h3.4v1h-3.4zM733 414h3.4v1h-3.4zM733 425h3.4v1h-3.4zM733 442h3.4v1h-3.4z" fill="rgb(49,220,75)" fill-opacity="0.6"/>
<path d="M758 405h5.4v1h-5.4zM758 410h5.4v1h-5.4zM758 416h5.4v1h-5.4zM758 421h5.4v1h-5.4zM758 427h5.4v1h-5.4zM758 433h5.4v1h-5.4zM758 438h5.4v1h-5.4zM758 444h5.4v1h-5.4zM758 449h5.4v1h-5.4zM758 455h5.4v1h-5.4zM758 460h5.4v1h-5.4z" fill="rgb(41,219,83)" fill-opacity="0.88"/>
<path d="M759 411h3.4v1h-3.4zM759 422h3.4v1h-3.4zM759 439h3.4v1h-3.4zM759 450h3.4v1h-3.4zM759 461h3.4v1h-3.4z" fill="rgb(41,219,83)" fill-opacity="0.6"/>
<path d="M783 418h5.4v1h-5.4zM783 424h5.4v1h-5.4zM783 430h5.4v1h-5.4zM783 435h5.4v1h-5.4zM783 441h5.4v1h-5.4zM783 446h5.4v1h-5.4zM783 452h5.4v1h-5.4zM783 457h5.4v1h-5.4zM783 463h5.4v1h-5.4zM783 468h5.4v1h-5.4zM783 474h5.4v1h-5.4z" fill="rgb(34,217,91)" fill-opacity="0.88"/>
<path d="M784 419h3.4v1h-3.4zM784 425h3.4v1h-3.4zM784 436h3.4v1h-3.4zM784 447h3.4v1h-3.4zM784 458h3.4v1h-3.4zM784 469h3.4v1h-3.4z" fill="rgb(34,217,91)" fill-opacity="0.6"/>
<path d="M809 432h5.4v1h-5.4zM809 438h5.4v1h-5.4zM809 443h5.4v1h-5.4zM809 449h5.4v1h-5.4zM809 454h5.4v1h-5.4zM809 460h5.4v1h-5.4zM809 465h5.4v1h-5.4zM809 471h5.4v1h-5.4zM809 477h5.4v1h-5.4zM809 482h5.4v1h-5.4zM809 488h5.4v1h-5.4z" fill="rgb(28,216,99)" fill-opacity="0.88"/>
<path d="M810 433h3.4v1h-3.4zM810 444h3.4v1h-3.4zM810 455h3.4v1h-3.4zM810 466h3.4v1h-3.4zM810 483h3.4v1h-3.4z" fill="rgb(28,216,99)" fill-opacity="0.6"/>
<path d="M835 446h5.4v1h-5.4zM835 451h5.4v1h-5.4zM835 457h5.4v1h-5.4zM835 462h5.4v1h-5.4zM835 468h5.4v1h-5.4zM835 474h5.4v1h-5.4zM835 479h5.4v1h-5.4zM835 485h5.4v1h-5.4zM835 490h5.4v1h-5.4zM835 496h5.4v1h-5.4zM835 501h5.4v1h-5.4z" fill="rgb(21,215,109)" fill-opacity="0.88"/>
<path d="M836 452h3.4v1h-3.4zM836 463h3.4v1h-3.4zM836 469h3.4v1h-3.4zM836 480h3.4v1h-3.4zM836 491h3.4v1h-3.4zM836 502h3.4v1h-3.4z" fill="rgb(21,215,109)" fill-opacity="0.6"/>
<defs><linearGradient id="gv" x1="0" y1="1" x2="0" y2="0"><stop offset="0" stop-color="rgb(0,0,0)"/><stop offset="0.03" stop-color="rgb(20,0,30)"/><stop offset="0.07" stop-color="rgb(45,0,70)"/><stop offset="0.1" stop-color="rgb(70,0,115)"/><stop offset="0.13" stop-color="rgb(85,0,165)"/><stop offset="0.17" stop-color="rgb(75,0,215)"/><stop offset="0.2" stop-color="rgb(40,0,245)"/><stop offset="0.23" stop-color="rgb(0,0,255)"/><stop offset="0.27" stop-color="rgb(0,45,255)"/><stop offset="0.3" stop-color="rgb(0,90,255)"/><stop offset="0.33" stop-color="rgb(0,135,255)"/><stop offset="0.37" stop-color="rgb(0,185,255)"/><stop offset="0.4" stop-color="rgb(0,235,255)"/><stop offset="0.43" stop-color="rgb(0,255,215)"/><stop offset="0.47" stop-color="rgb(0,255,165)"/><stop offset="0.5" stop-color="rgb(0,255,110)"/><stop offset="0.53" stop-color="rgb(0,255,50)"/><stop offset="0.57" stop-color="rgb(0,255,0)"/><stop offset="0.6" stop-color="rgb(30,255,0)"/><stop offset="0.63" stop-color="rgb(75,255,0)"/><stop offset="0.67" stop-color="rgb(120,255,0)"/><stop offset="0.7" stop-color="rgb(170,255,0)"/><stop offset="0.73" stop-color="rgb(225,255,0)"/><stop offset="0.77" stop-color="rgb(255,235,0)"/><stop offset="0.8" stop-color="rgb(255,195,0)"/><stop offset="0.83" stop-color="rgb(255,150,0)"/><stop offset="0.87" stop-color="rgb(255,100,0)"/><stop offset="0.9" stop-color="rgb(255,50,0)"/><stop offset="0.93" stop-color="rgb(255,0,0)"/><stop offset="1" stop-color="rgb(255,0,0)"/></linearGradient><linearGradient id="gh" x1="0" y1="0" x2="1" y2="0"><stop offset="0" stop-color="rgb(0,0,0)"/><stop offset="0.03" stop-color="rgb(20,0,30)"/><stop offset="0.07" stop-color="rgb(45,0,70)"/><stop offset="0.1" stop-color="rgb(70,0,115)"/><stop offset="0.13" stop-color="rgb(85,0,165)"/><stop offset="0.17" stop-color="rgb(75,0,215)"/><stop offset="0.2" stop-color="rgb(40,0,245)"/><stop offset="0.23" stop-color="rgb(0,0,255)"/><stop offset="0.27" stop-color="rgb(0,45,255)"/><stop offset="0.3" stop-color="rgb(0,90,255)"/><stop offset="0.33" stop-color="rgb(0,135,255)"/><stop offset="0.37" stop-color="rgb(0,185,255)"/><stop offset="0.4" stop-color="rgb(0,235,255)"/><stop offset="0.43" stop-color="rgb(0,255,215)"/><stop offset="0.47" stop-color="rgb(0,255,165)"/><stop offset="0.5" stop-color="rgb(0,255,110)"/><stop offset="0.53" stop-color="rgb(0,255,50)"/><stop offset="0.57" stop-color="rgb(0,255,0)"/><stop offset="0.6" stop-color="rgb(30,255,0)"/><stop offset="0.63" stop-color="rgb(75,255,0)"/><stop offset="0.67" stop-color="rgb(120,255,0)"/><stop offset="0.7" stop-color="rgb(170,255,0)"/><stop offset="0.73" stop-color="rgb(225,255,0)"/><stop offset="0.77" stop-color="rgb(255,235,0)"/><stop offset="0.8" stop-color="rgb(255,195,0)"/><stop offset="0.83" stop-color="rgb(255,150,0)"/><stop offset="0.87" stop-color="rgb(255,100,0)"/><stop offset="0.9" stop-color="rgb(255,50,0)"/><stop offset="0.93" stop-color="rgb(255,0,0)"/><stop offset="1" stop-color="rgb(255,0,0)"/></linearGradient></defs>
<rect x="900.5" y="349.5" width="10.0" height="530.0" fill="url(#gv)" stroke="#000" stroke-width="1" shape-rendering="crispEdges"/>
<g shape-rendering="crispEdges">
<line x1="900.5" y1="861.5" x2="902.5" y2="861.5" stroke="#000" stroke-width="1"/>
<line x1="910.5" y1="861.5" x2="908.5" y2="861.5" stroke="#000" stroke-width="1"/>
<line x1="900.5" y1="844.5" x2="902.5" y2="844.5" stroke="#000" stroke-width="1"/>
<line x1="910.5" y1="844.5" x2="908.5" y2="844.5" stroke="#000" stroke-width="1"/>
<line x1="900.5" y1="826.5" x2="902.5" y2="826.5" stroke="#000" stroke-width="1"/>
<line x1="910.5" y1="826.5" x2="908.5" y2="826.5" stroke="#000" stroke-width="1"/>
<line x1="900.5" y1="808.5" x2="902.5" y2="808.5" stroke="#000" stroke-width="1"/>
<line x1="910.5" y1="808.5" x2="908.5" y2="808.5" stroke="#000" stroke-width="1"/>
<line x1="900.5" y1="791.5" x2="902.5" y2="791.5" stroke="#000" stroke-width="1"/>
<line x1="910.5" y1="791.5" x2="908.5" y2="791.5" stroke="#000" stroke-width="1"/>
<line x1="900.5" y1="773.5" x2="902.5" y2="773.5" stroke="#000" stroke-width="1"/>
<line x1="910.5" y1="773.5" x2="908.5" y2="773.5" stroke="#000" stroke-width="1"/>
<line x1="900.5" y1="755.5" x2="902.5" y2="755.5" stroke="#000" stroke-width="1"/>
<line x1="910.5" y1="755.5" x2="908.5" y2="755.5" stroke="#000" stroke-width="1"/>
<line x1="900.5" y1="738.5" x2="902.5" y2="738.5" stroke="#000" stroke-width="1"/>
<line x1="910.5" y1="738.5" x2="908.5" y2="738.5" stroke="#000" stroke-width="1"/>
<line x1="900.5" y1="720.5" x2="902.5" y2="720.5" stroke="#000" stroke-width="1"/>
<line x1="910.5" y1="720.5" x2="908.5" y2="720.5" stroke="#000" stroke-width="1"/>
<line x1="900.5" y1="702.5" x2="902.5" y2="702.5" stroke="#000" stroke-width="1"/>
<line x1="910.5" y1="702.5" x2="908.5" y2="702.5" stroke="#000" stroke-width="1"/>
<line x1="900.5" y1="685.5" x2="902.5" y2="685.5" stroke="#000" stroke-width="1"/>
<line x1="910.5" y1="685.5" x2="908.5" y2="685.5" stroke="#000" stroke-width="1"/>
<line x1="900.5" y1="667.5" x2="902.5" y2="667.5" stroke="#000" stroke-width="1"/>
<line x1="910.5" y1="667.5" x2="908.5" y2="667.5" stroke="#000" stroke-width="1"/>
<line x1="900.5" y1="649.5" x2="902.5" y2="649.5" stroke="#000" stroke-width="1"/>
<line x1="910.5" y1="649.5" x2="908.5" y2="649.5" stroke="#000" stroke-width="1"/>
<line x1="900.5" y1="632.5" x2="902.5" y2="632.5" stroke="#000" stroke-width="1"/>
<line x1="910.5" y1="632.5" x2="908.5" y2="632.5" stroke="#000" stroke-width="1"/>
<line x1="900.5" y1="614.5" x2="902.5" y2="614.5" stroke="#000" stroke-width="1"/>
<line x1="910.5" y1="614.5" x2="908.5" y2="614.5" stroke="#000" stroke-width="1"/>
<line x1="900.5" y1="596.5" x2="902.5" y2="596.5" stroke="#000" stroke-width="1"/>
<line x1="910.5" y1="596.5" x2="908.5" y2="596.5" stroke="#000" stroke-width="1"/>
<line x1="900.5" y1="579.5" x2="902.5" y2="579.5" stroke="#000" stroke-width="1"/>
<line x1="910.5" y1="579.5" x2="908.5" y2="579.5" stroke="#000" stroke-width="1"/>
<line x1="900.5" y1="561.5" x2="902.5" y2="561.5" stroke="#000" stroke-width="1"/>
<line x1="910.5" y1="561.5" x2="908.5" y2="561.5" stroke="#000" stroke-width="1"/>
<line x1="900.5" y1="543.5" x2="902.5" y2="543.5" stroke="#000" stroke-width="1"/>
<line x1="910.5" y1="543.5" x2="908.5" y2="543.5" stroke="#000" stroke-width="1"/>
<line x1="900.5" y1="526.5" x2="902.5" y2="526.5" stroke="#000" stroke-width="1"/>
<line x1="910.5" y1="526.5" x2="908.5" y2="526.5" stroke="#000" stroke-width="1"/>
<line x1="900.5" y1="508.5" x2="902.5" y2="508.5" stroke="#000" stroke-width="1"/>
<line x1="910.5" y1="508.5" x2="908.5" y2="508.5" stroke="#000" stroke-width="1"/>
<line x1="900.5" y1="490.5" x2="902.5" y2="490.5" stroke="#000" stroke-width="1"/>
<line x1="910.5" y1="490.5" x2="908.5" y2="490.5" stroke="#000" stroke-width="1"/>
<line x1="900.5" y1="473.5" x2="902.5" y2="473.5" stroke="#000" stroke-width="1"/>
<line x1="910.5" y1="473.5" x2="908.5" y2="473.5" stroke="#000" stroke-width="1"/>
<line x1="900.5" y1="455.5" x2="902.5" y2="455.5" stroke="#000" stroke-width="1"/>
<line x1="910.5" y1="455.5" x2="908.5" y2="455.5" stroke="#000" stroke-width="1"/>
<line x1="900.5" y1="437.5" x2="902.5" y2="437.5" stroke="#000" stroke-width="1"/>
<line x1="910.5" y1="437.5" x2="908.5" y2="437.5" stroke="#000" stroke-width="1"/>
<line x1="900.5" y1="420.5" x2="902.5" y2="420.5" stroke="#000" stroke-width="1"/>
<line x1="910.5" y1="420.5" x2="908.5" y2="420.5" stroke="#000" stroke-width="1"/>
<line x1="900.5" y1="402.5" x2="902.5" y2="402.5" stroke="#000" stroke-width="1"/>
<line x1="910.5" y1="402.5" x2="908.5" y2="402.5" stroke="#000" stroke-width="1"/>
<line x1="900.5" y1="384.5" x2="902.5" y2="384.5" stroke="#000" stroke-width="1"/>
<line x1="910.5" y1="384.5" x2="908.5" y2="384.5" stroke="#000" stroke-width="1"/>
<line x1="900.5" y1="367.5" x2="902.5" y2="367.5" stroke="#000" stroke-width="1"/>
<line x1="910.5" y1="367.5" x2="908.5" y2="367.5" stroke="#000" stroke-width="1"/>
</g>
<path d="M918.54 869.34L917.16 869.8L916.24 871.18L915.78 873.48L915.78 874.86L916.24 877.16L917.16 878.54L918.54 879L919.46 879L920.84 878.54L921.76 877.16L922.22 874.86L922.22 873.48L921.76 871.18L920.84 869.8L919.46 869.34L918.54 869.34M925.9 878.08L925.44 878.54L925.9 879L926.36 878.54L925.9 878.08M932.34 869.34L930.96 869.8L930.04 871.18L929.58 873.48L929.58 874.86L930.04 877.16L930.96 878.54L932.34 879L933.26 879L934.64 878.54L935.56 877.16L936.02 874.86L936.02 873.48L935.56 871.18L934.64 869.8L933.26 869.34L932.34 869.34" fill="none" stroke="#000" stroke-width="1.0" stroke-linecap="square" stroke-linejoin="round" shape-rendering="crispEdges"/>
<path d="M918.54 857.17L917.16 857.63L916.24 859.01L915.78 861.31L915.78 862.69L916.24 864.99L917.16 866.37L918.54 866.83L919.46 866.83L920.84 866.37L921.76 864.99L922.22 862.69L922.22 861.31L921.76 859.01L920.84 857.63L919.46 857.17L918.54 857.17M925.9 865.91L925.44 866.37L925.9 866.83L926.36 866.37L925.9 865.91M934.18 857.17L929.58 863.61L936.48 863.61M934.18 857.17L934.18 866.83" fill="none" stroke="#000" stroke-width="1.0" stroke-linecap="square" stroke-linejoin="round" shape-rendering="crispEdges"/>
<path d="M918.54 839.51L917.16 839.97L916.24 841.35L915.78 843.65L915.78 845.03L916.24 847.33L917.16 848.71L918.54 849.17L919.46 849.17L920.84 848.71L921.76 847.33L922.22 845.03L922.22 843.65L921.76 841.35L920.84 839.97L919.46 839.51L918.54 839.51M925.9 848.25L925.44 848.71L925.9 849.17L926.36 848.71L925.9 848.25M931.88 839.51L930.5 839.97L930.04 840.89L930.04 841.81L930.5 842.73L931.42 843.19L933.26 843.65L934.64 844.11L935.56 845.03L936.02 845.95L936.02 847.33L935.56 848.25L935.1 848.71L933.72 849.17L931.88 849.17L930.5 848.71L930.04 848.25L929.58 847.33L929.58 845.95L930.04 845.03L930.96 844.11L932.34 843.65L934.18 843.19L935.1 842.73L935.56 841.81L935.56 840.89L935.1 839.97L933.72 839.51L931.88 839.51" fill="none" stroke="#000" stroke-width="1.0" stroke-linecap="square" stroke-linejoin="round" shape-rendering="crispEdges"/>
<path d="M917.16 823.68L918.08 823.22L919.46 821.84L919.46 831.5M925.9 830.58L925.44 831.04L925.9 831.5L926.36 831.04L925.9 830.58M930.04 824.14L930.04 823.68L930.5 822.76L930.96 822.3L931.88 821.84L933.72 821.84L934.64 822.3L935.1 822.76L935.56 823.68L935.56 824.6L935.1 825.52L934.18 826.9L929.58 831.5L936.02 831.5" fill="none" stroke="#000" stroke-width="1.0" stroke-linecap="square" stroke-linejoin="round" shape-rendering="crispEdges"/>
<path d="M917.16 806.01L918.08 805.55L919.46 804.17L919.46 813.83M925.9 812.91L925.44 813.37L925.9 813.83L926.36 813.37L925.9 812.91M935.56 805.55L935.1 804.63L933.72 804.17L932.8 804.17L931.42 804.63L930.5 806.01L930.04 808.31L930.04 810.61L930.5 812.45L931.42 813.37L932.8 813.83L933.26 813.83L934.64 813.37L935.56 812.45L936.02 811.07L936.02 810.61L935.56 809.23L934.64 808.31L933.26 807.85L932.8 807.85L931.42 808.31L930.5 809.23L930.04 810.61" fill="none" stroke="#000" stroke-width="1.0" stroke-linecap="square" stroke-linejoin="round" shape-rendering="crispEdges"/>
<path d="M916.24 788.81L916.24 788.35L916.7 787.43L917.16 786.97L918.08 786.51L919.92 786.51L920.84 786.97L921.3 787.43L921.76 788.35L921.76 789.27L921.3 790.19L920.38 791.57L915.78 796.17L922.22 796.17M925.9 795.25L925.44 795.71L925.9 796.17L926.36 795.71L925.9 795.25M932.34 786.51L930.96 786.97L930.04 788.35L929.58 790.65L929.58 792.03L930.04 794.33L930.96 795.71L932.34 796.17L933.26 796.17L934.64 795.71L935.56 794.33L936.02 792.03L936.02 790.65L935.56 788.35L934.64 786.97L933.26 786.51L932.34 786.51" fill="none" stroke="#000" stroke-width="1.0" stroke-linecap="square" stroke-linejoin="round" shape-rendering="crispEdges"/>
<path d="M916.24 771.14L916.24 770.68L916.7 769.76L917.16 769.3L918.08 768.84L919.92 768.84L920.84 769.3L921.3 769.76L921.76 770.68L921.76 771.6L921.3 772.52L920.38 773.9L915.78 778.5L922.22 778.5M925.9 777.58L925.44 778.04L925.9 778.5L926.36 778.04L925.9 777.58M934.18 768.84L929.58 775.28L936.48 775.28M934.18 768.84L934.18 778.5" fill="none" stroke="#000" stroke-width="1.0" stroke-linecap="square" stroke-linejoin="round" shape-rendering="crispEdges"/>
<path d="M916.24 753.47L916.24 753.01L916.7 752.09L917.16 751.63L918.08 751.17L919.92 751.17L920.84 751.63L921.3 752.09L921.76 753.01L921.76 753.93L921.3 754.85L920.38 756.23L915.78 760.83L922.22 760.83M925.9 759.91L925.44 760.37L925.9 760.83L926.36 760.37L925.9 759.91M931.88 751.17L930.5 751.63L930.04 752.55L930.04 753.47L930.5 754.39L931.42 754.85L933.26 755.31L934.64 755.77L935.56 756.69L936.02 757.61L936.02 758.99L935.56 759.91L935.1 760.37L933.72 760.83L931.88 760.83L930.5 760.37L930.04 759.91L929.58 758.99L929.58 757.61L930.04 756.69L930.96 755.77L932.34 755.31L934.18 754.85L935.1 754.39L935.56 753.47L935.56 752.55L935.1 751.63L933.72 751.17L931.88 751.17" fill="none" stroke="#000" stroke-width="1.0" stroke-linecap="square" stroke-linejoin="round" shape-rendering="crispEdges"/>
<path d="M916.7 733.51L921.76 733.51L919 737.19L920.38 737.19L921.3 737.65L921.76 738.11L922.22 739.49L922.22 740.41L921.76 741.79L920.84 742.71L919.46 743.17L918.08 743.17L916.7 742.71L916.24 742.25L915.78 741.33M925.9 742.25L925.44 742.71L925.9 743.17L926.36 742.71L925.9 742.25M930.04 735.81L930.04 735.35L930.5 734.43L930.96 733.97L931.88 733.51L933.72 733.51L934.64 733.97L935.1 734.43L935.56 735.35L935.56 736.27L935.1 737.19L934.18 738.57L929.58 743.17L936.02 743.17" fill="none" stroke="#000" stroke-width="1.0" stroke-linecap="square" stroke-linejoin="round" shape-rendering="crispEdges"/>
<path d="M916.7 715.84L921.76 715.84L919 719.52L920.38 719.52L921.3 719.98L921.76 720.44L922.22 721.82L922.22 722.74L921.76 724.12L920.84 725.04L919.46 725.5L918.08 725.5L916.7 725.04L916.24 724.58L915.78 723.66M925.9 724.58L925.44 725.04L925.9 725.5L926.36 725.04L925.9 724.58M935.56 717.22L935.1 716.3L933.72 715.84L932.8 715.84L931.42 716.3L930.5 717.68L930.04 719.98L930.04 722.28L930.5 724.12L931.42 725.04L932.8 725.5L933.26 725.5L934.64 725.04L935.56 724.12L936.02 722.74L936.02 722.28L935.56 720.9L934.64 719.98L933.26 719.52L932.8 719.52L931.42 719.98L930.5 720.9L930.04 722.28" fill="none" stroke="#000" stroke-width="1.0" stroke-linecap="square" stroke-linejoin="round" shape-rendering="crispEdges"/>
<path d="M920.38 698.17L915.78 704.61L922.68 704.61M920.38 698.17L920.38 707.83M925.9 706.91L925.44 707.37L925.9 707.83L926.36 707.37L925.9 706.91M932.34 698.17L930.96 698.63L930.04 700.01L929.58 702.31L929.58 703.69L930.04 705.99L930.96 707.37L932.34 707.83L933.26 707.83L934.64 707.37L935.56 705.99L936.02 703.69L936.02 702.31L935.56 700.01L934.64 698.63L933.26 698.17L932.34 698.17" fill="none" stroke="#000" stroke-width="1.0" stroke-linecap="square" stroke-linejoin="round" shape-rendering="crispEdges"/>
<path d="M920.38 680.51L915.78 686.95L922.68 686.95M920.38 680.51L920.38 690.17M925.9 689.25L925.44 689.71L925.9 690.17L926.36 689.71L925.9 689.25M934.18 680.51L929.58 686.95L936.48 686.95M934.18 680.51L934.18 690.17" fill="none" stroke="#000" stroke-width="1.0" stroke-linecap="square" stroke-linejoin="round" shape-rendering="crispEdges"/>
<path d="M920.38 662.84L915.78 669.28L922.68 669.28M920.38 662.84L920.38 672.5M925.9 671.58L925.44 672.04L925.9 672.5L926.36 672.04L925.9 671.58M931.88 662.84L930.5 663.3L930.04 664.22L930.04 665.14L930.5 666.06L931.42 666.52L933.26 666.98L934.64 667.44L935.56 668.36L936.02 669.28L936.02 670.66L935.56 671.58L935.1 672.04L933.72 672.5L931.88 672.5L930.5 672.04L930.04 671.58L929.58 670.66L929.58 669.28L930.04 668.36L930.96 667.44L932.34 666.98L934.18 666.52L935.1 666.06L935.56 665.14L935.56 664.22L935.1 663.3L933.72 662.84L931.88 662.84" fill="none" stroke="#000" stroke-width="1.0" stroke-linecap="square" stroke-linejoin="round" shape-rendering="crispEdges"/>
<path d="M921.3 645.17L916.7 645.17L916.24 649.31L916.7 648.85L918.08 648.39L919.46 648.39L920.84 648.85L921.76 649.77L922.22 651.15L922.22 652.07L921.76 653.45L920.84 654.37L919.46 654.83L918.08 654.83L916.7 654.37L916.24 653.91L915.78 652.99M925.9 653.91L925.44 654.37L925.9 654.83L926.36 654.37L925.9 653.91M930.04 647.47L930.04 647.01L930.5 646.09L930.96 645.63L931.88 645.17L933.72 645.17L934.64 645.63L935.1 646.09L935.56 647.01L935.56 647.93L935.1 648.85L934.18 650.23L929.58 654.83L936.02 654.83" fill="none" stroke="#000" stroke-width="1.0" stroke-linecap="square" stroke-linejoin="round" shape-rendering="crispEdges"/>
<path d="M921.3 627.51L916.7 627.51L916.24 631.65L916.7 631.19L918.08 630.73L919.46 630.73L920.84 631.19L921.76 632.11L922.22 633.49L922.22 634.41L921.76 635.79L920.84 636.71L919.46 637.17L918.08 637.17L916.7 636.71L916.24 636.25L915.78 635.33M925.9 636.25L925.44 636.71L925.9 637.17L926.36 636.71L925.9 636.25M935.56 628.89L935.1 627.97L933.72 627.51L932.8 627.51L931.42 627.97L930.5 629.35L930.04 631.65L930.04 633.95L930.5 635.79L931.42 636.71L932.8 637.17L933.26 637.17L934.64 636.71L935.56 635.79L936.02 634.41L936.02 633.95L935.56 632.57L934.64 631.65L933.26 631.19L932.8 631.19L931.42 631.65L930.5 632.57L930.04 633.95" fill="none" stroke="#000" stroke-width="1.0" stroke-linecap="square" stroke-linejoin="round" shape-rendering="crispEdges"/>
<path d="M921.76 611.22L921.3 610.3L919.92 609.84L919 609.84L917.62 610.3L916.7 611.68L916.24 613.98L916.24 616.28L916.7 618.12L917.62 619.04L919 619.5L919.46 619.5L920.84 619.04L921.76 618.12L922.22 616.74L922.22 616.28L921.76 614.9L920.84 613.98L919.46 613.52L919 613.52L917.62 613.98L916.7 614.9L916.24 616.28M925.9 618.58L925.44 619.04L925.9 619.5L926.36 619.04L925.9 618.58M932.34 609.84L930.96 610.3L930.04 611.68L929.58 613.98L929.58 615.36L930.04 617.66L930.96 619.04L932.34 619.5L933.26 619.5L934.64 619.04L935.56 617.66L936.02 615.36L936.02 613.98L935.56 611.68L934.64 610.3L933.26 609.84L932.34 609.84" fill="none" stroke="#000" stroke-width="1.0" stroke-linecap="square" stroke-linejoin="round" shape-rendering="crispEdges"/>
<path d="M921.76 593.55L921.3 592.63L919.92 592.17L919 592.17L917.62 592.63L916.7 594.01L916.24 596.31L916.24 598.61L916.7 600.45L917.62 601.37L919 601.83L919.46 601.83L920.84 601.37L921.76 600.45L922.22 599.07L922.22 598.61L921.76 597.23L920.84 596.31L919.46 595.85L919 595.85L917.62 596.31L916.7 597.23L916.24 598.61M925.9 600.91L925.44 601.37L925.9 601.83L926.36 601.37L925.9 600.91M934.18 592.17L929.58 598.61L936.48 598.61M934.18 592.17L934.18 601.83" fill="none" stroke="#000" stroke-width="1.0" stroke-linecap="square" stroke-linejoin="round" shape-rendering="crispEdges"/>
<path d="M921.76 575.89L921.3 574.97L919.92 574.51L919 574.51L917.62 574.97L916.7 576.35L916.24 578.65L916.24 580.95L916.7 582.79L917.62 583.71L919 584.17L919.46 584.17L920.84 583.71L921.76 582.79L922.22 581.41L922.22 580.95L921.76 579.57L920.84 578.65L919.46 578.19L919 578.19L917.62 578.65L916.7 579.57L916.24 580.95M925.9 583.25L925.44 583.71L925.9 584.17L926.36 583.71L925.9 583.25M931.88 574.51L930.5 574.97L930.04 575.89L930.04 576.81L930.5 577.73L931.42 578.19L933.26 578.65L934.64 579.11L935.56 580.03L936.02 580.95L936.02 582.33L935.56 583.25L935.1 583.71L933.72 584.17L931.88 584.17L930.5 583.71L930.04 583.25L929.58 582.33L929.58 580.95L930.04 580.03L930.96 579.11L932.34 578.65L934.18 578.19L935.1 577.73L935.56 576.81L935.56 575.89L935.1 574.97L933.72 574.51L931.88 574.51" fill="none" stroke="#000" stroke-width="1.0" stroke-linecap="square" stroke-linejoin="round" shape-rendering="crispEdges"/>
<path d="M922.22 556.84L917.62 566.5M915.78 556.84L922.22 556.84M925.9 565.58L925.44 566.04L925.9 566.5L926.36 566.04L925.9 565.58M930.04 559.14L930.04 558.68L930.5 557.76L930.96 557.3L931.88 556.84L933.72 556.84L934.64 557.3L935.1 557.76L935.56 558.68L935.56 559.6L935.1 560.52L934.18 561.9L929.58 566.5L936.02 566.5" fill="none" stroke="#000" stroke-width="1.0" stroke-linecap="square" stroke-linejoin="round" shape-rendering="crispEdges"/>
<path d="M922.22 539.17L917.62 548.83M915.78 539.17L922.22 539.17M925.9 547.91L925.44 548.37L925.9 548.83L926.36 548.37L925.9 547.91M935.56 540.55L935.1 539.63L933.72 539.17L932.8 539.17L931.42 539.63L930.5 541.01L930.04 543.31L930.04 545.61L930.5 547.45L931.42 548.37L932.8 548.83L933.26 548.83L934.64 548.37L935.56 547.45L936.02 546.07L936.02 545.61L935.56 544.23L934.64 543.31L933.26 542.85L932.8 542.85L931.42 543.31L930.5 544.23L930.04 545.61" fill="none" stroke="#000" stroke-width="1.0" stroke-linecap="square" stroke-linejoin="round" shape-rendering="crispEdges"/>
<path d="M918.08 521.51L916.7 521.97L916.24 522.89L916.24 523.81L916.7 524.73L917.62 525.19L919.46 525.65L920.84 526.11L921.76 527.03L922.22 527.95L922.22 529.33L921.76 530.25L921.3 530.71L919.92 531.17L918.08 531.17L916.7 530.71L916.24 530.25L915.78 529.33L915.78 527.95L916.24 527.03L917.16 526.11L918.54 525.65L920.38 525.19L921.3 524.73L921.76 523.81L921.76 522.89L921.3 521.97L919.92 521.51L918.08 521.51M925.9 530.25L925.44 530.71L925.9 531.17L926.36 530.71L925.9 530.25M932.34 521.51L930.96 521.97L930.04 523.35L929.58 525.65L929.58 527.03L930.04 529.33L930.96 530.71L932.34 531.17L933.26 531.17L934.64 530.71L935.56 529.33L936.02 527.03L936.02 525.65L935.56 523.35L934.64 521.97L933.26 521.51L932.34 521.51" fill="none" stroke="#000" stroke-width="1.0" stroke-linecap="square" stroke-linejoin="round" shape-rendering="crispEdges"/>
<path d="M918.08 503.84L916.7 504.3L916.24 505.22L916.24 506.14L916.7 507.06L917.62 507.52L919.46 507.98L920.84 508.44L921.76 509.36L922.22 510.28L922.22 511.66L921.76 512.58L921.3 513.04L919.92 513.5L918.08 513.5L916.7 513.04L916.24 512.58L915.78 511.66L915.78 510.28L916.24 509.36L917.16 508.44L918.54 507.98L920.38 507.52L921.3 507.06L921.76 506.14L921.76 505.22L921.3 504.3L919.92 503.84L918.08 503.84M925.9 512.58L925.44 513.04L925.9 513.5L926.36 513.04L925.9 512.58M934.18 503.84L929.58 510.28L936.48 510.28M934.18 503.84L934.18 513.5" fill="none" stroke="#000" stroke-width="1.0" stroke-linecap="square" stroke-linejoin="round" shape-rendering="crispEdges"/>
<path d="M918.08 486.17L916.7 486.63L916.24 487.55L916.24 488.47L916.7 489.39L917.62 489.85L919.46 490.31L920.84 490.77L921.76 491.69L922.22 492.61L922.22 493.99L921.76 494.91L921.3 495.37L919.92 495.83L918.08 495.83L916.7 495.37L916.24 494.91L915.78 493.99L915.78 492.61L916.24 491.69L917.16 490.77L918.54 490.31L920.38 489.85L921.3 489.39L921.76 488.47L921.76 487.55L921.3 486.63L919.92 486.17L918.08 486.17M925.9 494.91L925.44 495.37L925.9 495.83L926.36 495.37L925.9 494.91M931.88 486.17L930.5 486.63L930.04 487.55L930.04 488.47L930.5 489.39L931.42 489.85L933.26 490.31L934.64 490.77L935.56 491.69L936.02 492.61L936.02 493.99L935.56 494.91L935.1 495.37L933.72 495.83L931.88 495.83L930.5 495.37L930.04 494.91L929.58 493.99L929.58 492.61L930.04 491.69L930.96 490.77L932.34 490.31L934.18 489.85L935.1 489.39L935.56 488.47L935.56 487.55L935.1 486.63L933.72 486.17L931.88 486.17" fill="none" stroke="#000" stroke-width="1.0" stroke-linecap="square" stroke-linejoin="round" shape-rendering="crispEdges"/>
<path d="M921.76 471.73L921.3 473.11L920.38 474.03L919 474.49L918.54 474.49L917.16 474.03L916.24 473.11L915.78 471.73L915.78 471.27L916.24 469.89L917.16 468.97L918.54 468.51L919 468.51L920.38 468.97L921.3 469.89L921.76 471.73L921.76 474.03L921.3 476.33L920.38 477.71L919 478.17L918.08 478.17L916.7 477.71L916.24 476.79M925.9 477.25L925.44 477.71L925.9 478.17L926.36 477.71L925.9 477.25M930.04 470.81L930.04 470.35L930.5 469.43L930.96 468.97L931.88 468.51L933.72 468.51L934.64 468.97L935.1 469.43L935.56 470.35L935.56 471.27L935.1 472.19L934.18 473.57L929.58 478.17L936.02 478.17" fill="none" stroke="#000" stroke-width="1.0" stroke-linecap="square" stroke-linejoin="round" shape-rendering="crispEdges"/>
<path d="M921.76 454.06L921.3 455.44L920.38 456.36L919 456.82L918.54 456.82L917.16 456.36L916.24 455.44L915.78 454.06L915.78 453.6L916.24 452.22L917.16 451.3L918.54 450.84L919 450.84L920.38 451.3L921.3 452.22L921.76 454.06L921.76 456.36L921.3 458.66L920.38 460.04L919 460.5L918.08 460.5L916.7 460.04L916.24 459.12M925.9 459.58L925.44 460.04L925.9 460.5L926.36 460.04L925.9 459.58M935.56 452.22L935.1 451.3L933.72 450.84L932.8 450.84L931.42 451.3L930.5 452.68L930.04 454.98L930.04 457.28L930.5 459.12L931.42 460.04L932.8 460.5L933.26 460.5L934.64 460.04L935.56 459.12L936.02 457.74L936.02 457.28L935.56 455.9L934.64 454.98L933.26 454.52L932.8 454.52L931.42 454.98L930.5 455.9L930.04 457.28" fill="none" stroke="#000" stroke-width="1.0" stroke-linecap="square" stroke-linejoin="round" shape-rendering="crispEdges"/>
<path d="M917.16 435.01L918.08 434.55L919.46 433.17L919.46 442.83M927.74 433.17L926.36 433.63L925.44 435.01L924.98 437.31L924.98 438.69L925.44 440.99L926.36 442.37L927.74 442.83L928.66 442.83L930.04 442.37L930.96 440.99L931.42 438.69L931.42 437.31L930.96 435.01L930.04 433.63L928.66 433.17L927.74 433.17M935.1 441.91L934.64 442.37L935.1 442.83L935.56 442.37L935.1 441.91" fill="none" stroke="#000" stroke-width="1.0" stroke-linecap="square" stroke-linejoin="round" shape-rendering="crispEdges"/>
<path d="M917.16 417.35L918.08 416.89L919.46 415.51L919.46 425.17M927.74 415.51L926.36 415.97L925.44 417.35L924.98 419.65L924.98 421.03L925.44 423.33L926.36 424.71L927.74 425.17L928.66 425.17L930.04 424.71L930.96 423.33L931.42 421.03L931.42 419.65L930.96 417.35L930.04 415.97L928.66 415.51L927.74 415.51M935.1 424.25L934.64 424.71L935.1 425.17L935.56 424.71L935.1 424.25" fill="none" stroke="#000" stroke-width="1.0" stroke-linecap="square" stroke-linejoin="round" shape-rendering="crispEdges"/>
<path d="M917.16 399.68L918.08 399.22L919.46 397.84L919.46 407.5M927.74 397.84L926.36 398.3L925.44 399.68L924.98 401.98L924.98 403.36L925.44 405.66L926.36 407.04L927.74 407.5L928.66 407.5L930.04 407.04L930.96 405.66L931.42 403.36L931.42 401.98L930.96 399.68L930.04 398.3L928.66 397.84L927.74 397.84M935.1 406.58L934.64 407.04L935.1 407.5L935.56 407.04L935.1 406.58" fill="none" stroke="#000" stroke-width="1.0" stroke-linecap="square" stroke-linejoin="round" shape-rendering="crispEdges"/>
<path d="M917.16 382.01L918.08 381.55L919.46 380.17L919.46 389.83M926.36 382.01L927.28 381.55L928.66 380.17L928.66 389.83M935.1 388.91L934.64 389.37L935.1 389.83L935.56 389.37L935.1 388.91" fill="none" stroke="#000" stroke-width="1.0" stroke-linecap="square" stroke-linejoin="round" shape-rendering="crispEdges"/>
<path d="M917.16 364.35L918.08 363.89L919.46 362.51L919.46 372.17M926.36 364.35L927.28 363.89L928.66 362.51L928.66 372.17M935.1 371.25L934.64 371.71L935.1 372.17L935.56 371.71L935.1 371.25" fill="none" stroke="#000" stroke-width="1.0" stroke-linecap="square" stroke-linejoin="round" shape-rendering="crispEdges"/>
<path d="M917.16 351.18L918.08 350.72L919.46 349.34L919.46 359M925.44 351.64L925.44 351.18L925.9 350.26L926.36 349.8L927.28 349.34L929.12 349.34L930.04 349.8L930.5 350.26L930.96 351.18L930.96 352.1L930.5 353.02L929.58 354.4L924.98 359L931.42 359M935.1 358.08L934.64 358.54L935.1 359L935.56 358.54L935.1 358.08" fill="none" stroke="#000" stroke-width="1.0" stroke-linecap="square" stroke-linejoin="round" shape-rendering="crispEdges"/>
<path d="M958.38 483.74L958.38 482.82L957.9 481.89L956.45 481.43L948.2 481.43M954.99 480.05L954.99 483.28M958.38 486.5L948.2 486.5M958.38 489.73L957.9 490.19L958.38 490.65L958.87 490.19L958.38 489.73M954.99 490.19L948.2 490.19M954.99 498.95L947.23 498.95L945.78 498.49L945.29 498.03L944.81 497.11L944.81 495.72L945.29 494.8M953.54 498.95L954.5 498.03L954.99 497.11L954.99 495.72L954.5 494.8L953.54 493.88L952.08 493.42L951.11 493.42L949.66 493.88L948.69 494.8L948.2 495.72L948.2 497.11L948.69 498.03L949.66 498.95M958.38 502.64L948.2 502.64M953.05 502.64L954.5 504.02L954.99 504.94L954.99 506.33L954.5 507.25L953.05 507.71L948.2 507.71M958.38 511.86L950.14 511.86L948.69 512.32L948.2 513.24L948.2 514.16M954.99 510.48L954.99 513.7M954.99 529.38L948.2 529.38M953.54 529.38L954.5 528.45L954.99 527.53L954.99 526.15L954.5 525.23L953.54 524.31L952.08 523.84L951.11 523.84L949.66 524.31L948.69 525.23L948.2 526.15L948.2 527.53L948.69 528.45L949.66 529.38M958.38 533.06L948.2 533.06M953.54 533.06L954.5 533.99L954.99 534.91L954.99 536.29L954.5 537.21L953.54 538.13L952.08 538.6L951.11 538.6L949.66 538.13L948.69 537.21L948.2 536.29L948.2 534.91L948.69 533.99L949.66 533.06M953.54 546.43L954.5 545.97L954.99 544.59L954.99 543.21L954.5 541.82L953.54 541.36L952.57 541.82L952.08 542.75L951.6 545.05L951.11 545.97L950.14 546.43L949.66 546.43L948.69 545.97L948.2 544.59L948.2 543.21L948.69 541.82L949.66 541.36M954.99 551.5L954.5 550.58L953.54 549.66L952.08 549.2L951.11 549.2L949.66 549.66L948.69 550.58L948.2 551.5L948.2 552.89L948.69 553.81L949.66 554.73L951.11 555.19L952.08 555.19L953.54 554.73L954.5 553.81L954.99 552.89L954.99 551.5M954.99 558.42L948.2 558.42M952.08 558.42L953.54 558.88L954.5 559.8L954.99 560.72L954.99 562.11M958.38 564.41L948.2 564.41M953.54 564.41L954.5 565.33L954.99 566.26L954.99 567.64L954.5 568.56L953.54 569.48L952.08 569.94L951.11 569.94L949.66 569.48L948.69 568.56L948.2 567.64L948.2 566.26L948.69 565.33L949.66 564.41M952.08 572.71L952.08 578.24L953.05 578.24L954.02 577.78L954.5 577.32L954.99 576.4L954.99 575.02L954.5 574.09L953.54 573.17L952.08 572.71L951.11 572.71L949.66 573.17L948.69 574.09L948.2 575.02L948.2 576.4L948.69 577.32L949.66 578.24M958.38 586.54L948.2 586.54M953.54 586.54L954.5 585.62L954.99 584.7L954.99 583.31L954.5 582.39L953.54 581.47L952.08 581.01L951.11 581.01L949.66 581.47L948.69 582.39L948.2 583.31L948.2 584.7L948.69 585.62L949.66 586.54M958.38 602.68L948.2 602.68M953.54 602.68L954.5 601.75L954.99 600.83L954.99 599.45L954.5 598.53L953.54 597.6L952.08 597.14L951.11 597.14L949.66 597.6L948.69 598.53L948.2 599.45L948.2 600.83L948.69 601.75L949.66 602.68M954.99 608.21L954.5 607.29L953.54 606.36L952.08 605.9L951.11 605.9L949.66 606.36L948.69 607.29L948.2 608.21L948.2 609.59L948.69 610.51L949.66 611.43L951.11 611.9L952.08 611.9L953.54 611.43L954.5 610.51L954.99 609.59L954.99 608.21M953.54 619.73L954.5 619.27L954.99 617.89L954.99 616.5L954.5 615.12L953.54 614.66L952.57 615.12L952.08 616.04L951.6 618.35L951.11 619.27L950.14 619.73L949.66 619.73L948.69 619.27L948.2 617.89L948.2 616.5L948.69 615.12L949.66 614.66M952.08 622.5L952.08 628.03L953.05 628.03L954.02 627.57L954.5 627.11L954.99 626.19L954.99 624.8L954.5 623.88L953.54 622.96L952.08 622.5L951.11 622.5L949.66 622.96L948.69 623.88L948.2 624.8L948.2 626.19L948.69 627.11L949.66 628.03M954.99 638.63L948.2 638.63M952.08 638.63L953.54 639.09L954.5 640.02L954.99 640.94L954.99 642.32M954.99 649.7L948.2 649.7M953.54 649.7L954.5 648.78L954.99 647.85L954.99 646.47L954.5 645.55L953.54 644.63L952.08 644.17L951.11 644.17L949.66 644.63L948.69 645.55L948.2 646.47L948.2 647.85L948.69 648.78L949.66 649.7M958.38 653.85L950.14 653.85L948.69 654.31L948.2 655.23L948.2 656.15M954.99 652.46L954.99 655.69M952.08 658.46L952.08 663.99L953.05 663.99L954.02 663.53L954.5 663.07L954.99 662.14L954.99 660.76L954.5 659.84L953.54 658.92L952.08 658.46L951.11 658.46L949.66 658.92L948.69 659.84L948.2 660.76L948.2 662.14L948.69 663.07L949.66 663.99M954.99 674.59L948.2 674.59M953.05 674.59L954.5 675.97L954.99 676.9L954.99 678.28L954.5 679.2L953.05 679.66L948.2 679.66M953.05 679.66L954.5 681.05L954.99 681.97L954.99 683.35L954.5 684.27L953.05 684.73L948.2 684.73M958.38 687.96L957.9 688.42L958.38 688.88L958.87 688.42L958.38 687.96M954.99 688.42L948.2 688.42M953.54 697.18L954.5 696.26L954.99 695.34L954.99 693.95L954.5 693.03L953.54 692.11L952.08 691.65L951.11 691.65L949.66 692.11L948.69 693.03L948.2 693.95L948.2 695.34L948.69 696.26L949.66 697.18M954.99 700.41L948.2 700.41M952.08 700.41L953.54 700.87L954.5 701.79L954.99 702.71L954.99 704.1M954.99 708.24L954.5 707.32L953.54 706.4L952.08 705.94L951.11 705.94L949.66 706.4L948.69 707.32L948.2 708.24L948.2 709.63L948.69 710.55L949.66 711.47L951.11 711.93L952.08 711.93L953.54 711.47L954.5 710.55L954.99 709.63L954.99 708.24M955.96 721.61L956.93 721.15L957.9 720.23L958.38 719.31L958.38 717.46L957.9 716.54L956.93 715.62L955.96 715.16L954.5 714.7L952.08 714.7L950.62 715.16L949.66 715.62L948.69 716.54L948.2 717.46L948.2 719.31L948.69 720.23L949.66 721.15L950.62 721.61L952.08 721.61M952.08 719.31L952.08 721.61M954.99 723.92L948.2 726.68M954.99 729.45L948.2 726.68L946.26 725.76L945.29 724.84L944.81 723.92L944.81 723.46M960.33 739.59L944.81 731.29M958.38 742.36L948.2 742.36M953.05 742.36L954.5 743.74L954.99 744.66L954.99 746.05L954.5 746.97L953.05 747.43L948.2 747.43" fill="none" stroke="#000" stroke-width="1.0" stroke-linecap="square" stroke-linejoin="round" shape-rendering="crispEdges"/>
<rect x="100.5" y="919.5" width="800.0" height="10.0" fill="url(#gh)" stroke="#000" stroke-width="1" shape-rendering="crispEdges"/>
<g shape-rendering="crispEdges" stroke-opacity="0.55">
<line x1="140.5" y1="919.5" x2="140.5" y2="922" stroke="#000" stroke-width="1"/>
<line x1="140.5" y1="929.5" x2="140.5" y2="927" stroke="#000" stroke-width="1"/>
<line x1="180.5" y1="919.5" x2="180.5" y2="922" stroke="#000" stroke-width="1"/>
<line x1="180.5" y1="929.5" x2="180.5" y2="927" stroke="#000" stroke-width="1"/>
<line x1="220.5" y1="919.5" x2="220.5" y2="922" stroke="#000" stroke-width="1"/>
<line x1="220.5" y1="929.5" x2="220.5" y2="927" stroke="#000" stroke-width="1"/>
<line x1="260.5" y1="919.5" x2="260.5" y2="922" stroke="#000" stroke-width="1"/>
<line x1="260.5" y1="929.5" x2="260.5" y2="927" stroke="#000" stroke-width="1"/>
<line x1="300.5" y1="919.5" x2="300.5" y2="922" stroke="#000" stroke-width="1"/>
<line x1="300.5" y1="929.5" x2="300.5" y2="927" stroke="#000" stroke-width="1"/>
<line x1="340.5" y1="919.5" x2="340.5" y2="922" stroke="#000" stroke-width="1"/>
<line x1="340.5" y1="929.5" x2="340.5" y2="927" stroke="#000" stroke-width="1"/>
<line x1="380.5" y1="919.5" x2="380.5" y2="922" stroke="#000" stroke-width="1"/>
<line x1="380.5" y1="929.5" x2="380.5" y2="927" stroke="#000" stroke-width="1"/>
<line x1="420.5" y1="919.5" x2="420.5" y2="922" stroke="#000" stroke-width="1"/>
<line x1="420.5" y1="929.5" x2="420.5" y2="927" stroke="#000" stroke-width="1"/>
<line x1="460.5" y1="919.5" x2="460.5" y2="922" stroke="#000" stroke-width="1"/>
<line x1="460.5" y1="929.5" x2="460.5" y2="927" stroke="#000" stroke-width="1"/>
<line x1="500.5" y1="919.5" x2="500.5" y2="922" stroke="#000" stroke-width="1"/>
<line x1="500.5" y1="929.5" x2="500.5" y2="927" stroke="#000" stroke-width="1"/>
<line x1="540.5" y1="919.5" x2="540.5" y2="922" stroke="#000" stroke-width="1"/>
<line x1="540.5" y1="929.5" x2="540.5" y2="927" stroke="#000" stroke-width="1"/>
<line x1="580.5" y1="919.5" x2="580.5" y2="922" stroke="#000" stroke-width="1"/>
<line x1="580.5" y1="929.5" x2="580.5" y2="927" stroke="#000" stroke-width="1"/>
<line x1="620.5" y1="919.5" x2="620.5" y2="922" stroke="#000" stroke-width="1"/>
<line x1="620.5" y1="929.5" x2="620.5" y2="927" stroke="#000" stroke-width="1"/>
<line x1="660.5" y1="919.5" x2="660.5" y2="922" stroke="#000" stroke-width="1"/>
<line x1="660.5" y1="929.5" x2="660.5" y2="927" stroke="#000" stroke-width="1"/>
<line x1="700.5" y1="919.5" x2="700.5" y2="922" stroke="#000" stroke-width="1"/>
<line x1="700.5" y1="929.5" x2="700.5" y2="927" stroke="#000" stroke-width="1"/>
<line x1="740.5" y1="919.5" x2="740.5" y2="922" stroke="#000" stroke-width="1"/>
<line x1="740.5" y1="929.5" x2="740.5" y2="927" stroke="#000" stroke-width="1"/>
<line x1="780.5" y1="919.5" x2="780.5" y2="922" stroke="#000" stroke-width="1"/>
<line x1="780.5" y1="929.5" x2="780.5" y2="927" stroke="#000" stroke-width="1"/>
<line x1="820.5" y1="919.5" x2="820.5" y2="922" stroke="#000" stroke-width="1"/>
<line x1="820.5" y1="929.5" x2="820.5" y2="927" stroke="#000" stroke-width="1"/>
<line x1="860.5" y1="919.5" x2="860.5" y2="922" stroke="#000" stroke-width="1"/>
<line x1="860.5" y1="929.5" x2="860.5" y2="927" stroke="#000" stroke-width="1"/>
</g>
<path d="M93.19 941.99L93.19 941.53L93.64 940.62L94.1 940.16L95.02 939.7L96.84 939.7L97.76 940.16L98.22 940.62L98.67 941.53L98.67 942.44L98.22 943.36L97.3 944.73L92.73 949.3L99.13 949.3M107.36 939.7L102.78 939.7L102.33 943.82L102.78 943.36L104.16 942.9L105.53 942.9L106.9 943.36L107.81 944.27L108.27 945.64L108.27 946.56L107.81 947.93L106.9 948.84L105.53 949.3L104.16 949.3L102.78 948.84L102.33 948.39L101.87 947.47" fill="none" stroke="#000" stroke-width="1.0" stroke-linecap="square" stroke-linejoin="round" shape-rendering="crispEdges"/>
<path d="M133.19 941.99L133.19 941.53L133.65 940.62L134.1 940.16L135.02 939.7L136.84 939.7L137.76 940.16L138.22 940.62L138.67 941.53L138.67 942.44L138.22 943.36L137.3 944.73L132.73 949.3L139.13 949.3M146.44 939.7L141.87 946.1L148.73 946.1M146.44 939.7L146.44 949.3" fill="none" stroke="#000" stroke-width="1.0" stroke-linecap="square" stroke-linejoin="round" shape-rendering="crispEdges"/>
<path d="M173.19 941.99L173.19 941.53L173.65 940.62L174.1 940.16L175.02 939.7L176.84 939.7L177.76 940.16L178.22 940.62L178.67 941.53L178.67 942.44L178.22 943.36L177.3 944.73L172.73 949.3L179.13 949.3M182.78 939.7L187.81 939.7L185.07 943.36L186.44 943.36L187.35 943.82L187.81 944.27L188.27 945.64L188.27 946.56L187.81 947.93L186.9 948.84L185.53 949.3L184.16 949.3L182.78 948.84L182.33 948.39L181.87 947.47" fill="none" stroke="#000" stroke-width="1.0" stroke-linecap="square" stroke-linejoin="round" shape-rendering="crispEdges"/>
<path d="M213.19 941.99L213.19 941.53L213.65 940.62L214.1 940.16L215.02 939.7L216.84 939.7L217.76 940.16L218.22 940.62L218.67 941.53L218.67 942.44L218.22 943.36L217.3 944.73L212.73 949.3L219.13 949.3M222.33 941.99L222.33 941.53L222.78 940.62L223.24 940.16L224.16 939.7L225.98 939.7L226.9 940.16L227.35 940.62L227.81 941.53L227.81 942.44L227.35 943.36L226.44 944.73L221.87 949.3L228.27 949.3" fill="none" stroke="#000" stroke-width="1.0" stroke-linecap="square" stroke-linejoin="round" shape-rendering="crispEdges"/>
<path d="M253.19 941.99L253.19 941.53L253.65 940.62L254.1 940.16L255.02 939.7L256.84 939.7L257.76 940.16L258.21 940.62L258.67 941.53L258.67 942.44L258.21 943.36L257.3 944.73L252.73 949.3L259.13 949.3M263.24 941.53L264.16 941.07L265.53 939.7L265.53 949.3" fill="none" stroke="#000" stroke-width="1.0" stroke-linecap="square" stroke-linejoin="round" shape-rendering="crispEdges"/>
<path d="M293.19 941.99L293.19 941.53L293.64 940.62L294.1 940.16L295.02 939.7L296.84 939.7L297.76 940.16L298.21 940.62L298.67 941.53L298.67 942.44L298.21 943.36L297.3 944.73L292.73 949.3L299.13 949.3M304.61 939.7L303.24 940.16L302.33 941.53L301.87 943.82L301.87 945.19L302.33 947.47L303.24 948.84L304.61 949.3L305.53 949.3L306.9 948.84L307.81 947.47L308.27 945.19L308.27 943.82L307.81 941.53L306.9 940.16L305.53 939.7L304.61 939.7" fill="none" stroke="#000" stroke-width="1.0" stroke-linecap="square" stroke-linejoin="round" shape-rendering="crispEdges"/>
<path d="M334.1 941.53L335.02 941.07L336.39 939.7L336.39 949.3M347.81 942.9L347.36 944.27L346.44 945.19L345.07 945.64L344.61 945.64L343.24 945.19L342.33 944.27L341.87 942.9L341.87 942.44L342.33 941.07L343.24 940.16L344.61 939.7L345.07 939.7L346.44 940.16L347.36 941.07L347.81 942.9L347.81 945.19L347.36 947.47L346.44 948.84L345.07 949.3L344.16 949.3L342.79 948.84L342.33 947.93" fill="none" stroke="#000" stroke-width="1.0" stroke-linecap="square" stroke-linejoin="round" shape-rendering="crispEdges"/>
<path d="M374.1 941.53L375.02 941.07L376.39 939.7L376.39 949.3M384.16 939.7L382.79 940.16L382.33 941.07L382.33 941.99L382.79 942.9L383.7 943.36L385.53 943.82L386.9 944.27L387.81 945.19L388.27 946.1L388.27 947.47L387.81 948.39L387.36 948.84L385.98 949.3L384.16 949.3L382.79 948.84L382.33 948.39L381.87 947.47L381.87 946.1L382.33 945.19L383.24 944.27L384.61 943.82L386.44 943.36L387.36 942.9L387.81 941.99L387.81 941.07L387.36 940.16L385.98 939.7L384.16 939.7" fill="none" stroke="#000" stroke-width="1.0" stroke-linecap="square" stroke-linejoin="round" shape-rendering="crispEdges"/>
<path d="M414.1 941.53L415.02 941.07L416.39 939.7L416.39 949.3M428.27 939.7L423.7 949.3M421.87 939.7L428.27 939.7" fill="none" stroke="#000" stroke-width="1.0" stroke-linecap="square" stroke-linejoin="round" shape-rendering="crispEdges"/>
<path d="M454.1 941.53L455.02 941.07L456.39 939.7L456.39 949.3M467.81 941.07L467.36 940.16L465.98 939.7L465.07 939.7L463.7 940.16L462.79 941.53L462.33 943.82L462.33 946.1L462.79 947.93L463.7 948.84L465.07 949.3L465.53 949.3L466.9 948.84L467.81 947.93L468.27 946.56L468.27 946.1L467.81 944.73L466.9 943.82L465.53 943.36L465.07 943.36L463.7 943.82L462.79 944.73L462.33 946.1" fill="none" stroke="#000" stroke-width="1.0" stroke-linecap="square" stroke-linejoin="round" shape-rendering="crispEdges"/>
<path d="M494.1 941.53L495.02 941.07L496.39 939.7L496.39 949.3M507.36 939.7L502.79 939.7L502.33 943.82L502.79 943.36L504.16 942.9L505.53 942.9L506.9 943.36L507.81 944.27L508.27 945.64L508.27 946.56L507.81 947.93L506.9 948.84L505.53 949.3L504.16 949.3L502.79 948.84L502.33 948.39L501.87 947.47" fill="none" stroke="#000" stroke-width="1.0" stroke-linecap="square" stroke-linejoin="round" shape-rendering="crispEdges"/>
<path d="M534.1 941.53L535.02 941.07L536.39 939.7L536.39 949.3M546.44 939.7L541.87 946.1L548.73 946.1M546.44 939.7L546.44 949.3" fill="none" stroke="#000" stroke-width="1.0" stroke-linecap="square" stroke-linejoin="round" shape-rendering="crispEdges"/>
<path d="M574.1 941.53L575.02 941.07L576.39 939.7L576.39 949.3M582.78 939.7L587.81 939.7L585.07 943.36L586.44 943.36L587.36 943.82L587.81 944.27L588.27 945.64L588.27 946.56L587.81 947.93L586.9 948.84L585.53 949.3L584.16 949.3L582.78 948.84L582.33 948.39L581.87 947.47" fill="none" stroke="#000" stroke-width="1.0" stroke-linecap="square" stroke-linejoin="round" shape-rendering="crispEdges"/>
<path d="M614.1 941.53L615.02 941.07L616.39 939.7L616.39 949.3M622.33 941.99L622.33 941.53L622.78 940.62L623.24 940.16L624.16 939.7L625.98 939.7L626.9 940.16L627.36 940.62L627.81 941.53L627.81 942.44L627.36 943.36L626.44 944.73L621.87 949.3L628.27 949.3" fill="none" stroke="#000" stroke-width="1.0" stroke-linecap="square" stroke-linejoin="round" shape-rendering="crispEdges"/>
<path d="M654.1 941.53L655.02 941.07L656.39 939.7L656.39 949.3M663.24 941.53L664.16 941.07L665.53 939.7L665.53 949.3" fill="none" stroke="#000" stroke-width="1.0" stroke-linecap="square" stroke-linejoin="round" shape-rendering="crispEdges"/>
<path d="M694.1 941.53L695.02 941.07L696.39 939.7L696.39 949.3M704.61 939.7L703.24 940.16L702.33 941.53L701.87 943.82L701.87 945.19L702.33 947.47L703.24 948.84L704.61 949.3L705.53 949.3L706.9 948.84L707.81 947.47L708.27 945.19L708.27 943.82L707.81 941.53L706.9 940.16L705.53 939.7L704.61 939.7" fill="none" stroke="#000" stroke-width="1.0" stroke-linecap="square" stroke-linejoin="round" shape-rendering="crispEdges"/>
<path d="M743.24 942.9L742.78 944.27L741.87 945.19L740.5 945.64L740.04 945.64L738.67 945.19L737.76 944.27L737.3 942.9L737.3 942.44L737.76 941.07L738.67 940.16L740.04 939.7L740.5 939.7L741.87 940.16L742.78 941.07L743.24 942.9L743.24 945.19L742.78 947.47L741.87 948.84L740.5 949.3L739.59 949.3L738.22 948.84L737.76 947.93" fill="none" stroke="#000" stroke-width="1.0" stroke-linecap="square" stroke-linejoin="round" shape-rendering="crispEdges"/>
<path d="M779.59 939.7L778.22 940.16L777.76 941.07L777.76 941.99L778.22 942.9L779.13 943.36L780.96 943.82L782.33 944.27L783.24 945.19L783.7 946.1L783.7 947.47L783.24 948.39L782.78 948.84L781.41 949.3L779.59 949.3L778.22 948.84L777.76 948.39L777.3 947.47L777.3 946.1L777.76 945.19L778.67 944.27L780.04 943.82L781.87 943.36L782.78 942.9L783.24 941.99L783.24 941.07L782.78 940.16L781.41 939.7L779.59 939.7" fill="none" stroke="#000" stroke-width="1.0" stroke-linecap="square" stroke-linejoin="round" shape-rendering="crispEdges"/>
<path d="M823.7 939.7L819.13 949.3M817.3 939.7L823.7 939.7" fill="none" stroke="#000" stroke-width="1.0" stroke-linecap="square" stroke-linejoin="round" shape-rendering="crispEdges"/>
<path d="M863.24 941.07L862.78 940.16L861.41 939.7L860.5 939.7L859.13 940.16L858.22 941.53L857.76 943.82L857.76 946.1L858.22 947.93L859.13 948.84L860.5 949.3L860.96 949.3L862.33 948.84L863.24 947.93L863.7 946.56L863.7 946.1L863.24 944.73L862.33 943.82L860.96 943.36L860.5 943.36L859.13 943.82L858.22 944.73L857.76 946.1" fill="none" stroke="#000" stroke-width="1.0" stroke-linecap="square" stroke-linejoin="round" shape-rendering="crispEdges"/>
<path d="M902.78 939.7L898.22 939.7L897.76 943.82L898.22 943.36L899.59 942.9L900.96 942.9L902.33 943.36L903.24 944.27L903.7 945.64L903.7 946.56L903.24 947.93L902.33 948.84L900.96 949.3L899.59 949.3L898.22 948.84L897.76 948.39L897.3 947.47" fill="none" stroke="#000" stroke-width="1.0" stroke-linecap="square" stroke-linejoin="round" shape-rendering="crispEdges"/>
<path d="M129.27 901.21L128.69 900.05L127.53 898.89L126.37 898.31L124.05 898.31L122.88 898.89L121.72 900.05L121.14 901.21L120.56 902.95L120.56 905.86L121.14 907.6L121.72 908.76L122.88 909.92L124.05 910.5L126.37 910.5L127.53 909.92L128.69 908.76L129.27 907.6M133.33 902.37L133.33 908.18L133.91 909.92L135.08 910.5L136.82 910.5L137.98 909.92L139.72 908.18M139.72 902.37L139.72 910.5M144.94 898.31L144.94 908.18L145.52 909.92L146.69 910.5L147.85 910.5M143.2 902.37L147.27 902.37M153.65 902.37L152.49 902.95L151.33 904.11L150.75 905.86L150.75 907.02L151.33 908.76L152.49 909.92L153.65 910.5L155.39 910.5L156.55 909.92L157.71 908.76L158.3 907.02L158.3 905.86L157.71 904.11L156.55 902.95L155.39 902.37L153.65 902.37M165.84 898.31L164.68 898.31L163.52 898.89L162.94 900.63L162.94 910.5M161.2 902.37L165.26 902.37M172.81 898.31L171.65 898.31L170.49 898.89L169.91 900.63L169.91 910.5M168.16 902.37L172.23 902.37M185.58 902.37L185.58 910.5M185.58 905.86L186.16 904.11L187.32 902.95L188.48 902.37L190.22 902.37M192.54 898.31L193.13 898.89L193.71 898.31L193.13 897.73L192.54 898.31M193.13 902.37L193.13 910.5M204.15 902.37L204.15 911.66L203.57 913.4L202.99 913.98L201.83 914.56L200.09 914.56L198.93 913.98M204.15 904.11L202.99 902.95L201.83 902.37L200.09 902.37L198.93 902.95L197.77 904.11L197.19 905.86L197.19 907.02L197.77 908.76L198.93 909.92L200.09 910.5L201.83 910.5L202.99 909.92L204.15 908.76M208.22 898.31L208.8 898.89L209.38 898.31L208.8 897.73L208.22 898.31M208.8 902.37L208.8 910.5M219.83 898.31L219.83 910.5M219.83 904.11L218.67 902.95L217.51 902.37L215.76 902.37L214.6 902.95L213.44 904.11L212.86 905.86L212.86 907.02L213.44 908.76L214.6 909.92L215.76 910.5L217.51 910.5L218.67 909.92L219.83 908.76M223.89 898.31L224.47 898.89L225.05 898.31L224.47 897.73L223.89 898.31M224.47 902.37L224.47 910.5M229.7 898.31L229.7 908.18L230.28 909.92L231.44 910.5L232.6 910.5M227.96 902.37L232.02 902.37M234.92 902.37L238.4 910.5M241.89 902.37L238.4 910.5L237.24 912.82L236.08 913.98L234.92 914.56L234.34 914.56M258.72 895.99L257.56 897.15L256.4 898.89L255.24 901.21L254.66 904.11L254.66 906.44L255.24 909.34L256.4 911.66L257.56 913.4L258.72 914.56M262.79 898.31L262.79 910.5M262.79 898.31L268.01 898.31L269.75 898.89L270.33 899.47L270.91 900.63L270.91 901.79L270.33 902.95L269.75 903.53L268.01 904.11L262.79 904.11M266.85 904.11L270.91 910.5M281.36 904.11L280.2 902.95L279.04 902.37L277.3 902.37L276.14 902.95L274.98 904.11L274.4 905.86L274.4 907.02L274.98 908.76L276.14 909.92L277.3 910.5L279.04 910.5L280.2 909.92L281.36 908.76M284.84 895.99L286.01 897.15L287.17 898.89L288.33 901.21L288.91 904.11L288.91 906.44L288.33 909.34L287.17 911.66L286.01 913.4L284.84 914.56M302.84 900.05L312.13 905.28L302.84 910.5M317.93 900.63L319.09 900.05L320.84 898.31L320.84 910.5M328.38 901.21L328.38 900.63L328.96 899.47L329.54 898.89L330.7 898.31L333.03 898.31L334.19 898.89L334.77 899.47L335.35 900.63L335.35 901.79L334.77 902.95L333.61 904.7L327.8 910.5L335.93 910.5M346.38 898.31L340.57 898.31L339.99 903.53L340.57 902.95L342.31 902.37L344.06 902.37L345.8 902.95L346.96 904.11L347.54 905.86L347.54 907.02L346.96 908.76L345.8 909.92L344.06 910.5L342.31 910.5L340.57 909.92L339.99 909.34L339.41 908.18M360.89 898.31L360.89 910.5M366.69 902.37L360.89 908.18M363.21 905.86L367.28 910.5M370.76 902.37L370.76 910.5M370.76 904.7L372.5 902.95L373.66 902.37L375.4 902.37L376.56 902.95L377.14 904.7L377.14 910.5M377.14 904.7L378.89 902.95L380.05 902.37L381.79 902.37L382.95 902.95L383.53 904.7L383.53 910.5M401.52 895.99L400.36 897.15L399.2 898.89L398.04 901.21L397.46 904.11L397.46 906.44L398.04 909.34L399.2 911.66L400.36 913.4L401.52 914.56M413.72 901.21L413.13 900.05L411.97 898.89L410.81 898.31L408.49 898.31L407.33 898.89L406.17 900.05L405.59 901.21L405.01 902.95L405.01 905.86L405.59 907.6L406.17 908.76L407.33 909.92L408.49 910.5L410.81 910.5L411.97 909.92L413.13 908.76L413.72 907.6L413.72 905.86M410.81 905.86L413.72 905.86M416.04 898.31L420.68 910.5M425.33 898.31L420.68 910.5M428.81 902.37L428.23 902.95L428.81 903.53L429.39 902.95L428.81 902.37M428.81 909.34L428.23 909.92L428.81 910.5L429.39 909.92L428.81 909.34M443.32 902.37L443.32 910.5M443.32 905.86L443.9 904.11L445.06 902.95L446.22 902.37L447.96 902.37M450.29 905.86L457.25 905.86L457.25 904.7L456.67 903.53L456.09 902.95L454.93 902.37L453.19 902.37L452.03 902.95L450.87 904.11L450.29 905.86L450.29 907.02L450.87 908.76L452.03 909.92L453.19 910.5L454.93 910.5L456.09 909.92L457.25 908.76M467.7 898.31L467.7 910.5M467.7 904.11L466.54 902.95L465.38 902.37L463.64 902.37L462.48 902.95L461.32 904.11L460.74 905.86L460.74 907.02L461.32 908.76L462.48 909.92L463.64 910.5L465.38 910.5L466.54 909.92L467.7 908.76M481.63 903.53L492.08 903.53M481.63 907.02L492.08 907.02M512.4 902.37L512.4 911.66L511.82 913.4L511.24 913.98L510.08 914.56L508.34 914.56L507.18 913.98M512.4 904.11L511.24 902.95L510.08 902.37L508.34 902.37L507.18 902.95L506.01 904.11L505.43 905.86L505.43 907.02L506.01 908.76L507.18 909.92L508.34 910.5L510.08 910.5L511.24 909.92L512.4 908.76M517.04 902.37L517.04 910.5M517.04 905.86L517.62 904.11L518.79 902.95L519.95 902.37L521.69 902.37M524.01 905.86L530.98 905.86L530.98 904.7L530.4 903.53L529.82 902.95L528.65 902.37L526.91 902.37L525.75 902.95L524.59 904.11L524.01 905.86L524.01 907.02L524.59 908.76L525.75 909.92L526.91 910.5L528.65 910.5L529.82 909.92L530.98 908.76M541.43 902.37L541.43 910.5M541.43 904.11L540.26 902.95L539.1 902.37L537.36 902.37L536.2 902.95L535.04 904.11L534.46 905.86L534.46 907.02L535.04 908.76L536.2 909.92L537.36 910.5L539.1 910.5L540.26 909.92L541.43 908.76M546.65 898.31L546.65 908.18L547.23 909.92L548.39 910.5L549.55 910.5M544.91 902.37L548.97 902.37M552.45 905.86L559.42 905.86L559.42 904.7L558.84 903.53L558.26 902.95L557.1 902.37L555.36 902.37L554.2 902.95L553.04 904.11L552.45 905.86L552.45 907.02L553.04 908.76L554.2 909.92L555.36 910.5L557.1 910.5L558.26 909.92L559.42 908.76M569.29 904.11L568.71 902.95L566.97 902.37L565.23 902.37L563.48 902.95L562.9 904.11L563.48 905.28L564.65 905.86L567.55 906.44L568.71 907.02L569.29 908.18L569.29 908.76L568.71 909.92L566.97 910.5L565.23 910.5L563.48 909.92L562.9 908.76M573.93 898.31L573.93 908.18L574.51 909.92L575.67 910.5L576.84 910.5M572.19 902.37L576.26 902.37M589.61 898.31L589.61 910.5M589.61 904.7L591.35 902.95L592.51 902.37L594.25 902.37L595.41 902.95L595.99 904.7L595.99 910.5M607.02 902.37L607.02 910.5M607.02 904.11L605.86 902.95L604.7 902.37L602.96 902.37L601.8 902.95L600.64 904.11L600.06 905.86L600.06 907.02L600.64 908.76L601.8 909.92L602.96 910.5L604.7 910.5L605.86 909.92L607.02 908.76M617.47 902.37L611.09 910.5M611.09 902.37L617.47 902.37M611.09 910.5L617.47 910.5M627.92 902.37L627.92 910.5M627.92 904.11L626.76 902.95L625.6 902.37L623.86 902.37L622.7 902.95L621.53 904.11L620.95 905.86L620.95 907.02L621.53 908.76L622.7 909.92L623.86 910.5L625.6 910.5L626.76 909.92L627.92 908.76M632.56 902.37L632.56 910.5M632.56 905.86L633.14 904.11L634.31 902.95L635.47 902.37L637.21 902.37M646.5 898.31L646.5 910.5M646.5 904.11L645.33 902.95L644.17 902.37L642.43 902.37L641.27 902.95L640.11 904.11L639.53 905.86L639.53 907.02L640.11 908.76L641.27 909.92L642.43 910.5L644.17 910.5L645.33 909.92L646.5 908.76M651.72 902.37L651.14 902.95L651.72 903.53L652.3 902.95L651.72 902.37M652.3 909.92L651.72 910.5L651.14 909.92L651.72 909.34L652.3 909.92L652.3 911.08L651.72 912.24L651.14 912.82M672.62 904.11L671.46 902.95L670.3 902.37L668.55 902.37L667.39 902.95L666.23 904.11L665.65 905.86L665.65 907.02L666.23 908.76L667.39 909.92L668.55 910.5L670.3 910.5L671.46 909.92L672.62 908.76M679 902.37L677.84 902.95L676.68 904.11L676.1 905.86L676.1 907.02L676.68 908.76L677.84 909.92L679 910.5L680.75 910.5L681.91 909.92L683.07 908.76L683.65 907.02L683.65 905.86L683.07 904.11L681.91 902.95L680.75 902.37L679 902.37M687.71 902.37L687.71 908.18L688.29 909.92L689.45 910.5L691.19 910.5L692.36 909.92L694.1 908.18M694.1 902.37L694.1 910.5M698.74 902.37L698.74 910.5M698.74 905.86L699.32 904.11L700.48 902.95L701.64 902.37L703.38 902.37M706.87 898.31L706.87 908.18L707.45 909.92L708.61 910.5L709.77 910.5M705.13 902.37L709.19 902.37M712.67 905.86L719.64 905.86L719.64 904.7L719.06 903.53L718.48 902.95L717.32 902.37L715.58 902.37L714.41 902.95L713.25 904.11L712.67 905.86L712.67 907.02L713.25 908.76L714.41 909.92L715.58 910.5L717.32 910.5L718.48 909.92L719.64 908.76M729.51 904.11L728.93 902.95L727.19 902.37L725.44 902.37L723.7 902.95L723.12 904.11L723.7 905.28L724.86 905.86L727.77 906.44L728.93 907.02L729.51 908.18L729.51 908.76L728.93 909.92L727.19 910.5L725.44 910.5L723.7 909.92L723.12 908.76M732.41 902.37L735.89 910.5M739.38 902.37L735.89 910.5L734.73 912.82L733.57 913.98L732.41 914.56L731.83 914.56M759.69 900.05L758.53 898.89L756.79 898.31L754.47 898.31L752.73 898.89L751.57 900.05L751.57 901.21L752.15 902.37L752.73 902.95L753.89 903.53L757.37 904.7L758.53 905.28L759.11 905.86L759.69 907.02L759.69 908.76L758.53 909.92L756.79 910.5L754.47 910.5L752.73 909.92L751.57 908.76M771.3 900.05L770.14 898.89L768.4 898.31L766.08 898.31L764.34 898.89L763.18 900.05L763.18 901.21L763.76 902.37L764.34 902.95L765.5 903.53L768.98 904.7L770.14 905.28L770.72 905.86L771.3 907.02L771.3 908.76L770.14 909.92L768.4 910.5L766.08 910.5L764.34 909.92L763.18 908.76M782.91 900.05L781.75 898.89L780.01 898.31L777.69 898.31L775.95 898.89L774.79 900.05L774.79 901.21L775.37 902.37L775.95 902.95L777.11 903.53L780.59 904.7L781.75 905.28L782.33 905.86L782.91 907.02L782.91 908.76L781.75 909.92L780.01 910.5L777.69 910.5L775.95 909.92L774.79 908.76M786.98 898.31L786.98 910.5M786.98 898.31L792.2 898.31L793.94 898.89L794.52 899.47L795.1 900.63L795.1 901.79L794.52 902.95L793.94 903.53L792.2 904.11L786.98 904.11M791.04 904.11L795.1 910.5M807.29 901.21L806.71 900.05L805.55 898.89L804.39 898.31L802.07 898.31L800.91 898.89L799.75 900.05L799.17 901.21L798.59 902.95L798.59 905.86L799.17 907.6L799.75 908.76L800.91 909.92L802.07 910.5L804.39 910.5L805.55 909.92L806.71 908.76L807.29 907.6M811.94 902.37L811.36 902.95L811.94 903.53L812.52 902.95L811.94 902.37M812.52 909.92L811.94 910.5L811.36 909.92L811.94 909.34L812.52 909.92L812.52 911.08L811.94 912.24L811.36 912.82M826.45 898.31L826.45 910.5M834.58 898.31L826.45 906.44M829.35 903.53L834.58 910.5M838.64 902.37L838.64 914.56M838.64 904.11L839.8 902.95L840.96 902.37L842.7 902.37L843.87 902.95L845.03 904.11L845.61 905.86L845.61 907.02L845.03 908.76L843.87 909.92L842.7 910.5L840.96 910.5L839.8 909.92L838.64 908.76M849.67 903.53L860.12 903.53M849.67 907.02L860.12 907.02M865.34 898.31L871.73 898.31L868.25 902.95L869.99 902.95L871.15 903.53L871.73 904.11L872.31 905.86L872.31 907.02L871.73 908.76L870.57 909.92L868.83 910.5L867.09 910.5L865.34 909.92L864.76 909.34L864.18 908.18M875.79 895.99L876.95 897.15L878.12 898.89L879.28 901.21L879.86 904.11L879.86 906.44L879.28 909.34L878.12 911.66L876.95 913.4L875.79 914.56" fill="none" stroke="#000" stroke-width="1.0" stroke-linecap="square" stroke-linejoin="round" shape-rendering="crispEdges"/>
<path d="M144.67 722.38L143.08 723.22L142.02 725.09L141.49 727.98L141.49 729.66L142.02 732.37L143.08 733.86L144.67 734.14L145.73 733.95L147.32 733.1L148.38 731.24L148.91 728.34L148.91 726.66L148.38 723.96L147.32 722.46L145.73 722.19L144.67 722.38" fill="none" stroke="#000" stroke-width="1.0" stroke-linecap="square" stroke-linejoin="round" shape-rendering="crispEdges"/>
<path d="M131.42 681.66L131.42 681.1L131.95 679.89L132.48 679.23L133.54 678.49L135.66 678.11L136.72 678.48L137.25 678.95L137.78 679.97L137.78 681.09L137.25 682.31L136.19 684.18L130.89 690.72L138.31 689.4M144.67 676.51L143.08 677.35L142.02 679.22L141.49 682.11L141.49 683.79L142.02 686.5L143.08 687.99L144.67 688.27L145.73 688.08L147.32 687.24L148.38 685.37L148.91 682.48L148.91 680.8L148.38 678.09L147.32 676.6L145.73 676.32L144.67 676.51" fill="none" stroke="#000" stroke-width="1.0" stroke-linecap="square" stroke-linejoin="round" shape-rendering="crispEdges"/>
<path d="M136.19 632.15L130.89 640.93L138.84 639.52M136.19 632.15L136.19 643.91M144.67 630.64L143.08 631.48L142.02 633.35L141.49 636.25L141.49 637.93L142.02 640.63L143.08 642.12L144.67 642.4L145.73 642.21L147.32 641.37L148.38 639.5L148.91 636.61L148.91 634.93L148.38 632.22L147.32 630.73L145.73 630.45L144.67 630.64" fill="none" stroke="#000" stroke-width="1.0" stroke-linecap="square" stroke-linejoin="round" shape-rendering="crispEdges"/>
<path d="M137.78 587.68L137.25 586.65L135.66 586.38L134.6 586.56L133.01 587.41L131.95 589.28L131.42 592.17L131.42 594.97L131.95 597.12L133.01 598.05L134.6 598.32L135.13 598.23L136.72 597.39L137.78 596.08L138.31 594.31L138.31 593.75L137.78 592.16L136.72 591.23L135.13 590.95L134.6 591.04L133.01 591.89L131.95 593.2L131.42 594.97M144.67 584.78L143.08 585.62L142.02 587.49L141.49 590.38L141.49 592.06L142.02 594.77L143.08 596.26L144.67 596.54L145.73 596.35L147.32 595.5L148.38 593.64L148.91 590.74L148.91 589.06L148.38 586.36L147.32 584.86L145.73 584.59L144.67 584.78" fill="none" stroke="#000" stroke-width="1.0" stroke-linecap="square" stroke-linejoin="round" shape-rendering="crispEdges"/>
<path d="M133.54 540.89L131.95 541.73L131.42 542.94L131.42 544.06L131.95 545.09L133.01 545.46L135.13 545.64L136.72 545.92L137.78 546.85L138.31 547.88L138.31 549.56L137.78 550.77L137.25 551.43L135.66 552.27L133.54 552.65L131.95 552.37L131.42 551.9L130.89 550.88L130.89 549.2L131.42 547.98L132.48 546.67L134.07 545.83L136.19 544.9L137.25 544.15L137.78 542.93L137.78 541.81L137.25 540.79L135.66 540.51L133.54 540.89M144.67 538.91L143.08 539.75L142.02 541.62L141.49 544.51L141.49 546.19L142.02 548.9L143.08 550.39L144.67 550.67L145.73 550.48L147.32 549.64L148.38 547.77L148.91 544.88L148.91 543.2L148.38 540.49L147.32 539L145.73 538.72L144.67 538.91" fill="none" stroke="#000" stroke-width="1.0" stroke-linecap="square" stroke-linejoin="round" shape-rendering="crispEdges"/>
<path d="M121.88 499.33L122.94 498.58L124.53 496.62L124.53 508.38M134.07 494.93L132.48 495.77L131.42 497.64L130.89 500.53L130.89 502.21L131.42 504.92L132.48 506.41L134.07 506.69L135.13 506.5L136.72 505.65L137.78 503.79L138.31 500.89L138.31 499.21L137.78 496.51L136.72 495.01L135.13 494.74L134.07 494.93M144.67 493.04L143.08 493.88L142.02 495.75L141.49 498.65L141.49 500.33L142.02 503.03L143.08 504.52L144.67 504.8L145.73 504.61L147.32 503.77L148.38 501.9L148.91 499.01L148.91 497.33L148.38 494.62L147.32 493.13L145.73 492.85L144.67 493.04" fill="none" stroke="#000" stroke-width="1.0" stroke-linecap="square" stroke-linejoin="round" shape-rendering="crispEdges"/>
<path d="M121.88 453.46L122.94 452.72L124.53 450.75L124.53 462.51M131.42 452.33L131.42 451.77L131.95 450.56L132.48 449.9L133.54 449.15L135.66 448.78L136.72 449.15L137.25 449.61L137.78 450.64L137.78 451.76L137.25 452.97L136.19 454.84L130.89 461.38L138.31 460.07M144.67 447.18L143.08 448.02L142.02 449.89L141.49 452.78L141.49 454.46L142.02 457.17L143.08 458.66L144.67 458.94L145.73 458.75L147.32 457.9L148.38 456.04L148.91 453.14L148.91 451.46L148.38 448.76L147.32 447.26L145.73 446.99L144.67 447.18" fill="none" stroke="#000" stroke-width="1.0" stroke-linecap="square" stroke-linejoin="round" shape-rendering="crispEdges"/>
<path d="M98.51 660.64L110 663.28M98.51 660.64L110 653.93M106.17 662.2L106.17 656.36M98.51 653.05L110 651.01M98.51 647.8L107.81 646.14L109.45 645.27L110 644L110 642.84M102.34 648.87L102.34 644.78M98.51 641.96L99.06 641.28L98.51 640.79L97.97 641.47L98.51 641.96M102.34 640.69L110 639.33M98.51 636.12L107.81 634.46L109.45 633.59L110 632.32L110 631.16M102.34 637.19L102.34 633.1M102.34 629.01L107.81 628.04L109.45 627.17L110 625.9L110 624.15L109.45 623.08L107.81 621.62M102.34 622.59L110 621.23M98.51 612.17L110 610.13M103.98 611.2L102.89 612.56L102.34 613.83L102.34 615.58L102.89 616.65L103.98 617.62L105.62 617.92L106.72 617.72L108.36 616.85L109.45 615.49L110 614.22L110 612.47L109.45 611.4L108.36 610.42M105.62 606.82L105.62 599.81L104.53 600.01L103.44 600.79L102.89 601.47L102.34 602.73L102.34 604.48L102.89 605.56L103.98 606.53L105.62 606.82L106.72 606.63L108.36 605.75L109.45 604.39L110 603.12L110 601.37L109.45 600.3L108.36 599.33M96.33 583.95L97.42 584.92L99.06 585.8L101.25 586.57L103.98 586.67L106.17 586.28L108.91 585.21L111.09 583.66L112.73 582.2L113.83 580.84M98.51 579.47L110 577.43M102.34 572.95L107.81 577.82M105.62 575.87L110 571M102.34 568.86L110 567.5M104.53 568.47L102.89 567.01L102.34 565.94L102.34 564.19L102.89 562.92L104.53 562.05L110 561.08M104.53 562.05L102.89 560.59L102.34 559.52L102.34 557.76L102.89 556.5L104.53 555.62L110 554.65M96.33 552.99L97.42 551.63L99.06 550.17L101.25 548.61L103.98 547.54L106.17 547.16L108.91 547.25L111.09 548.03L112.73 548.91L113.83 549.88" fill="none" stroke="#000" stroke-width="1.0" stroke-linecap="square" stroke-linejoin="round" shape-rendering="crispEdges"/>
<path d="M129.66 734.79L135.6 733.73L133.76 735.91L135.38 735.62L136.64 735.63L137.35 735.73L138.42 736.24L138.77 736.64L138.75 737.33L138.02 737.93L136.58 738.41L134.96 738.7L133.16 738.79L132.45 738.68L131.56 738.38M146.93 732.42L146.04 732.11L144.24 732.2L143.16 732.39L141.72 732.88L141.16 733.67L141.5 734.77L142.38 735.77L143.61 736.47L145.04 736.68L146.84 736.59L147.38 736.49L148.82 736.01L149.55 735.42L149.57 734.72L149.4 734.52L148.33 734.02L146.9 733.81L145.1 733.89L144.56 733.99L143.12 734.48L142.39 735.07L142.38 735.77" fill="none" stroke="#000" stroke-width="1.0" stroke-linecap="square" stroke-linejoin="round" shape-rendering="crispEdges"/>
<path d="M162.66 752.37L168.6 751.32L166.76 753.5L168.38 753.21L169.64 753.22L170.35 753.32L171.42 753.82L171.77 754.22L171.75 754.92L171.02 755.51L169.58 756L167.96 756.29L166.16 756.37L165.45 756.27L164.56 755.97M178.86 749.5L173.46 750.46L174.5 752.35L174.86 752.06L176.31 751.57L177.93 751.28L179.72 751.19L181.15 751.4L182.22 751.9L182.57 752.3L182.55 753L181.82 753.59L180.38 754.08L178.76 754.37L176.96 754.46L176.25 754.35L175.36 754.05" fill="none" stroke="#000" stroke-width="1.0" stroke-linecap="square" stroke-linejoin="round" shape-rendering="crispEdges"/>
<path d="M195.66 769.96L201.6 768.91L199.76 771.08L201.38 770.79L202.64 770.8L203.35 770.91L204.42 771.41L204.77 771.81L204.75 772.51L204.02 773.1L202.58 773.58L200.96 773.87L199.16 773.96L198.45 773.86L197.56 773.55M210.78 767.27L207.84 771.03L215.94 769.59M210.78 767.27L214.46 771.47" fill="none" stroke="#000" stroke-width="1.0" stroke-linecap="square" stroke-linejoin="round" shape-rendering="crispEdges"/>
<path d="M228.66 787.55L234.6 786.49L232.76 788.67L234.38 788.38L235.64 788.39L236.35 788.49L237.42 788.99L237.77 789.39L237.75 790.09L237.02 790.68L235.58 791.17L233.96 791.46L232.16 791.55L231.45 791.44L230.56 791.14M239.46 785.63L245.4 784.57L243.56 786.75L245.19 786.46L246.44 786.47L247.15 786.57L248.22 787.08L248.57 787.48L248.55 788.17L247.82 788.76L246.38 789.25L244.76 789.54L242.96 789.63L242.25 789.52L241.36 789.22" fill="none" stroke="#000" stroke-width="1.0" stroke-linecap="square" stroke-linejoin="round" shape-rendering="crispEdges"/>
<path d="M261.66 805.13L267.6 804.08L265.76 806.25L267.38 805.96L268.64 805.97L269.35 806.08L270.42 806.58L270.77 806.98L270.75 807.68L270.02 808.27L268.58 808.76L266.96 809.04L265.16 809.13L264.45 809.03L263.56 808.72M272.8 804.31L272.62 804.11L272.81 803.61L273.18 803.32L274.08 802.93L276.24 802.54L277.5 802.55L278.21 802.65L279.1 802.96L279.45 803.36L279.26 803.85L278.71 804.65L275.06 807.61L282.62 806.26" fill="none" stroke="#000" stroke-width="1.0" stroke-linecap="square" stroke-linejoin="round" shape-rendering="crispEdges"/>
<path d="M294.66 822.72L300.6 821.66L298.76 823.84L300.38 823.55L301.64 823.56L302.35 823.66L303.42 824.17L303.77 824.57L303.75 825.26L303.02 825.85L301.58 826.34L299.96 826.63L298.16 826.72L297.45 826.61L296.56 826.31M306.7 821.5L307.61 821.11L308.7 820.22L312.38 824.42" fill="none" stroke="#000" stroke-width="1.0" stroke-linecap="square" stroke-linejoin="round" shape-rendering="crispEdges"/>
<path d="M327.66 840.3L333.6 839.25L331.76 841.42L333.38 841.14L334.64 841.14L335.35 841.25L336.42 841.75L336.77 842.15L336.75 842.85L336.02 843.44L334.58 843.93L332.96 844.22L331.16 844.3L330.45 844.2L329.56 843.9M340.62 838L339.18 838.49L338.62 839.28L338.96 840.38L339.48 840.98L340.9 841.88L342.5 842.29L344.3 842.2L345.38 842.01L346.82 841.52L347.38 840.73L347.04 839.63L346.52 839.03L345.1 838.13L343.5 837.72L341.7 837.81L340.62 838" fill="none" stroke="#000" stroke-width="1.0" stroke-linecap="square" stroke-linejoin="round" shape-rendering="crispEdges"/>
<path d="M361 858.98L360.82 858.78L361.01 858.29L361.38 857.99L362.28 857.6L364.44 857.22L365.7 857.23L366.41 857.33L367.3 857.63L367.65 858.03L367.46 858.53L366.91 859.32L363.26 862.28L370.82 860.94M378.63 856.32L378.61 857.01L377.88 857.6L376.44 858.09L375.9 858.19L374.1 858.27L372.67 858.07L371.61 857.56L371.43 857.36L371.45 856.67L372.18 856.07L373.62 855.59L374.16 855.49L375.96 855.4L377.39 855.61L378.63 856.32L379.5 857.32L379.84 858.41L379.28 859.2L377.84 859.69L376.76 859.88L374.96 859.97L374.07 859.67" fill="none" stroke="#000" stroke-width="1.0" stroke-linecap="square" stroke-linejoin="round" shape-rendering="crispEdges"/>
<path d="M380.5 862.59L380.32 862.39L380.51 861.9L380.88 861.6L381.78 861.21L383.94 860.83L385.2 860.83L385.91 860.94L386.8 861.24L387.15 861.64L386.96 862.14L386.41 862.93L382.76 865.89L390.32 864.55M395.28 858.81L392.33 862.57L400.43 861.13M395.28 858.81L398.96 863.01M408.93 858.01L408.91 858.7L408.19 859.29L406.74 859.78L406.2 859.88L404.4 859.97L402.97 859.76L401.91 859.25L401.73 859.05L401.75 858.36L402.48 857.77L403.92 857.28L404.46 857.18L406.26 857.09L407.69 857.3L408.93 858.01L409.81 859.01L410.14 860.1L409.58 860.89L408.14 861.38L407.06 861.57L405.26 861.66L404.38 861.36" fill="none" stroke="#000" stroke-width="1.0" stroke-linecap="square" stroke-linejoin="round" shape-rendering="crispEdges"/>
<path d="M444.83 851.17L444.65 850.97L444.84 850.47L445.21 850.17L446.11 849.78L448.27 849.4L449.53 849.41L450.24 849.51L451.13 849.81L451.48 850.21L451.29 850.71L450.74 851.5L447.09 854.46L454.65 853.12M460.69 847.19L455.29 848.15L456.33 850.05L456.69 849.75L458.14 849.26L459.76 848.98L461.55 848.89L462.98 849.1L464.05 849.6L464.4 850L464.38 850.7L463.65 851.29L462.21 851.78L460.59 852.06L458.79 852.15L458.08 852.05L457.19 851.74M468.25 845.85L466.81 846.34L466.25 847.13L466.59 848.22L467.11 848.82L468.53 849.73L470.13 850.14L471.93 850.05L473.01 849.86L474.45 849.37L475.01 848.58L474.67 847.48L474.15 846.88L472.73 845.98L471.13 845.57L469.33 845.66L468.25 845.85" fill="none" stroke="#000" stroke-width="1.0" stroke-linecap="square" stroke-linejoin="round" shape-rendering="crispEdges"/>
<path d="M509.16 839.74L508.98 839.54L509.17 839.04L509.54 838.75L510.44 838.35L512.6 837.97L513.86 837.98L514.57 838.08L515.46 838.39L515.81 838.79L515.62 839.28L515.07 840.07L511.42 843.03L518.98 841.69M525.02 835.76L519.62 836.72L520.66 838.62L521.02 838.32L522.47 837.83L524.09 837.55L525.88 837.46L527.31 837.67L528.38 838.17L528.73 838.57L528.71 839.27L527.98 839.86L526.54 840.35L524.92 840.63L523.12 840.72L522.41 840.62L521.52 840.31M531.66 835.51L532.57 835.12L533.66 834.23L537.34 838.43" fill="none" stroke="#000" stroke-width="1.0" stroke-linecap="square" stroke-linejoin="round" shape-rendering="crispEdges"/>
<path d="M573.49 828.31L573.31 828.11L573.5 827.61L573.87 827.32L574.77 826.92L576.93 826.54L578.19 826.55L578.9 826.65L579.79 826.96L580.14 827.36L579.95 827.85L579.4 828.65L575.75 831.6L583.31 830.26M589.35 824.33L583.95 825.29L584.99 827.19L585.35 826.89L586.8 826.41L588.42 826.12L590.21 826.03L591.64 826.24L592.71 826.74L593.06 827.14L593.04 827.84L592.31 828.43L590.87 828.92L589.25 829.21L587.45 829.29L586.74 829.19L585.85 828.89M595.09 824.47L594.91 824.27L595.1 823.78L595.47 823.48L596.37 823.09L598.53 822.7L599.79 822.71L600.5 822.82L601.39 823.12L601.74 823.52L601.55 824.02L601 824.81L597.35 827.77L604.91 826.42" fill="none" stroke="#000" stroke-width="1.0" stroke-linecap="square" stroke-linejoin="round" shape-rendering="crispEdges"/>
<path d="M637.81 816.88L637.64 816.68L637.83 816.18L638.19 815.89L639.1 815.5L641.26 815.11L642.51 815.12L643.23 815.22L644.12 815.53L644.47 815.93L644.28 816.42L643.72 817.22L640.07 820.18L647.63 818.83M653.68 812.91L648.28 813.87L649.31 815.76L649.68 815.47L651.12 814.98L652.74 814.69L654.54 814.6L655.97 814.81L657.03 815.31L657.38 815.71L657.37 816.41L656.64 817L655.19 817.49L653.57 817.78L651.78 817.87L651.06 817.76L650.17 817.46M659.08 811.95L665.02 810.89L663.18 813.07L664.8 812.78L666.05 812.79L666.77 812.89L667.83 813.4L668.18 813.8L668.17 814.49L667.44 815.08L665.99 815.57L664.37 815.86L662.58 815.95L661.86 815.84L660.97 815.54" fill="none" stroke="#000" stroke-width="1.0" stroke-linecap="square" stroke-linejoin="round" shape-rendering="crispEdges"/>
<path d="M702.14 805.45L701.97 805.25L702.16 804.76L702.52 804.46L703.43 804.07L705.59 803.68L706.84 803.69L707.56 803.8L708.45 804.1L708.8 804.5L708.61 805L708.05 805.79L704.4 808.75L711.96 807.4M718.01 801.48L712.61 802.44L713.64 804.33L714.01 804.04L715.45 803.55L717.07 803.26L718.87 803.17L720.3 803.38L721.36 803.89L721.71 804.29L721.7 804.98L720.97 805.57L719.52 806.06L717.9 806.35L716.11 806.44L715.39 806.33L714.5 806.03M727.73 799.75L724.78 803.51L732.88 802.07M727.73 799.75L731.4 803.95" fill="none" stroke="#000" stroke-width="1.0" stroke-linecap="square" stroke-linejoin="round" shape-rendering="crispEdges"/>
<path d="M766.47 794.02L766.3 793.82L766.49 793.33L766.85 793.03L767.76 792.64L769.92 792.26L771.17 792.26L771.89 792.37L772.78 792.67L773.13 793.07L772.94 793.57L772.38 794.36L768.73 797.32L776.29 795.98M782.34 790.05L776.94 791.01L777.97 792.9L778.34 792.61L779.78 792.12L781.4 791.83L783.2 791.74L784.63 791.95L785.69 792.46L786.04 792.86L786.03 793.55L785.3 794.14L783.85 794.63L782.23 794.92L780.44 795.01L779.72 794.9L778.83 794.6M793.14 788.13L787.74 789.09L788.77 790.99L789.14 790.69L790.58 790.2L792.2 789.91L794 789.83L795.43 790.03L796.49 790.54L796.84 790.94L796.83 791.63L796.1 792.23L794.65 792.71L793.03 793L791.24 793.09L790.52 792.99L789.63 792.68" fill="none" stroke="#000" stroke-width="1.0" stroke-linecap="square" stroke-linejoin="round" shape-rendering="crispEdges"/>
<path d="M830.8 782.59L830.62 782.39L830.81 781.9L831.18 781.6L832.09 781.21L834.25 780.83L835.5 780.83L836.21 780.94L837.11 781.24L837.46 781.64L837.26 782.14L836.71 782.93L833.06 785.89L840.62 784.55M846.67 778.62L841.26 779.58L842.3 781.48L842.66 781.18L844.11 780.69L845.73 780.4L847.52 780.32L848.96 780.52L850.02 781.03L850.37 781.43L850.36 782.12L849.62 782.72L848.18 783.2L846.56 783.49L844.76 783.58L844.05 783.48L843.16 783.17M858.53 777.21L857.64 776.9L855.85 776.99L854.76 777.18L853.32 777.67L852.76 778.46L853.1 779.56L853.97 780.56L855.22 781.26L856.64 781.47L858.44 781.38L858.98 781.29L860.43 780.8L861.15 780.21L861.17 779.51L861 779.31L859.93 778.81L858.5 778.6L856.71 778.69L856.16 778.78L854.72 779.27L853.99 779.86L853.97 780.56" fill="none" stroke="#000" stroke-width="1.0" stroke-linecap="square" stroke-linejoin="round" shape-rendering="crispEdges"/>
<path d="M528.24 866.63L527.43 865.78L526.18 865.5L524.49 865.8L523.21 866.53L522.34 867.68L522.31 868.68L522.7 869.6L523.1 870.03L523.93 870.38L526.43 870.93L527.26 871.28L527.67 871.7L528.06 872.63L528.02 874.13L527.14 875.28L525.86 876L524.17 876.3L522.92 876.03L522.11 875.18M531.13 868.1L530.82 878.6M531.09 869.6L531.96 868.45L532.82 867.8L534.09 867.58L534.91 867.93L535.73 868.78L536.1 870.2L536.07 871.2L535.61 872.78L534.73 873.93L533.88 874.58L532.61 874.8L531.78 874.45L530.97 873.6M543.79 865.85L543.58 872.85M543.74 867.35L542.93 866.5L542.1 866.15L540.83 866.38L539.98 867.03L539.1 868.18L538.64 869.75L538.61 870.75L538.98 872.18L539.8 873.03L540.62 873.38L541.89 873.15L542.75 872.5L543.62 871.35M551.76 865.93L550.94 865.08L550.11 864.73L548.85 864.95L547.99 865.6L547.12 866.75L546.65 868.33L546.62 869.33L547 870.75L547.81 871.6L548.64 871.95L549.9 871.73L550.76 871.08L551.64 869.93M554.24 866.98L559.3 866.08L559.33 865.08L558.94 864.16L558.54 863.73L557.71 863.38L556.44 863.61L555.58 864.26L554.71 865.41L554.24 866.98L554.21 867.98L554.59 869.41L555.4 870.26L556.23 870.61L557.5 870.38L558.36 869.73L559.23 868.58M569.2 857.86L568.89 868.36M569.2 857.86L574.68 856.88M569.05 862.86L572.42 862.26M568.89 868.36L574.37 867.38M577.11 859.93L576.9 866.93M577.05 861.93L578.36 860.21L579.22 859.56L580.48 859.33L581.31 859.68L581.69 861.11L581.54 866.11M584.28 858.66L586.6 865.21M589.34 857.76L586.6 865.21M591.56 853.89L591.96 854.31L592.4 853.74L591.99 853.31L591.56 853.89M591.87 857.31L591.66 864.31M595.25 856.71L595.04 863.71M595.16 859.71L595.62 858.14L596.5 856.99L597.36 856.34L598.62 856.11M602.42 855.44L601.56 856.09L600.69 857.24L600.22 858.81L600.19 859.81L600.57 861.24L601.38 862.09L602.21 862.44L603.47 862.21L604.33 861.56L605.2 860.41L605.67 858.84L605.7 857.84L605.32 856.41L604.51 855.56L603.68 855.21L602.42 855.44M608.74 854.31L608.53 861.31M608.68 856.31L609.99 854.59L610.85 853.94L612.12 853.71L612.95 854.06L613.32 855.49L613.17 860.49M616.76 852.89L616.55 859.89M616.7 854.89L618.01 853.16L618.87 852.51L620.13 852.29L620.96 852.64L621.34 854.07L621.19 859.07M621.34 854.07L622.65 852.34L623.51 851.69L624.77 851.47L625.6 851.82L625.98 853.24L625.83 858.24M628.9 853.72L633.96 852.82L633.99 851.82L633.6 850.89L633.19 850.47L632.37 850.12L631.1 850.34L630.24 850.99L629.37 852.14L628.9 853.72L628.87 854.72L629.25 856.14L630.06 856.99L630.89 857.34L632.16 857.12L633.01 856.47L633.89 855.32M637 849.29L636.79 856.29M636.94 851.29L638.26 849.57L639.11 848.92L640.38 848.69L641.21 849.04L641.58 850.47L641.43 855.47M645.55 844.29L645.29 852.79L645.67 854.22L646.5 854.57L647.34 854.42M644.18 848.02L647.13 847.49M658.62 841.97L658.31 852.47M655.67 842.5L661.57 841.45M663.07 847.65L668.13 846.75L668.16 845.75L667.77 844.82L667.36 844.4L666.53 844.05L665.27 844.27L664.41 844.92L663.53 846.07L663.07 847.65L663.04 848.65L663.41 850.07L664.23 850.92L665.06 851.27L666.32 851.05L667.18 850.4L668.05 849.25M675.77 843.9L674.95 843.05L674.12 842.7L672.86 842.92L672 843.57L671.13 844.72L670.66 846.3L670.63 847.3L671.01 848.72L671.82 849.57L672.65 849.92L673.91 849.7L674.77 849.05L675.65 847.9M678.87 838.37L678.55 848.87M678.7 843.87L680.01 842.15L680.87 841.5L682.14 841.27L682.97 841.62L683.34 843.05L683.19 848.05M686.78 840.45L686.57 847.45M686.72 842.45L688.03 840.73L688.89 840.08L690.15 839.85L690.98 840.2L691.36 841.63L691.21 846.63M696.48 838.73L695.62 839.38L694.75 840.53L694.28 842.1L694.25 843.1L694.63 844.53L695.44 845.38L696.27 845.73L697.53 845.5L698.39 844.85L699.27 843.7L699.73 842.13L699.76 841.13L699.39 839.7L698.57 838.85L697.74 838.5L696.48 838.73M702.91 834.1L702.6 844.6M707.87 836.7L707.01 837.35L706.14 838.5L705.67 840.08L705.64 841.08L706.02 842.5L706.83 843.35L707.66 843.7L708.92 843.48L709.78 842.83L710.65 841.68L711.12 840.1L711.15 839.1L710.77 837.68L709.96 836.83L709.13 836.48L707.87 836.7M718.83 834.75L718.59 842.75L718.13 844.33L717.69 844.9L716.83 845.55L715.57 845.78L714.74 845.43M718.79 836.25L717.98 835.4L717.15 835.05L715.88 835.28L715.02 835.93L714.15 837.08L713.68 838.65L713.65 839.65L714.03 841.08L714.84 841.93L715.67 842.28L716.94 842.05L717.8 841.4L718.67 840.25M721.89 830.73L722.3 831.16L722.74 830.58L722.33 830.16L721.89 830.73M722.21 834.16L722 841.16M725.07 836.63L730.13 835.73L730.16 834.73L729.77 833.81L729.36 833.38L728.54 833.03L727.27 833.26L726.41 833.91L725.54 835.06L725.07 836.63L725.04 837.63L725.42 839.06L726.23 839.91L727.06 840.26L728.33 840.03L729.18 839.38L730.06 838.23M737.35 832.96L736.96 832.03L735.71 831.76L734.44 831.98L733.16 832.71L732.71 833.78L733.1 834.71L733.93 835.06L736.02 835.18L736.85 835.53L737.24 836.46L737.23 836.96L736.78 838.03L735.5 838.76L734.23 838.98L732.98 838.71L732.59 837.78M749.31 825.86L745.62 836.96M749.31 825.86L752.37 835.76M746.99 833.23L751.21 832.48M754.79 824.89L754.48 835.39M754.79 824.89L758.59 824.21L759.84 824.49L760.25 824.91L760.64 825.84L760.61 826.84L760.16 827.91L759.72 828.49L758.44 829.21L754.64 829.89M757.59 829.36L760.38 834.34M763.65 823.31L763.33 833.81M763.65 823.31L766.71 833.21M770.4 822.11L766.71 833.21M770.4 822.11L770.08 832.61M775.88 821.14L772.19 832.24M775.88 821.14L778.94 831.04M773.56 828.51L777.78 827.76M786.8 820.69L785.99 819.84L784.74 819.56L783.05 819.86L781.77 820.59L780.9 821.74L780.87 822.74L781.26 823.66L781.67 824.09L782.5 824.44L785 824.99L785.83 825.34L786.23 825.76L786.62 826.69L786.58 828.19L785.71 829.34L784.42 830.06L782.74 830.36L781.49 830.09L780.67 829.24M795.6 821.12L797.92 827.67M800.66 820.22L797.92 827.67M804.08 818.12L804.94 817.47L806.25 815.74L805.94 826.24M812.52 816.62L813.38 815.97L814.69 814.24L814.37 824.74M820.31 822.69L819.87 823.27L820.28 823.69L820.71 823.12L820.31 822.69M828.19 811.85L823.76 819.6L830.08 818.47M828.19 811.85L827.87 822.35M833.61 812.87L834.47 812.22L835.78 810.5L835.46 821" fill="none" stroke="#000" stroke-width="1.0" stroke-linecap="square" stroke-linejoin="round" shape-rendering="crispEdges"/>
<path d="M395.04 338.8L394.43 337.6L392.6 337.27L390.77 337.6L388.94 338.58L388.33 340L388.94 341.2L390.16 341.64L393.21 341.75L394.43 342.19L395.04 343.39L395.04 344.04L394.43 345.46L392.6 346.44L390.77 346.77L388.94 346.44L388.33 345.24M399.31 331.5L399.31 345.25M399.31 338.7L401.14 336.41L402.36 335.54L404.19 335.21L405.41 335.65L406.02 337.51L406.02 344.06M417.61 332.83L417.61 342M417.61 334.8L416.39 333.7L415.17 333.26L413.34 333.59L412.12 334.46L410.9 335.99L410.29 338.06L410.29 339.37L410.9 341.23L412.12 342.32L413.34 342.76L415.17 342.43L416.39 341.56L417.61 340.04M429.2 326.19L429.2 339.94M429.2 332.74L427.98 331.64L426.76 331.2L424.93 331.53L423.71 332.4L422.49 333.93L421.88 336L421.88 337.31L422.49 339.17L423.71 340.26L424.93 340.7L426.76 340.37L427.98 339.5L429.2 337.98M436.52 329.47L435.3 330.34L434.08 331.87L433.47 333.94L433.47 335.25L434.08 337.11L435.3 338.2L436.52 338.64L438.35 338.32L439.57 337.44L440.79 335.92L441.4 333.84L441.4 332.53L440.79 330.68L439.57 329.58L438.35 329.15L436.52 329.47M445.06 327.95L447.5 336.69M449.94 327.09L447.5 336.69M449.94 327.09L452.38 335.82M454.82 326.22L452.38 335.82M458.48 329.5L465.8 328.2L465.8 326.89L465.19 325.69L464.58 325.14L463.36 324.7L461.53 325.03L460.31 325.9L459.09 327.43L458.48 329.5L458.48 330.81L459.09 332.67L460.31 333.76L461.53 334.2L463.36 333.87L464.58 333L465.8 331.47M476.78 317.73L476.78 331.49M476.78 324.28L475.56 323.19L474.34 322.75L472.51 323.08L471.29 323.95L470.07 325.48L469.46 327.55L469.46 328.86L470.07 330.72L471.29 331.81L472.51 332.25L474.34 331.92L475.56 331.05L476.78 329.52M495.08 314.48L493.86 314.7L492.64 315.57L492.03 317.64L492.03 328.78M490.2 319.93L494.47 319.18M498.74 313.83L498.74 327.59M503.01 313.07L503.62 313.62L504.23 312.86L503.62 312.31L503.01 313.07M503.62 317.55L503.62 326.72M515.21 315.49L515.21 325.97L514.6 328.04L513.99 328.81L512.77 329.68L510.94 330L509.72 329.57M515.21 317.46L513.99 316.36L512.77 315.92L510.94 316.25L509.72 317.12L508.5 318.65L507.89 320.72L507.89 322.03L508.5 323.89L509.72 324.98L510.94 325.42L512.77 325.09L513.99 324.22L515.21 322.7M520.09 310.04L520.09 323.79M520.09 317.24L521.92 314.95L523.14 314.08L524.97 313.76L526.19 314.19L526.8 316.05L526.8 322.6M532.29 307.87L532.29 319.01L532.9 320.86L534.12 321.3L535.34 321.08M530.46 312.78L534.73 312.02M539 311.26L539 325.02M539 313.23L540.22 311.7L541.44 310.83L543.27 310.51L544.49 310.94L545.71 312.04L546.32 313.89L546.32 315.2L545.71 317.28L544.49 318.8L543.27 319.68L541.44 320L540.22 319.56L539 318.47M557.3 308.01L557.3 317.18M557.3 309.98L556.08 308.88L554.86 308.45L553.03 308.77L551.81 309.64L550.59 311.17L549.98 313.24L549.98 314.55L550.59 316.41L551.81 317.5L553.03 317.94L554.86 317.62L556.08 316.74L557.3 315.22M562.79 302.45L562.79 313.59L563.4 315.44L564.62 315.88L565.84 315.67M560.96 307.36L565.23 306.6M569.5 301.26L569.5 315.02M569.5 308.47L571.33 306.18L572.55 305.3L574.38 304.98L575.6 305.42L576.21 307.27L576.21 313.82" fill="none" stroke="#000" stroke-width="1.0" stroke-linecap="square" stroke-linejoin="round" shape-rendering="crispEdges"/>
<path d="M390.14 497.89L389.09 512.38M389.99 499.96L391.31 498.37L392.58 497.46L394.41 497.14L395.58 497.61L396.7 498.77L397.16 500.73L397.06 502.11L396.3 504.29L394.98 505.89L393.71 506.8L391.88 507.12L390.71 506.65L389.59 505.48M401.73 495.84L401.03 505.5M401.43 499.98L402.19 497.8L403.51 496.2L404.78 495.29L406.61 494.97M408.75 498.68L416.07 497.37L416.17 495.99L415.66 494.72L415.1 494.14L413.93 493.67L412.1 493.99L410.83 494.9L409.51 496.5L408.75 498.68L408.65 500.06L409.11 502.02L410.23 503.18L411.4 503.65L413.23 503.33L414.5 502.42L415.82 500.82M427.2 493.35L426.08 492.19L424.91 491.72L423.08 492.04L421.81 492.95L420.49 494.55L419.73 496.72L419.63 498.1L420.09 500.07L421.21 501.23L422.38 501.7L424.21 501.38L425.48 500.47L426.8 498.87M431.36 485.8L431.92 486.39L432.58 485.59L432.02 485.01L431.36 485.8M431.62 490.53L430.92 500.19M436.5 489.66L435.45 504.15M436.35 491.73L437.67 490.13L438.94 489.23L440.77 488.9L441.94 489.37L443.06 490.54L443.52 492.5L443.42 493.88L442.66 496.06L441.34 497.65L440.07 498.56L438.24 498.89L437.07 498.41L435.95 497.25M447.83 482.88L448.39 483.46L449.05 482.66L448.49 482.08L447.83 482.88M448.09 487.6L447.39 497.26M453.93 481.79L453.08 493.52L453.54 495.49L454.71 495.96L455.93 495.74M451.75 486.95L456.02 486.19M467 484.24L466.3 493.9M466.85 486.31L465.73 485.15L464.56 484.67L462.73 485L461.46 485.91L460.14 487.5L459.38 489.68L459.28 491.06L459.74 493.02L460.86 494.19L462.03 494.66L463.86 494.33L465.13 493.43L466.45 491.83M472.84 478.43L471.99 490.16L472.45 492.13L473.62 492.6L474.84 492.38M470.66 483.59L474.93 482.83M478.94 477.35L479.5 477.93L480.16 477.13L479.6 476.55L478.94 477.35M479.2 482.07L478.5 491.73M484.08 481.21L483.38 490.87M483.88 483.97L485.86 481.57L487.13 480.66L488.96 480.34L490.13 480.81L490.59 482.77L490.09 489.67M502.38 477.95L501.58 488.99L500.82 491.17L500.16 491.97L498.89 492.88L497.06 493.2L495.89 492.73M502.23 480.02L501.11 478.86L499.94 478.39L498.11 478.71L496.84 479.62L495.52 481.22L494.76 483.39L494.66 484.77L495.12 486.74L496.24 487.9L497.41 488.37L499.24 488.05L500.51 487.14L501.83 485.54M517.02 475.35L515.97 489.84M516.87 477.42L518.19 475.83L519.46 474.92L521.29 474.59L522.46 475.07L523.58 476.23L524.04 478.19L523.94 479.57L523.18 481.75L521.86 483.35L520.59 484.25L518.76 484.58L517.59 484.11L516.47 482.94M535.32 472.1L534.62 481.76M535.17 474.17L534.05 473.01L532.88 472.54L531.05 472.86L529.78 473.77L528.46 475.36L527.7 477.54L527.6 478.92L528.06 480.88L529.18 482.05L530.35 482.52L532.18 482.2L533.45 481.29L534.77 479.69M540.2 471.24L539.5 480.9M539.9 475.38L540.66 473.2L541.98 471.6L543.25 470.69L545.08 470.37M549.09 464.89L548.24 476.62L548.7 478.58L549.87 479.05L551.09 478.84M546.91 470.04L551.18 469.28M555.19 463.8L555.75 464.39L556.41 463.59L555.85 463.01L555.19 463.8M555.45 468.53L554.75 478.19M566.89 468.54L565.77 467.37L564.6 466.9L562.77 467.23L561.5 468.13L560.18 469.73L559.42 471.91L559.32 473.29L559.78 475.25L560.9 476.41L562.07 476.89L563.9 476.56L565.17 475.65L566.49 474.06M571.66 460.88L570.61 475.37M575.28 469.09L582.6 467.79L582.7 466.41L582.19 465.14L581.63 464.56L580.46 464.08L578.63 464.41L577.36 465.31L576.04 466.91L575.28 469.09L575.18 470.47L575.64 472.43L576.76 473.59L577.93 474.07L579.76 473.74L581.03 472.84L582.35 471.24M593.12 463.88L592.61 462.61L590.83 462.24L589 462.57L587.12 463.58L586.41 465.07L586.92 466.34L588.09 466.81L591.09 466.96L592.26 467.44L592.77 468.71L592.72 469.4L592.01 470.89L590.13 471.9L588.3 472.23L586.52 471.86L586.01 470.59" fill="none" stroke="#000" stroke-width="1.0" stroke-linecap="square" stroke-linejoin="round" shape-rendering="crispEdges"/>
<g fill="none" stroke="#000" stroke-width="1" shape-rendering="crispEdges">
<path d="M281.64 710.31L437.5 790.8" fill="none" stroke="#000" stroke-width="1" stroke-dasharray="2 1.5"/>
<path d="M393.8 799.3L491.3 782.6L477.8 774.4" fill="none" stroke="#000" stroke-width="1.1"/>
<path d="M477.8 774.4L520 766.8L587 755.6" fill="none" stroke="#000" stroke-width="1" stroke-dasharray="3 2.5"/>
<path d="M587 755.6L640 756.2L717 757.5L745 760L752 763L762 767L780 769L824 769.2L837 773.5" fill="none" stroke="#000" stroke-width="1" stroke-dasharray="8 5.5"/>
<path d="M501.6 732.4L531.6 732.4L524 741.4L495.4 739Z" fill="none" stroke="#000" stroke-width="1"/>
</g>
<g fill="none" stroke="#1430e0" stroke-width="1.2">
<path d="M503 699.8h14M505 701.5h10M499 704h12M508 703.6l8 2M514 705.8h12M516 707.8h8" fill="none" stroke="#1430e0" stroke-width="1.3"/>
<path d="M499 706.6h8M499.5 705.2h6M507 702.6l4 1" fill="none" stroke="#2a0a90" stroke-width="1.3"/>
<path d="M490.6 735.2l2.5 2.4M493.5 737.6l2.6 2.6M492.2 741l2.4 2M495 742.6l3.2 1.8" fill="none" stroke="#1430e0" stroke-width="1.2"/>
<path d="M530.5 770.6h14M532 772.4h6M533.5 774l4-2.5" fill="none" stroke="#1430e0" stroke-width="1"/>
<path d="M561 770.5h12M566 772.5l6 1M575 769.4h9M578 772h8M583 774.5l6 2M590 772.2h7M586 777.6l5 1.6M597 774.2h6M603 771.8l3 .8M609 772.4l1.5 1.4M581 776l4 3" fill="none" stroke="#1430e0" stroke-width="1"/>
<path d="M567.6 782.4l8 4.6M569.5 782.6l7 2.6M571 785.8h5" fill="none" stroke="#1430e0" stroke-width="1.2"/>
<path d="M591 665.4h7M593 667l6 .6M595.5 668.4l4-1.4" fill="none" stroke="#1430e0" stroke-width="1.2"/>
<path d="M685.6 714.4l2 2M688.8 714.2l1.6 2.2M686.8 716.2h3.4" fill="none" stroke="#1430e0" stroke-width="1"/>
<path d="M229 771.1h17.5" fill="none" stroke="#2060f0" stroke-width="1.1"/>
</g>
<path d="M229.5 771.4l8 0l-2.4 2z" fill="#1040d0"/>
<g fill="#000" stroke="#000" stroke-width="1" stroke-linejoin="round">
<path d="M496.4 716.5l2-3 4-1.6 2-1.4 5 .2 -1.5 1.6 5 1 3 3 2.4 1.4 -1 1.8 -6 .4 -3 1.2 -6-.2 -2-1.4 -3-.4z"/>
<path d="M504 724.2l9-.6 5 2.2 -1 2.6 1.6 3 -1.4 3.6 -3 1.2 -7-.4 -3-3.4 1-3.4 -2.6-2z"/>
<path d="M497.6 730.5l5.5-1.6 -2.5 3 3 2.2 -3 1.6z" stroke-width="0.8"/>
</g>
<g fill="none" stroke="#000" stroke-width="1">
<path d="M499 733.6l3 2.6 2-1.6 3 2 3-.6 2 2.4M510 738.4l2 3.4M514 737l-1.6 4.4M517 736.4l1 2.8" fill="none" stroke="#000" stroke-width="1"/>
</g>
<path d="M503.5 717.4h6M505 720.2h9M507 718.8h4" stroke="#5a1a9a" stroke-width="1" fill="none"/>
<path d="M519 735.2h7M517.5 737.2h9" stroke="#1a3cf0" stroke-width="1.1" fill="none"/>
<path d="M496.2 406l1-1.4 3-1.6 4.6-.2 5 1 4.4 1.4 4 2 4 2 3.6 1.6 -3.6.4 -1 1.8 -16 .2 -3.6-1.6 -3.6-.8 -1.6-2.2z" fill="#000" stroke="#000" stroke-width="0.8" stroke-linejoin="round"/>
<circle cx="504.4" cy="409.4" r="0.6" fill="#fff"/>
<g fill="none" stroke="#000" stroke-width="1" shape-rendering="crispEdges">
<path d="M409 650l1.6 1.2 3.4-.2M411 655.2l-.8 3 1.6 2.6M411 656.6l3.6.2M404.2 668.4l2-1.2 4-.2M406 669.6l1 2.6 3.6 2.2M414.8 665.6l-2 1.2-.8 3 2 3.4M413.6 666.2l3.6.8" fill="none" stroke="#000" stroke-width="1" stroke-dasharray="2.4 1.2"/>
<path d="M412.6 676.6h4l-.4 5.4h-4.2zM414 674l-.6 8.6" fill="none" stroke="#000" stroke-width="1.1"/>
<path d="M416.4 648.2l2 1.2M419.6 651l-1.2 3.4" fill="none" stroke="#302070" stroke-width="1"/>
<path d="M697 665l3.4.2 1.6 1.2M696.4 668.4l.6 2.8 4.6 6.6M697.6 671.4l7.6.2M693.4 678.2l3.6 2.4 3.6 1.8M702.4 682.6l2.8 1.2 .4 4 1.4 2.2M702.6 692l2 1.4 2 1" fill="none" stroke="#000" stroke-width="1" stroke-dasharray="2.6 1.2"/>
<path d="M704 693.4l1.2 6.4M705 694l1 5.6M707.6 697l-.4 3.6-2 3" fill="none" stroke="#000" stroke-width="1.2"/>
<path d="M707 670.2l3.6 3.4" fill="none" stroke="#302070" stroke-width="1"/>
</g>
</svg>
</body></html>
